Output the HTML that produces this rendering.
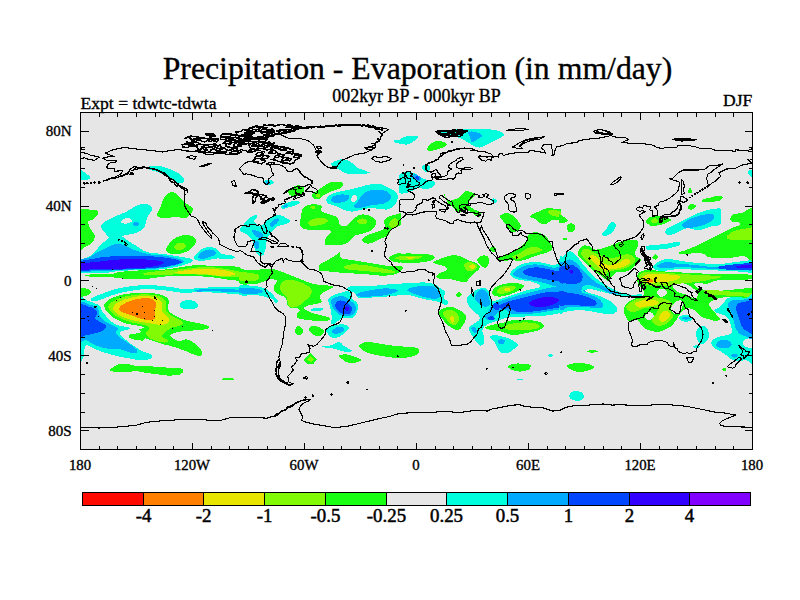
<!DOCTYPE html>
<html><head><meta charset="utf-8"><title>Precipitation - Evaporation</title>
<style>
html,body{margin:0;padding:0;background:#fff;}
body{width:800px;height:600px;position:relative;overflow:hidden;font-family:"Liberation Serif","Times New Roman",serif;color:#000;}
.t{position:absolute;white-space:nowrap;-webkit-text-stroke:0.35px #000;}
</style></head><body>
<svg width="800" height="600" viewBox="0 0 800 600" style="position:absolute;left:0;top:0">
<defs><clipPath id="fr"><rect x="80.5" y="112.5" width="672.0" height="337.0"/></clipPath></defs>
<rect x="80.5" y="112.5" width="672.0" height="337.0" fill="#e6e6e6"/>
<g clip-path="url(#fr)" shape-rendering="crispEdges">
<path d="M79.0,170.0C79.8,168.7 82.2,170.8 84.0,172.0C85.8,173.2 89.3,175.7 90.0,177.0C90.7,178.3 89.8,179.2 88.0,179.6C86.2,180.0 80.5,181.2 79.0,179.6L79.0,170.0Z" fill="#00ffdc"/>
<path d="M148.0,167.0C149.0,166.3 153.3,165.6 156.0,165.6C158.7,165.6 161.0,166.1 164.0,167.0C167.0,167.9 171.0,169.5 174.0,171.0C177.0,172.5 180.3,174.3 182.0,176.0C183.7,177.7 184.2,179.7 184.0,181.0C183.8,182.3 182.7,183.6 181.0,183.6C179.3,183.6 176.5,182.3 174.0,181.0C171.5,179.7 168.7,177.5 166.0,176.0C163.3,174.5 160.7,173.0 158.0,172.0C155.3,171.0 151.7,170.8 150.0,170.0C148.3,169.2 147.0,167.7 148.0,167.0Z" fill="#00ffdc"/>
<path d="M171.0,192.0C173.3,191.5 175.8,193.3 178.0,195.0C180.2,196.7 181.5,199.8 184.0,202.0C186.5,204.2 191.7,206.3 193.0,208.0C194.3,209.7 193.2,210.3 192.0,212.0C190.8,213.7 188.7,217.2 186.0,218.0C183.3,218.8 179.3,217.0 176.0,217.0C172.7,217.0 169.2,218.2 166.0,218.0C162.8,217.8 158.0,217.7 157.0,216.0C156.0,214.3 158.8,211.0 160.0,208.0C161.2,205.0 162.2,200.7 164.0,198.0C165.8,195.3 168.7,192.5 171.0,192.0Z" fill="#19ff14"/>
<path d="M79.0,212.0C81.2,205.7 88.8,210.2 92.0,210.0C95.2,209.8 97.2,210.0 98.0,211.0C98.8,212.0 98.0,214.5 97.0,216.0C96.0,217.5 93.5,219.1 92.0,220.0C90.5,220.9 88.3,220.3 88.0,221.6C87.7,222.9 89.0,225.9 90.0,228.0C91.0,230.1 93.2,232.5 94.0,234.0C94.8,235.5 95.3,235.5 95.0,237.0C94.7,238.5 93.5,241.4 92.0,243.0C90.5,244.6 88.2,245.6 86.0,246.4C83.8,247.2 80.2,253.3 79.0,247.6L79.0,212.0Z" fill="#19ff14"/>
<path d="M101.0,226.0C101.7,224.7 103.5,222.7 106.0,221.0C108.5,219.3 112.7,217.5 116.0,216.0C119.3,214.5 123.0,213.5 126.0,212.0C129.0,210.5 131.3,208.3 134.0,207.0C136.7,205.7 139.3,204.3 142.0,204.0C144.7,203.7 148.3,204.0 150.0,205.0C151.7,206.0 152.3,208.2 152.0,210.0C151.7,211.8 149.0,214.0 148.0,216.0C147.0,218.0 146.7,220.0 146.0,222.0C145.3,224.0 145.3,226.3 144.0,228.0C142.7,229.7 140.3,230.9 138.0,232.0C135.7,233.1 133.0,233.7 130.0,234.4C127.0,235.1 123.0,235.5 120.0,236.4C117.0,237.3 114.3,240.4 112.0,240.0C109.7,239.6 107.7,235.8 106.0,234.0C104.3,232.2 102.8,230.3 102.0,229.0C101.2,227.7 100.3,227.3 101.0,226.0Z" fill="#00ffdc"/>
<path d="M121.0,221.0C121.7,220.2 124.3,218.3 126.0,218.0C127.7,217.7 130.0,218.4 131.0,219.0C132.0,219.6 132.7,220.8 132.0,221.6C131.3,222.4 128.7,223.4 127.0,223.6C125.3,223.8 123.0,223.4 122.0,223.0C121.0,222.6 120.3,221.8 121.0,221.0Z" fill="#e6e6e6"/>
<path d="M133.0,224.0C133.0,223.2 135.0,221.6 136.0,221.6C137.0,221.6 139.0,223.2 139.0,224.0C139.0,224.8 137.0,226.4 136.0,226.4C135.0,226.4 133.0,224.8 133.0,224.0Z" fill="#00aaff"/>
<path d="M79.0,262.0C80.8,259.3 86.8,258.3 90.0,256.0C93.2,253.7 95.7,250.3 98.0,248.0C100.3,245.7 102.0,243.8 104.0,242.0C106.0,240.2 108.3,238.3 110.0,237.0C111.7,235.7 112.7,234.7 114.0,234.0C115.3,233.3 116.5,232.5 118.0,233.0C119.5,233.5 121.0,235.5 123.0,237.0C125.0,238.5 127.5,240.3 130.0,242.0C132.5,243.7 135.7,245.5 138.0,247.0C140.3,248.5 141.7,250.0 144.0,251.0C146.3,252.0 148.7,252.5 152.0,253.0C155.3,253.5 160.0,253.5 164.0,254.0C168.0,254.5 172.0,255.3 176.0,256.0C180.0,256.7 185.2,257.2 188.0,258.0C190.8,258.8 193.7,259.8 193.0,261.0C192.3,262.2 186.8,264.0 184.0,265.0C181.2,266.0 179.3,266.3 176.0,267.0C172.7,267.7 168.3,268.5 164.0,269.0C159.7,269.5 155.7,269.8 150.0,270.0C144.3,270.2 135.7,270.2 130.0,270.4C124.3,270.6 119.3,271.1 116.0,271.4C112.7,271.7 112.7,272.1 110.0,272.4C107.3,272.7 103.3,273.4 100.0,273.4C96.7,273.4 93.5,272.8 90.0,272.6C86.5,272.4 80.8,274.2 79.0,272.4L79.0,262.0Z" fill="#00ffdc"/>
<path d="M79.0,260.0C80.5,257.8 85.2,259.2 88.0,258.0C90.8,256.8 93.3,254.5 96.0,253.0C98.7,251.5 101.7,250.2 104.0,249.0C106.3,247.8 108.0,246.8 110.0,246.0C112.0,245.2 113.7,244.2 116.0,244.0C118.3,243.8 121.3,244.2 124.0,245.0C126.7,245.8 129.3,247.8 132.0,249.0C134.7,250.2 137.0,251.1 140.0,252.0C143.0,252.9 146.0,253.8 150.0,254.4C154.0,255.0 159.7,255.0 164.0,255.6C168.3,256.2 172.7,257.1 176.0,258.0C179.3,258.9 183.3,260.0 184.0,261.0C184.7,262.0 182.7,263.0 180.0,264.0C177.3,265.0 173.0,266.2 168.0,267.0C163.0,267.8 156.3,268.6 150.0,269.0C143.7,269.4 136.7,269.3 130.0,269.6C123.3,269.9 116.3,270.3 110.0,270.6C103.7,270.9 97.2,271.3 92.0,271.4C86.8,271.5 81.2,273.3 79.0,271.4L79.0,260.0Z" fill="#00aaff"/>
<path d="M79.0,262.0C81.2,260.1 87.8,259.8 92.0,259.0C96.2,258.2 99.3,257.5 104.0,257.0C108.7,256.5 114.0,256.2 120.0,256.0C126.0,255.8 133.3,255.4 140.0,255.6C146.7,255.8 154.3,256.4 160.0,257.0C165.7,257.6 170.3,258.2 174.0,259.0C177.7,259.8 181.7,261.1 182.0,262.0C182.3,262.9 179.0,263.6 176.0,264.4C173.0,265.2 168.7,266.3 164.0,267.0C159.3,267.7 153.7,268.0 148.0,268.4C142.3,268.8 136.3,268.9 130.0,269.2C123.7,269.5 116.3,269.8 110.0,270.0C103.7,270.2 97.2,270.3 92.0,270.4C86.8,270.5 81.2,271.8 79.0,270.4L79.0,262.0Z" fill="#0046ff"/>
<path d="M79.0,264.0C81.8,262.8 90.5,262.7 96.0,262.0C101.5,261.3 106.3,260.5 112.0,260.0C117.7,259.5 124.0,259.1 130.0,259.0C136.0,258.9 143.0,259.3 148.0,259.6C153.0,259.9 157.3,260.4 160.0,261.0C162.7,261.6 164.3,262.2 164.0,263.0C163.7,263.8 161.3,264.8 158.0,265.6C154.7,266.4 149.0,267.1 144.0,267.6C139.0,268.1 134.0,268.1 128.0,268.4C122.0,268.7 114.0,269.0 108.0,269.2C102.0,269.4 96.8,269.4 92.0,269.4C87.2,269.4 81.2,270.3 79.0,269.4L79.0,264.0Z" fill="#3200ff"/>
<path d="M194.0,258.0C193.7,256.5 196.3,253.7 198.0,252.0C199.7,250.3 201.7,248.8 204.0,248.0C206.3,247.2 209.7,246.7 212.0,247.0C214.3,247.3 216.5,248.9 218.0,250.0C219.5,251.1 218.7,252.7 221.0,253.6C223.3,254.5 229.7,254.9 232.0,255.6C234.3,256.3 235.7,257.0 235.0,257.6C234.3,258.2 230.8,259.3 228.0,259.4C225.2,259.5 221.3,258.3 218.0,258.4C214.7,258.5 211.0,259.6 208.0,260.0C205.0,260.4 202.3,261.3 200.0,261.0C197.7,260.7 194.3,259.5 194.0,258.0Z" fill="#00ffdc"/>
<path d="M198.0,257.0C198.0,255.8 200.3,253.2 202.0,252.0C203.7,250.8 206.0,249.9 208.0,249.6C210.0,249.3 212.7,249.7 214.0,250.4C215.3,251.1 216.7,252.9 216.0,254.0C215.3,255.1 212.3,256.2 210.0,257.0C207.7,257.8 204.0,259.0 202.0,259.0C200.0,259.0 198.0,258.2 198.0,257.0Z" fill="#00aaff"/>
<path d="M166.0,250.0C165.8,248.4 167.7,245.8 169.0,244.0C170.3,242.2 172.2,240.3 174.0,239.0C175.8,237.7 177.7,236.7 180.0,236.0C182.3,235.3 185.5,234.7 188.0,235.0C190.5,235.3 193.7,236.8 195.0,238.0C196.3,239.2 196.5,240.3 196.0,242.0C195.5,243.7 193.7,246.3 192.0,248.0C190.3,249.7 188.3,251.0 186.0,252.0C183.7,253.0 180.7,253.7 178.0,254.0C175.3,254.3 172.0,254.3 170.0,253.6C168.0,252.9 166.2,251.6 166.0,250.0Z" fill="#19ff14"/>
<path d="M174.0,247.0C174.2,245.8 176.5,243.7 178.0,243.0C179.5,242.3 181.7,242.5 183.0,243.0C184.3,243.5 186.2,244.9 186.0,246.0C185.8,247.1 183.5,248.9 182.0,249.6C180.5,250.3 178.3,250.4 177.0,250.0C175.7,249.6 173.8,248.2 174.0,247.0Z" fill="#82fa05"/>
<path d="M86.0,275.0C88.0,274.6 96.0,273.9 100.0,273.8C104.0,273.7 106.7,274.7 110.0,274.4C113.3,274.1 115.0,272.7 120.0,272.0C125.0,271.3 133.3,270.7 140.0,270.4C146.7,270.1 154.0,270.4 160.0,270.0C166.0,269.6 171.3,268.7 176.0,268.0C180.7,267.3 184.0,266.5 188.0,266.0C192.0,265.5 196.3,265.0 200.0,265.0C203.7,265.0 206.0,265.8 210.0,266.0C214.0,266.2 218.8,266.1 224.0,266.4C229.2,266.7 238.2,265.7 241.0,268.0L241.0,280.0C238.2,281.8 229.2,279.5 224.0,279.0C218.8,278.5 215.3,277.5 210.0,277.0C204.7,276.5 197.7,276.2 192.0,276.0C186.3,275.8 181.3,275.4 176.0,275.6C170.7,275.8 165.0,276.4 160.0,277.0C155.0,277.6 150.7,278.7 146.0,279.0C141.3,279.3 136.3,279.1 132.0,279.0C127.7,278.9 123.3,278.7 120.0,278.4C116.7,278.1 115.3,277.4 112.0,277.2C108.7,277.0 104.0,277.1 100.0,277.0C96.0,276.9 90.3,276.7 88.0,276.4C85.7,276.1 84.0,275.4 86.0,275.0Z" fill="#19ff14"/>
<path d="M144.0,273.0C146.3,272.3 154.7,271.6 160.0,271.0C165.3,270.4 170.7,270.1 176.0,269.6C181.3,269.1 187.3,268.4 192.0,268.0C196.7,267.6 199.3,267.0 204.0,267.0C208.7,267.0 214.7,267.3 220.0,268.0C225.3,268.7 232.5,270.3 236.0,271.0C239.5,271.7 240.2,271.0 241.0,272.0L241.0,277.0C238.2,277.8 229.5,277.3 224.0,277.0C218.5,276.7 213.3,275.4 208.0,275.0C202.7,274.6 197.3,274.5 192.0,274.4C186.7,274.3 181.3,274.3 176.0,274.4C170.7,274.5 165.0,274.9 160.0,275.0C155.0,275.1 148.7,275.3 146.0,275.0C143.3,274.7 141.7,273.7 144.0,273.0Z" fill="#82fa05"/>
<path d="M176.0,272.0C177.7,271.4 183.3,270.6 188.0,270.0C192.7,269.4 198.7,268.7 204.0,268.6C209.3,268.5 215.3,269.0 220.0,269.6C224.7,270.2 229.7,271.1 232.0,272.0C234.3,272.9 236.0,274.3 234.0,275.0C232.0,275.7 225.0,276.2 220.0,276.0C215.0,275.8 209.3,274.4 204.0,274.0C198.7,273.6 192.3,273.7 188.0,273.6C183.7,273.5 180.0,273.9 178.0,273.6C176.0,273.3 174.3,272.6 176.0,272.0Z" fill="#e8e600"/>
<path d="M92.0,298.0C94.0,296.7 99.3,294.7 104.0,293.0C108.7,291.3 113.0,289.3 120.0,288.0C127.0,286.7 137.7,285.2 146.0,285.0C154.3,284.8 163.7,286.3 170.0,287.0C176.3,287.7 179.0,288.8 184.0,289.0C189.0,289.2 194.0,288.3 200.0,288.0C206.0,287.7 213.2,287.0 220.0,287.0C226.8,287.0 237.5,286.8 241.0,288.0L241.0,294.0C237.5,294.8 226.8,293.3 220.0,293.0C213.2,292.7 206.0,292.0 200.0,292.0C194.0,292.0 189.0,293.2 184.0,293.0C179.0,292.8 174.0,291.5 170.0,291.0C166.0,290.5 164.0,290.3 160.0,290.0C156.0,289.7 151.0,288.8 146.0,289.0C141.0,289.2 134.3,290.3 130.0,291.0C125.7,291.7 123.3,292.2 120.0,293.0C116.7,293.8 113.3,294.8 110.0,296.0C106.7,297.2 103.0,299.2 100.0,300.0C97.0,300.8 93.3,301.3 92.0,301.0C90.7,300.7 90.0,299.3 92.0,298.0Z" fill="#00ffdc"/>
<path d="M196.0,290.0C198.0,289.5 205.3,288.8 210.0,288.6C214.7,288.4 218.8,288.8 224.0,289.0C229.2,289.2 238.2,289.5 241.0,290.0C243.8,290.5 243.8,291.7 241.0,292.0C238.2,292.3 229.2,291.7 224.0,291.6C218.8,291.5 214.3,291.2 210.0,291.2C205.7,291.2 200.3,291.8 198.0,291.6C195.7,291.4 194.0,290.5 196.0,290.0Z" fill="#00aaff"/>
<path d="M79.0,289.0C80.2,287.7 84.0,288.1 86.0,288.4C88.0,288.7 90.5,290.0 91.0,291.0C91.5,292.0 90.2,293.5 89.0,294.4C87.8,295.3 85.7,296.1 84.0,296.4C82.3,296.7 79.8,297.6 79.0,296.4L79.0,289.0Z" fill="#19ff14"/>
<path d="M79.0,301.6C80.5,291.8 85.5,300.8 88.0,301.0C90.5,301.2 92.0,302.2 94.0,303.0C96.0,303.8 98.7,304.7 100.0,306.0C101.3,307.3 101.0,309.3 102.0,311.0C103.0,312.7 104.3,314.2 106.0,316.0C107.7,317.8 109.7,320.3 112.0,322.0C114.3,323.7 117.3,325.2 120.0,326.0C122.7,326.8 126.3,326.5 128.0,327.0C129.7,327.5 131.0,328.3 130.0,329.0C129.0,329.7 123.7,330.2 122.0,331.0C120.3,331.8 119.3,332.5 120.0,334.0C120.7,335.5 123.7,338.0 126.0,340.0C128.3,342.0 131.3,344.2 134.0,346.0C136.7,347.8 139.3,349.7 142.0,351.0C144.7,352.3 148.3,352.8 150.0,354.0C151.7,355.2 152.7,357.0 152.0,358.0C151.3,359.0 148.7,359.7 146.0,360.0C143.3,360.3 139.2,359.9 136.0,359.6C132.8,359.3 130.0,358.5 127.0,358.0C124.0,357.5 121.2,357.1 118.0,356.4C114.8,355.7 111.0,354.5 108.0,353.6C105.0,352.7 102.7,352.0 100.0,351.0C97.3,350.0 94.3,348.6 92.0,347.6C89.7,346.6 87.7,344.6 86.4,344.8C85.1,345.0 84.8,347.1 84.4,349.0C84.0,350.9 84.3,354.3 84.0,356.0C83.7,357.7 83.2,358.4 82.4,359.0C81.6,359.6 79.6,369.2 79.0,359.6L79.0,301.6Z" fill="#00ffdc"/>
<path d="M79.0,304.0C80.8,298.3 87.0,304.5 90.0,305.0C93.0,305.5 95.5,305.8 97.0,307.0C98.5,308.2 98.5,310.3 99.0,312.0C99.5,313.7 98.8,315.3 100.0,317.0C101.2,318.7 103.7,320.5 106.0,322.0C108.3,323.5 112.0,324.8 114.0,326.0C116.0,327.2 117.7,327.8 118.0,329.0C118.3,330.2 115.3,331.3 116.0,333.0C116.7,334.7 119.7,337.1 122.0,339.0C124.3,340.9 127.5,342.6 130.0,344.4C132.5,346.2 136.0,348.6 137.0,350.0C138.0,351.4 137.5,352.7 136.0,353.0C134.5,353.3 130.7,352.7 128.0,352.0C125.3,351.3 123.0,349.5 120.0,349.0C117.0,348.5 113.3,349.3 110.0,349.0C106.7,348.7 103.0,347.9 100.0,347.0C97.0,346.1 94.3,344.8 92.0,343.6C89.7,342.4 88.2,340.8 86.0,340.0C83.8,339.2 80.2,345.0 79.0,339.0L79.0,304.0Z" fill="#00aaff"/>
<path d="M79.0,306.0C80.5,301.2 85.3,305.9 88.0,306.4C90.7,306.9 93.5,307.7 95.0,309.0C96.5,310.3 97.0,312.5 97.0,314.0C97.0,315.5 94.5,316.7 95.0,318.0C95.5,319.3 98.2,320.8 100.0,322.0C101.8,323.2 105.2,323.8 106.0,325.0C106.8,326.2 106.0,327.8 105.0,329.0C104.0,330.2 102.2,331.2 100.0,332.0C97.8,332.8 94.3,333.5 92.0,334.0C89.7,334.5 88.2,334.8 86.0,335.0C83.8,335.2 80.2,339.8 79.0,335.0L79.0,306.0Z" fill="#0046ff"/>
<path d="M79.0,310.0C79.4,309.6 80.8,310.1 81.2,310.4C81.6,310.7 82.0,311.6 81.6,312.0C81.2,312.4 79.4,313.1 79.0,312.8C78.6,312.5 78.6,310.4 79.0,310.0Z" fill="#3200ff"/>
<path d="M104.0,306.0C103.8,304.0 105.3,302.5 107.0,301.0C108.7,299.5 111.2,298.1 114.0,297.0C116.8,295.9 120.3,295.1 124.0,294.4C127.7,293.7 131.7,293.2 136.0,293.0C140.3,292.8 146.0,292.8 150.0,293.0C154.0,293.2 157.3,293.7 160.0,294.4C162.7,295.1 164.5,295.9 166.0,297.0C167.5,298.1 168.7,299.5 169.0,301.0C169.3,302.5 168.0,304.3 168.0,306.0C168.0,307.7 168.0,309.5 169.0,311.0C170.0,312.5 171.8,313.7 174.0,315.0C176.2,316.3 179.0,317.8 182.0,319.0C185.0,320.2 188.7,321.2 192.0,322.0C195.3,322.8 199.2,323.3 202.0,324.0C204.8,324.7 208.2,325.6 209.0,326.4C209.8,327.2 208.8,328.4 207.0,329.0C205.2,329.6 201.2,329.7 198.0,330.0C194.8,330.3 191.0,330.7 188.0,331.0C185.0,331.3 182.3,331.3 180.0,331.6C177.7,331.9 175.7,332.3 174.0,333.0C172.3,333.7 170.0,334.6 170.0,335.6C170.0,336.6 172.3,338.0 174.0,339.0C175.7,340.0 178.3,341.5 180.0,341.6C181.7,341.7 182.5,339.9 184.0,339.6C185.5,339.3 187.0,339.2 189.0,340.0C191.0,340.8 193.8,342.5 196.0,344.4C198.2,346.3 201.2,349.7 202.0,351.6C202.8,353.5 202.2,355.4 201.0,356.0C199.8,356.6 197.2,355.7 195.0,355.0C192.8,354.3 190.5,353.0 188.0,352.0C185.5,351.0 182.7,349.9 180.0,349.0C177.3,348.1 174.7,347.2 172.0,346.4C169.3,345.6 166.5,345.1 164.0,344.4C161.5,343.7 159.3,342.7 157.0,342.0C154.7,341.3 152.0,340.6 150.0,340.0C148.0,339.4 146.2,338.2 145.0,338.4C143.8,338.6 143.8,340.7 143.0,341.0C142.2,341.3 141.5,340.2 140.0,340.0C138.5,339.8 135.8,340.0 134.0,339.6C132.2,339.2 129.7,338.4 129.0,337.6C128.3,336.8 128.8,335.3 130.0,334.6C131.2,333.9 134.2,334.0 136.0,333.6C137.8,333.2 140.5,332.7 141.0,332.0C141.5,331.3 138.5,330.3 139.0,329.6C139.5,328.9 144.2,328.3 144.0,327.6C143.8,326.9 140.3,326.1 138.0,325.6C135.7,325.1 132.7,325.0 130.0,324.4C127.3,323.8 124.7,323.1 122.0,322.0C119.3,320.9 116.3,319.5 114.0,318.0C111.7,316.5 109.7,315.0 108.0,313.0C106.3,311.0 104.2,308.0 104.0,306.0Z" fill="#19ff14"/>
<path d="M108.0,307.0C108.0,305.2 110.0,303.5 112.0,302.0C114.0,300.5 117.0,299.1 120.0,298.0C123.0,296.9 126.7,296.2 130.0,295.6C133.3,295.0 136.7,294.6 140.0,294.4C143.3,294.2 146.8,294.3 150.0,294.6C153.2,294.9 156.7,295.3 159.0,296.0C161.3,296.7 162.8,297.8 164.0,299.0C165.2,300.2 166.1,301.5 166.4,303.0C166.7,304.5 165.3,306.3 165.6,308.0C165.9,309.7 166.6,311.5 168.0,313.0C169.4,314.5 172.0,315.8 174.0,317.0C176.0,318.2 178.5,319.0 180.0,320.0C181.5,321.0 183.2,322.0 183.0,323.0C182.8,324.0 180.8,325.2 179.0,326.0C177.2,326.8 173.8,326.9 172.0,327.6C170.2,328.3 169.3,329.1 168.0,330.0C166.7,330.9 165.0,331.8 164.0,333.0C163.0,334.2 161.3,335.8 162.0,337.0C162.7,338.2 167.3,339.1 168.0,340.0C168.7,340.9 167.3,342.1 166.0,342.4C164.7,342.7 162.0,342.4 160.0,342.0C158.0,341.6 156.0,340.8 154.0,340.0C152.0,339.2 149.3,338.2 148.0,337.0C146.7,335.8 145.8,334.2 146.0,333.0C146.2,331.8 148.7,331.1 149.0,330.0C149.3,328.9 149.5,327.4 148.0,326.4C146.5,325.4 143.0,324.7 140.0,324.0C137.0,323.3 133.3,323.0 130.0,322.0C126.7,321.0 123.0,319.5 120.0,318.0C117.0,316.5 114.0,314.8 112.0,313.0C110.0,311.2 108.0,308.8 108.0,307.0Z" fill="#82fa05"/>
<path d="M113.0,308.0C113.2,306.3 115.2,304.4 117.0,303.0C118.8,301.6 121.2,300.6 124.0,299.6C126.8,298.6 130.7,297.6 134.0,297.0C137.3,296.4 140.7,296.0 144.0,296.0C147.3,296.0 151.3,296.3 154.0,297.0C156.7,297.7 158.6,298.7 160.0,300.0C161.4,301.3 162.1,303.3 162.4,305.0C162.7,306.7 161.2,308.3 161.6,310.0C162.0,311.7 163.8,313.5 165.0,315.0C166.2,316.5 168.5,317.7 169.0,319.0C169.5,320.3 169.2,322.0 168.0,323.0C166.8,324.0 164.3,324.8 162.0,325.0C159.7,325.2 157.3,324.5 154.0,324.0C150.7,323.5 145.7,322.7 142.0,322.0C138.3,321.3 135.2,320.8 132.0,320.0C128.8,319.2 125.7,318.2 123.0,317.0C120.3,315.8 117.7,314.5 116.0,313.0C114.3,311.5 112.8,309.7 113.0,308.0Z" fill="#e8e600"/>
<path d="M119.0,309.0C119.0,307.8 120.2,306.3 122.0,305.0C123.8,303.7 127.0,302.1 130.0,301.0C133.0,299.9 136.7,299.0 140.0,298.6C143.3,298.2 147.5,298.0 150.0,298.4C152.5,298.8 154.0,299.7 155.0,301.0C156.0,302.3 156.1,304.2 156.0,306.0C155.9,307.8 154.5,310.2 154.4,312.0C154.3,313.8 156.0,315.7 155.6,317.0C155.2,318.3 153.9,319.6 152.0,320.0C150.1,320.4 146.7,320.1 144.0,319.6C141.3,319.1 138.7,317.9 136.0,317.0C133.3,316.1 130.3,314.8 128.0,314.0C125.7,313.2 123.5,312.8 122.0,312.0C120.5,311.2 119.0,310.2 119.0,309.0Z" fill="#ff8000"/>
<path d="M110.0,370.0C110.3,369.1 113.0,367.1 115.0,366.0C117.0,364.9 119.5,363.9 122.0,363.6C124.5,363.3 127.3,363.9 130.0,364.4C132.7,364.9 135.3,366.2 138.0,366.4C140.7,366.6 143.0,365.5 146.0,365.6C149.0,365.7 152.3,366.7 156.0,367.0C159.7,367.3 164.0,367.4 168.0,367.6C172.0,367.8 177.5,367.4 180.0,368.0C182.5,368.6 183.0,369.9 183.0,371.0C183.0,372.1 182.5,373.6 180.0,374.4C177.5,375.2 172.0,375.7 168.0,375.6C164.0,375.5 159.7,374.4 156.0,374.0C152.3,373.6 149.3,373.5 146.0,373.0C142.7,372.5 139.0,371.1 136.0,371.0C133.0,370.9 130.7,372.2 128.0,372.4C125.3,372.6 122.5,372.1 120.0,372.0C117.5,371.9 114.7,371.9 113.0,371.6C111.3,371.3 109.7,370.9 110.0,370.0Z" fill="#19ff14"/>
<path d="M221.0,379.2C221.0,378.8 225.7,378.0 228.0,378.0C230.3,378.0 235.0,378.8 235.0,379.2C235.0,379.6 230.3,380.2 228.0,380.2C225.7,380.2 221.0,379.6 221.0,379.2Z" fill="#19ff14"/>
<path d="M179.6,304.4C179.9,303.3 181.3,301.7 183.0,301.0C184.7,300.3 187.8,299.8 190.0,300.0C192.2,300.2 194.7,301.0 196.0,302.0C197.3,303.0 198.3,304.8 198.0,306.0C197.7,307.2 196.0,308.5 194.0,309.0C192.0,309.5 188.2,309.2 186.0,309.0C183.8,308.8 182.1,308.4 181.0,307.6C179.9,306.8 179.3,305.5 179.6,304.4Z" fill="#00ffdc"/>
<path d="M331.0,164.0C331.7,162.8 335.5,160.7 338.0,160.0C340.5,159.3 343.7,159.1 346.0,159.6C348.3,160.1 350.0,161.6 352.0,163.0C354.0,164.4 355.7,166.7 358.0,168.0C360.3,169.3 364.0,170.2 366.0,171.0C368.0,171.8 371.0,172.5 370.0,173.0C369.0,173.5 363.0,173.8 360.0,174.0C357.0,174.2 354.5,174.6 352.0,174.4C349.5,174.2 347.0,173.7 345.0,173.0C343.0,172.3 341.8,171.0 340.0,170.0C338.2,169.0 335.5,168.0 334.0,167.0C332.5,166.0 330.3,165.2 331.0,164.0Z" fill="#00ffdc"/>
<path d="M394.0,140.4C395.0,140.0 399.8,139.6 401.0,140.0C402.2,140.4 402.0,142.6 401.0,143.0C400.0,143.4 396.2,142.8 395.0,142.4C393.8,142.0 393.0,140.8 394.0,140.4Z" fill="#00ffdc"/>
<path d="M264.0,181.0C264.7,180.3 268.3,179.8 270.0,180.0C271.7,180.2 274.0,181.6 274.0,182.4C274.0,183.2 271.4,184.7 270.0,185.0C268.6,185.3 266.6,185.1 265.6,184.4C264.6,183.7 263.3,181.7 264.0,181.0Z" fill="#00ffdc"/>
<path d="M265.6,182.0C266.0,181.5 268.3,180.7 269.0,181.0C269.7,181.3 270.4,183.1 270.0,183.6C269.6,184.1 267.1,184.3 266.4,184.0C265.7,183.7 265.2,182.5 265.6,182.0Z" fill="#00aaff"/>
<path d="M288.0,192.0C288.2,190.7 290.3,189.2 292.0,188.0C293.7,186.8 296.0,185.0 298.0,185.0C300.0,185.0 303.2,186.7 304.0,188.0C304.8,189.3 304.0,191.7 303.0,193.0C302.0,194.3 300.0,195.6 298.0,196.0C296.0,196.4 292.7,196.3 291.0,195.6C289.3,194.9 287.8,193.3 288.0,192.0Z" fill="#19ff14"/>
<path d="M312.0,195.0C312.3,193.7 315.0,192.5 317.0,191.0C319.0,189.5 321.8,187.4 324.0,186.0C326.2,184.6 327.7,183.1 330.0,182.4C332.3,181.7 335.8,181.9 338.0,182.0C340.2,182.1 342.3,182.2 343.0,183.0C343.7,183.8 343.2,185.8 342.0,187.0C340.8,188.2 338.0,189.2 336.0,190.0C334.0,190.8 332.0,191.2 330.0,192.0C328.0,192.8 325.7,193.9 324.0,195.0C322.3,196.1 321.5,197.7 320.0,198.4C318.5,199.1 316.3,199.6 315.0,199.0C313.7,198.4 311.7,196.3 312.0,195.0Z" fill="#19ff14"/>
<path d="M315.6,195.6C315.5,194.9 317.2,193.7 318.0,193.6C318.8,193.5 320.3,194.3 320.4,195.0C320.5,195.7 319.2,197.5 318.4,197.6C317.6,197.7 315.7,196.3 315.6,195.6Z" fill="#82fa05"/>
<path d="M326.0,200.0C326.2,198.5 328.0,196.3 330.0,195.0C332.0,193.7 335.0,192.8 338.0,192.0C341.0,191.2 344.3,190.8 348.0,190.0C351.7,189.2 356.3,187.9 360.0,187.0C363.7,186.1 366.7,184.9 370.0,184.4C373.3,183.9 377.3,183.7 380.0,184.0C382.7,184.3 384.2,185.6 386.0,186.4C387.8,187.2 389.4,188.1 391.0,189.0C392.6,189.9 394.4,190.8 395.6,192.0C396.8,193.2 397.8,194.5 398.0,196.0C398.2,197.5 397.7,199.4 397.0,201.0C396.3,202.6 395.5,204.2 394.0,205.6C392.5,207.0 390.3,208.8 388.0,209.4C385.7,210.0 383.0,209.2 380.0,209.0C377.0,208.8 373.3,207.8 370.0,208.0C366.7,208.2 363.0,209.4 360.0,210.0C357.0,210.6 354.7,211.6 352.0,211.6C349.3,211.6 346.7,210.9 344.0,210.0C341.3,209.1 338.5,207.0 336.0,206.0C333.5,205.0 330.7,205.0 329.0,204.0C327.3,203.0 325.8,201.5 326.0,200.0Z" fill="#00ffdc"/>
<path d="M331.0,200.0C330.8,198.8 332.2,196.9 334.0,196.0C335.8,195.1 339.5,194.5 342.0,194.4C344.5,194.3 348.0,194.7 349.0,195.6C350.0,196.5 349.2,198.9 348.0,200.0C346.8,201.1 344.2,201.9 342.0,202.4C339.8,202.9 336.8,203.4 335.0,203.0C333.2,202.6 331.2,201.2 331.0,200.0Z" fill="#00aaff"/>
<path d="M351.0,200.0C350.8,198.9 352.2,196.4 353.0,195.6C353.8,194.8 355.3,194.4 356.0,195.0C356.7,195.6 357.3,197.8 357.0,199.0C356.7,200.2 355.0,201.8 354.0,202.0C353.0,202.2 351.2,201.1 351.0,200.0Z" fill="#e6e6e6"/>
<path d="M354.0,206.0C354.0,204.8 356.7,202.8 358.0,201.0C359.3,199.2 360.3,196.7 362.0,195.0C363.7,193.3 365.3,191.9 368.0,191.0C370.7,190.1 375.0,189.6 378.0,189.6C381.0,189.6 383.8,189.9 386.0,191.0C388.2,192.1 390.5,194.3 391.0,196.0C391.5,197.7 390.5,199.7 389.0,201.0C387.5,202.3 384.8,203.3 382.0,204.0C379.2,204.7 375.0,204.5 372.0,205.0C369.0,205.5 366.3,206.4 364.0,207.0C361.7,207.6 359.7,208.6 358.0,208.4C356.3,208.2 354.0,207.2 354.0,206.0Z" fill="#00aaff"/>
<path d="M281.0,207.0C281.5,206.0 283.8,204.0 286.0,203.0C288.2,202.0 291.7,201.2 294.0,201.0C296.3,200.8 299.7,201.3 300.0,202.0C300.3,202.7 298.0,204.1 296.0,205.0C294.0,205.9 290.2,206.9 288.0,207.6C285.8,208.3 284.2,209.1 283.0,209.0C281.8,208.9 280.5,208.0 281.0,207.0Z" fill="#00ffdc"/>
<path d="M283.0,206.0C283.4,205.5 286.2,204.4 287.0,204.4C287.8,204.4 288.4,205.5 288.0,206.0C287.6,206.5 285.2,207.6 284.4,207.6C283.6,207.6 282.6,206.5 283.0,206.0Z" fill="#00aaff"/>
<path d="M300.0,224.0C299.8,222.0 300.5,218.7 301.0,216.0C301.5,213.3 301.8,209.8 303.0,208.0C304.2,206.2 305.8,205.6 308.0,205.0C310.2,204.4 313.7,204.2 316.0,204.4C318.3,204.6 321.2,204.9 322.0,206.0C322.8,207.1 320.0,209.7 321.0,211.0C322.0,212.3 325.5,213.1 328.0,214.0C330.5,214.9 334.2,215.2 336.0,216.4C337.8,217.6 338.3,219.6 339.0,221.0C339.7,222.4 338.8,224.2 340.0,225.0C341.2,225.8 344.2,226.5 346.0,226.0C347.8,225.5 349.3,223.5 351.0,222.0C352.7,220.5 354.2,218.3 356.0,217.0C357.8,215.7 359.7,214.6 362.0,214.4C364.3,214.2 367.7,214.9 370.0,216.0C372.3,217.1 375.3,219.0 376.0,221.0C376.7,223.0 375.3,226.2 374.0,228.0C372.7,229.8 370.3,230.9 368.0,232.0C365.7,233.1 362.3,233.7 360.0,234.4C357.7,235.1 355.7,234.9 354.0,236.0C352.3,237.1 351.7,239.6 350.0,241.0C348.3,242.4 346.7,243.7 344.0,244.4C341.3,245.1 337.2,245.0 334.0,245.0C330.8,245.0 326.3,245.6 325.0,244.4C323.7,243.2 325.0,240.1 326.0,238.0C327.0,235.9 330.7,233.3 331.0,232.0C331.3,230.7 329.8,230.3 328.0,230.0C326.2,229.7 323.0,230.4 320.0,230.4C317.0,230.4 313.0,230.4 310.0,230.0C307.0,229.6 303.7,229.0 302.0,228.0C300.3,227.0 300.2,226.0 300.0,224.0Z" fill="#19ff14"/>
<path d="M308.0,222.0C308.5,220.9 310.7,219.7 313.0,219.0C315.3,218.3 319.5,217.8 322.0,218.0C324.5,218.2 327.5,219.1 328.0,220.0C328.5,220.9 327.0,222.7 325.0,223.6C323.0,224.5 318.5,225.3 316.0,225.6C313.5,225.9 311.3,226.2 310.0,225.6C308.7,225.0 307.5,223.1 308.0,222.0Z" fill="#82fa05"/>
<path d="M357.0,221.0C357.2,220.0 360.3,218.6 362.0,218.4C363.7,218.2 366.3,219.1 367.0,220.0C367.7,220.9 367.0,222.9 366.0,223.6C365.0,224.3 362.5,224.8 361.0,224.4C359.5,224.0 356.8,222.0 357.0,221.0Z" fill="#82fa05"/>
<path d="M310.0,207.0C310.2,206.5 314.3,205.7 315.0,206.0C315.7,206.3 314.8,208.8 314.0,209.0C313.2,209.2 309.8,207.5 310.0,207.0Z" fill="#82fa05"/>
<path d="M362.0,239.0C362.8,237.8 365.7,236.2 368.0,235.0C370.3,233.8 373.7,232.8 376.0,232.0C378.3,231.2 380.5,231.0 382.0,230.0C383.5,229.0 384.7,227.5 385.0,226.0C385.3,224.5 383.5,222.5 384.0,221.0C384.5,219.5 386.0,218.1 388.0,217.0C390.0,215.9 393.8,214.9 396.0,214.4C398.2,213.9 400.2,212.3 401.0,214.0L401.0,224.4C399.8,226.7 395.8,226.7 394.0,228.0C392.2,229.3 391.0,230.7 390.0,232.0C389.0,233.3 389.7,234.8 388.0,236.0C386.3,237.2 382.3,238.0 380.0,239.0C377.7,240.0 376.0,241.2 374.0,242.0C372.0,242.8 369.8,243.6 368.0,243.6C366.2,243.6 364.0,242.8 363.0,242.0C362.0,241.2 361.2,240.2 362.0,239.0Z" fill="#19ff14"/>
<path d="M389.0,224.0C389.3,222.6 391.7,219.8 393.0,219.0C394.3,218.2 396.0,218.3 397.0,219.0C398.0,219.7 399.3,221.7 399.0,223.0C398.7,224.3 396.3,226.2 395.0,227.0C393.7,227.8 392.0,228.1 391.0,227.6C390.0,227.1 388.7,225.4 389.0,224.0Z" fill="#82fa05"/>
<path d="M244.0,224.0C245.3,222.3 246.2,220.5 248.0,219.0C249.8,217.5 253.5,215.3 255.0,215.0C256.5,214.7 257.2,216.0 257.0,217.0C256.8,218.0 253.5,219.5 254.0,221.0C254.5,222.5 258.3,225.7 260.0,226.0C261.7,226.3 262.7,224.0 264.0,223.0C265.3,222.0 266.3,221.2 268.0,220.0C269.7,218.8 272.0,216.8 274.0,216.0C276.0,215.2 278.0,214.7 280.0,215.0C282.0,215.3 284.3,217.0 286.0,218.0C287.7,219.0 290.0,220.0 290.0,221.0C290.0,222.0 288.0,223.2 286.0,224.0C284.0,224.8 280.2,225.0 278.0,226.0C275.8,227.0 274.3,228.7 273.0,230.0C271.7,231.3 271.0,232.5 270.0,234.0C269.0,235.5 267.7,237.0 267.0,239.0C266.3,241.0 266.5,243.5 266.0,246.0C265.5,248.5 265.0,252.3 264.0,254.0C263.0,255.7 261.3,256.3 260.0,256.0C258.7,255.7 257.0,253.7 256.0,252.0C255.0,250.3 254.7,248.0 254.0,246.0C253.3,244.0 253.0,241.8 252.0,240.0C251.0,238.2 249.7,236.3 248.0,235.0C246.3,233.7 243.3,233.0 242.0,232.0C240.7,231.0 239.7,230.3 240.0,229.0C240.3,227.7 242.7,225.7 244.0,224.0Z" fill="#00ffdc"/>
<path d="M252.0,230.0C252.8,229.7 256.2,230.3 258.0,231.0C259.8,231.7 262.3,232.8 263.0,234.0C263.7,235.2 263.0,237.5 262.0,238.0C261.0,238.5 258.5,237.8 257.0,237.0C255.5,236.2 253.8,234.2 253.0,233.0C252.2,231.8 251.2,230.3 252.0,230.0Z" fill="#00aaff"/>
<path d="M270.0,224.0C270.5,222.7 273.5,219.8 275.0,219.0C276.5,218.2 278.7,218.3 279.0,219.0C279.3,219.7 278.2,221.7 277.0,223.0C275.8,224.3 273.2,226.8 272.0,227.0C270.8,227.2 269.5,225.3 270.0,224.0Z" fill="#00aaff"/>
<path d="M254.0,242.0C254.3,240.7 257.2,240.2 258.0,241.0C258.8,241.8 259.3,245.7 259.0,247.0C258.7,248.3 256.8,249.8 256.0,249.0C255.2,248.2 253.7,243.3 254.0,242.0Z" fill="#00aaff"/>
<path d="M389.0,258.0C389.2,256.8 392.0,255.1 394.0,254.4C396.0,253.7 399.8,252.3 401.0,253.6L401.0,262.0C399.7,263.3 395.0,262.3 393.0,261.6C391.0,260.9 388.8,259.2 389.0,258.0Z" fill="#19ff14"/>
<path d="M392.0,258.0C392.3,257.3 395.5,256.3 397.0,256.0C398.5,255.7 400.3,255.3 401.0,256.0L401.0,260.4C400.0,261.1 396.5,260.8 395.0,260.4C393.5,260.0 391.7,258.7 392.0,258.0Z" fill="#82fa05"/>
<path d="M239.0,270.0C241.2,267.9 247.8,270.6 252.0,270.4C256.2,270.2 260.7,269.2 264.0,269.0C267.3,268.8 269.3,268.7 272.0,269.0C274.7,269.3 277.0,270.0 280.0,271.0C283.0,272.0 286.7,273.7 290.0,275.0C293.3,276.3 296.7,277.7 300.0,279.0C303.3,280.3 306.7,282.0 310.0,283.0C313.3,284.0 316.7,284.6 320.0,285.0C323.3,285.4 327.7,285.3 330.0,285.6C332.3,285.9 334.3,286.3 334.0,287.0C333.7,287.7 330.0,289.0 328.0,290.0C326.0,291.0 323.3,291.7 322.0,293.0C320.7,294.3 320.0,296.5 320.0,298.0C320.0,299.5 322.7,301.0 322.0,302.0C321.3,303.0 318.0,303.5 316.0,304.0C314.0,304.5 312.0,304.3 310.0,305.0C308.0,305.7 304.0,306.8 304.0,308.0C304.0,309.2 307.3,310.8 310.0,312.0C312.7,313.2 317.0,314.2 320.0,315.0C323.0,315.8 326.3,316.2 328.0,317.0C329.7,317.8 331.3,319.3 330.0,320.0C328.7,320.7 323.7,321.0 320.0,321.0C316.3,321.0 311.7,320.5 308.0,320.0C304.3,319.5 299.8,319.0 298.0,318.0C296.2,317.0 296.7,315.3 297.0,314.0C297.3,312.7 300.2,311.0 300.0,310.0C299.8,309.0 297.7,308.4 296.0,308.0C294.3,307.6 291.5,308.3 290.0,307.6C288.5,306.9 287.7,305.6 287.0,304.0C286.3,302.4 287.2,299.5 286.0,298.0C284.8,296.5 281.8,296.0 280.0,295.0C278.2,294.0 276.0,293.5 275.0,292.0C274.0,290.5 273.7,287.8 274.0,286.0C274.3,284.2 277.3,282.2 277.0,281.0C276.7,279.8 273.5,279.2 272.0,279.0C270.5,278.8 270.0,279.3 268.0,280.0C266.0,280.7 263.0,282.3 260.0,283.0C257.0,283.7 253.5,284.4 250.0,284.4C246.5,284.4 240.8,285.4 239.0,283.0L239.0,270.0Z" fill="#19ff14"/>
<path d="M239.0,272.0C240.8,270.8 246.7,272.5 250.0,273.0C253.3,273.5 257.8,273.8 259.0,275.0C260.2,276.2 258.8,279.0 257.0,280.0C255.2,281.0 251.0,281.0 248.0,281.0C245.0,281.0 240.5,281.5 239.0,280.0L239.0,272.0Z" fill="#82fa05"/>
<path d="M282.0,282.0C283.7,280.4 287.0,279.6 290.0,279.6C293.0,279.6 297.0,280.9 300.0,282.0C303.0,283.1 306.0,284.5 308.0,286.0C310.0,287.5 311.7,289.3 312.0,291.0C312.3,292.7 311.0,294.5 310.0,296.0C309.0,297.5 307.7,298.5 306.0,300.0C304.3,301.5 302.3,303.7 300.0,305.0C297.7,306.3 294.0,307.8 292.0,307.6C290.0,307.4 288.8,305.6 288.0,304.0C287.2,302.4 287.8,299.7 287.0,298.0C286.2,296.3 284.2,295.5 283.0,294.0C281.8,292.5 280.2,291.0 280.0,289.0C279.8,287.0 280.3,283.6 282.0,282.0Z" fill="#82fa05"/>
<path d="M239.0,286.0C240.8,284.5 246.5,285.4 250.0,285.6C253.5,285.8 257.3,286.4 260.0,287.0C262.7,287.6 264.3,288.2 266.0,289.0C267.7,289.8 268.7,290.8 270.0,292.0C271.3,293.2 272.7,294.5 274.0,296.0C275.3,297.5 277.7,299.8 278.0,301.0C278.3,302.2 277.0,303.3 276.0,303.0C275.0,302.7 273.3,299.8 272.0,299.0C270.7,298.2 269.7,298.5 268.0,298.0C266.3,297.5 264.3,296.5 262.0,296.0C259.7,295.5 256.7,295.1 254.0,295.0C251.3,294.9 248.5,295.7 246.0,295.6C243.5,295.5 240.2,296.0 239.0,294.4L239.0,286.0Z" fill="#00ffdc"/>
<path d="M239.0,288.6C240.8,287.8 246.5,287.8 250.0,288.0C253.5,288.2 257.8,288.9 260.0,289.6C262.2,290.3 263.3,291.3 263.0,292.0C262.7,292.7 260.5,293.3 258.0,293.6C255.5,293.9 251.2,293.7 248.0,293.6C244.8,293.5 240.5,293.8 239.0,293.0L239.0,288.6Z" fill="#00aaff"/>
<path d="M328.0,300.0C328.3,298.3 330.0,297.2 332.0,296.0C334.0,294.8 337.3,293.8 340.0,293.0C342.7,292.2 346.2,290.8 348.0,291.0C349.8,291.2 350.3,292.7 351.0,294.0C351.7,295.3 351.3,297.8 352.0,299.0C352.7,300.2 354.0,300.0 355.0,301.0C356.0,302.0 357.7,303.2 358.0,305.0C358.3,306.8 357.7,310.0 357.0,312.0C356.3,314.0 355.5,315.9 354.0,317.0C352.5,318.1 350.0,318.2 348.0,318.4C346.0,318.6 343.7,317.6 342.0,318.0C340.3,318.4 339.3,320.0 338.0,321.0C336.7,322.0 335.2,323.7 334.0,324.0C332.8,324.3 331.3,324.0 331.0,323.0C330.7,322.0 332.0,319.8 332.0,318.0C332.0,316.2 331.3,314.0 331.0,312.0C330.7,310.0 330.5,308.0 330.0,306.0C329.5,304.0 327.7,301.7 328.0,300.0Z" fill="#00ffdc"/>
<path d="M331.0,301.0C331.3,299.3 333.2,298.4 335.0,297.6C336.8,296.8 340.0,295.9 342.0,296.0C344.0,296.1 345.3,297.0 347.0,298.0C348.7,299.0 350.5,300.5 352.0,302.0C353.5,303.5 355.7,305.0 356.0,307.0C356.3,309.0 355.2,312.5 354.0,314.0C352.8,315.5 351.0,315.7 349.0,316.0C347.0,316.3 344.0,316.1 342.0,315.6C340.0,315.1 338.5,314.3 337.0,313.0C335.5,311.7 334.0,310.0 333.0,308.0C332.0,306.0 330.7,302.7 331.0,301.0Z" fill="#00aaff"/>
<path d="M335.0,305.0C335.0,303.3 336.5,301.7 338.0,301.0C339.5,300.3 342.0,300.3 344.0,301.0C346.0,301.7 348.7,303.5 350.0,305.0C351.3,306.5 352.2,308.5 352.0,310.0C351.8,311.5 350.5,313.3 349.0,314.0C347.5,314.7 344.8,314.5 343.0,314.0C341.2,313.5 339.3,312.5 338.0,311.0C336.7,309.5 335.0,306.7 335.0,305.0Z" fill="#0046ff"/>
<path d="M344.0,308.0C344.0,307.2 346.1,306.2 347.0,306.4C347.9,306.6 349.6,308.2 349.6,309.0C349.6,309.8 347.9,311.2 347.0,311.0C346.1,310.8 344.0,308.8 344.0,308.0Z" fill="#3200ff"/>
<path d="M326.0,331.0C326.3,329.8 328.3,328.0 330.0,327.0C331.7,326.0 333.7,325.4 336.0,325.0C338.3,324.6 341.8,324.1 344.0,324.4C346.2,324.7 348.5,325.9 349.0,327.0C349.5,328.1 348.2,329.7 347.0,331.0C345.8,332.3 343.8,333.8 342.0,335.0C340.2,336.2 337.8,337.7 336.0,338.0C334.2,338.3 332.3,337.7 331.0,337.0C329.7,336.3 328.8,335.0 328.0,334.0C327.2,333.0 325.7,332.2 326.0,331.0Z" fill="#00ffdc"/>
<path d="M332.0,331.0C332.3,330.0 334.3,328.3 336.0,327.6C337.7,326.9 340.7,326.6 342.0,327.0C343.3,327.4 344.3,329.0 344.0,330.0C343.7,331.0 341.7,332.4 340.0,333.0C338.3,333.6 335.3,333.9 334.0,333.6C332.7,333.3 331.7,332.0 332.0,331.0Z" fill="#00aaff"/>
<path d="M295.0,330.0C295.3,328.7 296.8,326.3 298.0,326.0C299.2,325.7 301.2,326.8 302.0,328.0C302.8,329.2 303.5,331.8 303.0,333.0C302.5,334.2 300.2,334.8 299.0,335.0C297.8,335.2 296.7,334.8 296.0,334.0C295.3,333.2 294.7,331.3 295.0,330.0Z" fill="#19ff14"/>
<path d="M309.0,328.0C309.3,326.8 311.2,326.1 313.0,326.0C314.8,325.9 318.2,326.8 320.0,327.6C321.8,328.4 323.7,329.8 324.0,331.0C324.3,332.2 323.3,334.2 322.0,335.0C320.7,335.8 317.8,336.3 316.0,336.0C314.2,335.7 312.2,334.3 311.0,333.0C309.8,331.7 308.7,329.2 309.0,328.0Z" fill="#19ff14"/>
<path d="M311.0,309.0C311.9,308.6 315.0,308.1 317.0,308.0C319.0,307.9 322.2,308.0 323.0,308.4C323.8,308.8 323.2,310.0 322.0,310.4C320.8,310.8 317.7,311.0 316.0,311.0C314.3,311.0 312.4,310.9 311.6,310.6C310.8,310.3 310.1,309.4 311.0,309.0Z" fill="#00ffdc"/>
<path d="M322.0,346.4C322.3,346.0 327.2,346.3 330.0,345.6C332.8,344.9 336.7,341.9 339.0,342.0C341.3,342.1 341.8,344.5 344.0,346.0C346.2,347.5 352.0,350.1 352.0,351.0C352.0,351.9 346.7,351.9 344.0,351.6C341.3,351.3 338.7,349.6 336.0,349.0C333.3,348.4 330.3,348.4 328.0,348.0C325.7,347.6 321.7,346.8 322.0,346.4Z" fill="#00ffdc"/>
<path d="M359.0,346.4C359.3,345.4 363.2,343.6 366.0,343.0C368.8,342.4 372.7,342.5 376.0,343.0C379.3,343.5 382.7,345.0 386.0,346.0C389.3,347.0 393.5,348.4 396.0,349.0C398.5,349.6 400.2,348.6 401.0,349.6L401.0,355.0C399.5,356.0 395.2,355.8 392.0,355.6C388.8,355.4 385.3,354.4 382.0,353.6C378.7,352.8 375.0,351.8 372.0,351.0C369.0,350.2 366.2,349.8 364.0,349.0C361.8,348.2 358.7,347.4 359.0,346.4Z" fill="#19ff14"/>
<path d="M303.0,360.0L310.0,353.0L317.0,359.0L313.0,364.4L308.0,364.0Z" fill="#19ff14"/>
<path d="M307.0,360.0L310.4,356.0L314.0,359.6L311.0,362.4Z" fill="#82fa05"/>
<path d="M339.0,355.6C339.7,354.8 343.5,354.3 346.0,354.4C348.5,354.5 351.5,355.5 354.0,356.4C356.5,357.3 361.0,358.9 361.0,360.0C361.0,361.1 356.5,362.7 354.0,363.0C351.5,363.3 348.0,362.7 346.0,362.0C344.0,361.3 343.2,360.1 342.0,359.0C340.8,357.9 338.3,356.4 339.0,355.6Z" fill="#19ff14"/>
<path d="M399.0,140.0C400.5,138.7 404.8,136.6 408.0,136.0C411.2,135.4 417.0,135.6 418.0,136.4C419.0,137.2 415.7,139.7 414.0,141.0C412.3,142.3 410.5,144.0 408.0,144.4C405.5,144.8 400.5,144.3 399.0,143.6C397.5,142.9 397.5,141.3 399.0,140.0Z" fill="#00ffdc"/>
<path d="M437.0,132.0C438.2,131.2 442.2,130.4 446.0,130.0C449.8,129.6 455.0,129.6 460.0,129.4C465.0,129.2 470.7,129.0 476.0,129.0C481.3,129.0 488.0,129.2 492.0,129.6C496.0,130.0 498.0,130.7 500.0,131.6C502.0,132.5 504.3,133.8 504.0,135.0C503.7,136.2 500.3,137.7 498.0,139.0C495.7,140.3 493.0,141.6 490.0,143.0C487.0,144.4 483.0,147.3 480.0,147.6C477.0,147.9 474.7,146.3 472.0,145.0C469.3,143.7 466.7,141.3 464.0,140.0C461.3,138.7 459.0,137.7 456.0,137.0C453.0,136.3 448.8,136.3 446.0,136.0C443.2,135.7 440.5,135.7 439.0,135.0C437.5,134.3 435.8,132.8 437.0,132.0Z" fill="#00ffdc"/>
<path d="M468.0,132.0C469.0,131.2 473.7,131.4 476.0,132.0C478.3,132.6 481.7,134.4 482.0,135.6C482.3,136.8 479.7,137.9 478.0,139.0C476.3,140.1 473.3,142.3 472.0,142.0C470.7,141.7 470.7,138.7 470.0,137.0C469.3,135.3 467.0,132.8 468.0,132.0Z" fill="#00aaff"/>
<path d="M427.0,149.0C427.2,147.8 428.3,145.3 430.0,144.0C431.7,142.7 434.7,141.3 437.0,141.0C439.3,140.7 442.3,141.3 444.0,142.0C445.7,142.7 447.3,144.0 447.0,145.0C446.7,146.0 444.2,147.1 442.0,148.0C439.8,148.9 436.2,149.9 434.0,150.4C431.8,150.9 430.2,151.2 429.0,151.0C427.8,150.8 426.8,150.2 427.0,149.0Z" fill="#19ff14"/>
<path d="M399.0,176.0C400.2,172.7 403.5,172.5 406.0,172.0C408.5,171.5 411.3,172.0 414.0,173.0C416.7,174.0 419.3,176.7 422.0,178.0C424.7,179.3 427.8,180.3 430.0,181.0C432.2,181.7 434.5,181.0 435.0,182.0C435.5,183.0 434.5,185.8 433.0,187.0C431.5,188.2 428.5,188.8 426.0,189.0C423.5,189.2 420.3,187.7 418.0,188.0C415.7,188.3 414.0,190.2 412.0,191.0C410.0,191.8 408.2,192.8 406.0,193.0C403.8,193.2 400.2,194.8 399.0,192.0L399.0,176.0Z" fill="#00ffdc"/>
<path d="M422.0,167.0C422.3,165.9 424.7,164.4 426.0,164.4C427.3,164.4 429.7,165.7 430.0,167.0C430.3,168.3 429.0,171.3 428.0,172.0C427.0,172.7 425.0,171.8 424.0,171.0C423.0,170.2 421.7,168.1 422.0,167.0Z" fill="#00ffdc"/>
<path d="M411.0,176.0C411.2,175.1 414.3,174.1 416.0,174.4C417.7,174.7 420.3,176.9 421.0,178.0C421.7,179.1 421.0,180.7 420.0,181.0C419.0,181.3 416.5,180.8 415.0,180.0C413.5,179.2 410.8,176.9 411.0,176.0Z" fill="#00aaff"/>
<path d="M415.0,177.0C415.2,176.5 417.2,176.1 418.0,176.4C418.8,176.7 419.8,178.5 419.6,179.0C419.4,179.5 417.8,179.9 417.0,179.6C416.2,179.3 414.8,177.5 415.0,177.0Z" fill="#0046ff"/>
<path d="M443.8,192.2C443.4,191.6 444.3,196.1 445.0,197.5C445.7,198.9 446.9,200.2 448.1,200.6C449.4,201.0 450.7,200.5 452.5,200.0C454.3,199.5 457.1,198.5 458.8,197.5C460.4,196.5 461.4,194.8 462.5,193.8C463.6,192.7 464.2,191.5 465.6,191.2C467.1,191.0 469.7,191.7 471.2,192.2C472.8,192.8 474.7,193.5 475.0,194.4C475.3,195.2 474.0,196.6 473.1,197.5C472.3,198.4 470.8,199.1 470.0,200.0C469.2,200.9 468.1,202.1 468.1,203.1C468.1,204.2 469.1,205.2 470.0,206.2C470.9,207.3 472.3,208.5 473.8,209.4C475.2,210.2 477.5,210.5 478.8,211.2C480.0,212.0 481.0,212.8 481.2,213.8C481.5,214.7 480.8,216.5 480.0,216.9C479.2,217.3 477.4,216.9 476.2,216.2C475.1,215.6 474.4,214.0 473.1,213.1C471.9,212.3 470.1,211.8 468.8,211.2C467.4,210.7 466.2,210.0 465.0,210.0C463.8,210.0 462.5,210.8 461.2,211.2C460.0,211.7 458.5,212.7 457.5,212.5C456.5,212.3 455.8,210.9 455.0,210.0C454.2,209.1 453.4,207.8 452.5,206.9C451.6,205.9 450.3,205.3 449.4,204.4C448.4,203.4 447.8,203.3 446.9,201.2C445.9,199.2 444.1,192.9 443.8,192.2Z" fill="#19ff14"/>
<path d="M491.0,200.0C491.0,199.2 493.0,198.2 494.0,198.4C495.0,198.6 497.0,200.2 497.0,201.0C497.0,201.8 495.0,203.4 494.0,203.2C493.0,203.0 491.0,200.8 491.0,200.0Z" fill="#00ffdc"/>
<path d="M500.0,216.0C500.5,214.7 504.0,213.2 506.0,213.0C508.0,212.8 510.0,213.7 512.0,215.0C514.0,216.3 516.5,219.2 518.0,221.0C519.5,222.8 521.2,224.3 521.0,226.0C520.8,227.7 518.5,230.0 517.0,231.0C515.5,232.0 513.7,232.8 512.0,232.0C510.3,231.2 508.5,227.8 507.0,226.0C505.5,224.2 504.2,222.7 503.0,221.0C501.8,219.3 499.5,217.3 500.0,216.0Z" fill="#19ff14"/>
<path d="M530.0,216.0C530.8,214.7 537.0,212.3 540.0,211.0C543.0,209.7 545.3,208.3 548.0,208.0C550.7,207.7 553.8,208.7 556.0,209.0C558.2,209.3 560.2,208.3 561.0,210.0L561.0,219.0C559.5,220.7 554.5,219.2 552.0,220.0C549.5,220.8 548.0,223.5 546.0,224.0C544.0,224.5 541.8,223.8 540.0,223.0C538.2,222.2 536.7,220.2 535.0,219.0C533.3,217.8 529.2,217.3 530.0,216.0Z" fill="#19ff14"/>
<path d="M548.0,211.0C548.8,210.3 551.8,209.8 554.0,210.0C556.2,210.2 559.8,210.8 561.0,212.0L561.0,217.0C559.8,217.7 556.0,216.5 554.0,216.0C552.0,215.5 550.0,214.8 549.0,214.0C548.0,213.2 547.2,211.7 548.0,211.0Z" fill="#82fa05"/>
<path d="M498.0,259.0C498.0,258.0 501.7,256.2 504.0,255.0C506.3,253.8 509.3,253.3 512.0,252.0C514.7,250.7 517.7,248.8 520.0,247.0C522.3,245.2 524.7,243.0 526.0,241.0C527.3,239.0 526.3,236.5 528.0,235.0C529.7,233.5 533.3,232.0 536.0,232.0C538.7,232.0 541.7,233.3 544.0,235.0C546.3,236.7 548.7,239.7 550.0,242.0C551.3,244.3 552.7,247.2 552.0,249.0C551.3,250.8 548.3,252.0 546.0,253.0C543.7,254.0 540.7,254.2 538.0,255.0C535.3,255.8 533.0,257.0 530.0,258.0C527.0,259.0 523.0,260.7 520.0,261.0C517.0,261.3 514.7,260.0 512.0,260.0C509.3,260.0 506.3,261.2 504.0,261.0C501.7,260.8 498.0,260.0 498.0,259.0Z" fill="#19ff14"/>
<path d="M512.0,257.0C512.0,256.0 517.3,254.5 520.0,253.0C522.7,251.5 525.3,249.0 528.0,248.0C530.7,247.0 533.7,246.7 536.0,247.0C538.3,247.3 542.0,249.0 542.0,250.0C542.0,251.0 538.3,252.2 536.0,253.0C533.7,253.8 530.7,254.0 528.0,255.0C525.3,256.0 522.7,258.7 520.0,259.0C517.3,259.3 512.0,258.0 512.0,257.0Z" fill="#82fa05"/>
<path d="M490.0,249.0C489.8,248.0 491.9,246.4 493.0,246.4C494.1,246.4 496.2,248.0 496.4,249.0C496.6,250.0 495.1,252.4 494.0,252.4C492.9,252.4 490.2,250.0 490.0,249.0Z" fill="#19ff14"/>
<path d="M399.0,255.0C400.8,253.6 406.2,253.8 410.0,253.6C413.8,253.4 418.3,253.8 422.0,254.0C425.7,254.2 429.8,254.3 432.0,255.0C434.2,255.7 435.3,257.0 435.0,258.0C434.7,259.0 432.5,260.3 430.0,261.0C427.5,261.7 423.3,262.1 420.0,262.4C416.7,262.7 413.5,263.1 410.0,263.0C406.5,262.9 400.8,263.3 399.0,262.0L399.0,255.0Z" fill="#19ff14"/>
<path d="M402.0,257.0C403.5,256.3 408.7,255.6 412.0,255.6C415.3,255.6 420.7,256.3 422.0,257.0C423.3,257.7 422.0,259.3 420.0,260.0C418.0,260.7 412.8,261.0 410.0,261.0C407.2,261.0 404.3,260.7 403.0,260.0C401.7,259.3 400.5,257.7 402.0,257.0Z" fill="#82fa05"/>
<path d="M407.0,257.6C407.8,257.3 412.5,256.8 414.0,257.0C415.5,257.2 416.8,258.3 416.0,258.6C415.2,258.9 410.5,259.2 409.0,259.0C407.5,258.8 406.2,257.9 407.0,257.6Z" fill="#e8e600"/>
<path d="M433.0,262.0C433.5,261.1 437.2,260.1 440.0,259.0C442.8,257.9 446.7,256.1 450.0,255.6C453.3,255.1 457.0,255.3 460.0,256.0C463.0,256.7 465.3,258.8 468.0,260.0C470.7,261.2 474.0,261.8 476.0,263.0C478.0,264.2 480.0,265.5 480.0,267.0C480.0,268.5 477.7,270.3 476.0,272.0C474.3,273.7 471.7,275.3 470.0,277.0C468.3,278.7 468.0,281.3 466.0,282.0C464.0,282.7 460.7,281.5 458.0,281.0C455.3,280.5 452.7,279.3 450.0,279.0C447.3,278.7 444.3,279.3 442.0,279.0C439.7,278.7 436.3,278.0 436.0,277.0C435.7,276.0 438.2,274.2 440.0,273.0C441.8,271.8 446.3,271.2 447.0,270.0C447.7,268.8 445.7,266.9 444.0,266.0C442.3,265.1 438.8,265.1 437.0,264.4C435.2,263.7 432.5,262.9 433.0,262.0Z" fill="#19ff14"/>
<path d="M464.0,265.0C464.3,263.5 467.8,261.9 470.0,262.0C472.2,262.1 476.3,264.3 477.0,265.6C477.7,266.9 475.5,269.1 474.0,270.0C472.5,270.9 469.7,271.8 468.0,271.0C466.3,270.2 463.7,266.5 464.0,265.0Z" fill="#82fa05"/>
<path d="M469.0,266.0C469.2,265.2 471.9,264.2 473.0,264.4C474.1,264.6 475.8,266.2 475.6,267.0C475.4,267.8 473.1,269.2 472.0,269.0C470.9,268.8 468.8,266.8 469.0,266.0Z" fill="#e8e600"/>
<path d="M477.0,259.0C477.7,257.9 480.2,256.0 482.0,255.6C483.8,255.2 486.8,255.3 488.0,256.4C489.2,257.5 489.3,260.1 489.0,262.0C488.7,263.9 487.3,266.9 486.0,267.6C484.7,268.3 482.3,266.9 481.0,266.0C479.7,265.1 478.7,263.2 478.0,262.0C477.3,260.8 476.3,260.1 477.0,259.0Z" fill="#19ff14"/>
<path d="M457.0,293.0C457.3,292.3 459.3,291.7 460.0,292.0C460.7,292.3 461.3,294.3 461.0,295.0C460.7,295.7 458.7,296.3 458.0,296.0C457.3,295.7 456.7,293.7 457.0,293.0Z" fill="#19ff14"/>
<path d="M568.0,253.0C569.3,253.0 572.0,256.3 574.0,258.0C576.0,259.7 578.0,261.2 580.0,263.0C582.0,264.8 584.0,266.8 586.0,269.0C588.0,271.2 590.0,273.8 592.0,276.0C594.0,278.2 596.7,279.7 598.0,282.0C599.3,284.3 599.0,287.3 600.0,290.0C601.0,292.7 603.0,295.3 604.0,298.0C605.0,300.7 606.0,303.8 606.0,306.0C606.0,308.2 605.0,309.8 604.0,311.0C603.0,312.2 602.3,313.0 600.0,313.0C597.7,313.0 593.3,311.5 590.0,311.0C586.7,310.5 583.3,310.0 580.0,310.0C576.7,310.0 573.3,310.5 570.0,311.0C566.7,311.5 563.3,312.3 560.0,313.0C556.7,313.7 553.3,314.5 550.0,315.0C546.7,315.5 543.3,315.8 540.0,316.0C536.7,316.2 533.3,315.8 530.0,316.0C526.7,316.2 523.0,316.8 520.0,317.0C517.0,317.2 514.3,316.8 512.0,317.0C509.7,317.2 508.0,317.5 506.0,318.0C504.0,318.5 502.0,319.3 500.0,320.0C498.0,320.7 496.0,321.3 494.0,322.0C492.0,322.7 489.7,323.2 488.0,324.0C486.3,324.8 485.0,325.7 484.0,327.0C483.0,328.3 482.2,330.2 482.0,332.0C481.8,333.8 482.7,336.2 483.0,338.0C483.3,339.8 484.5,341.8 484.0,343.0C483.5,344.2 481.5,345.5 480.0,345.0C478.5,344.5 476.5,341.8 475.0,340.0C473.5,338.2 472.0,335.8 471.0,334.0C470.0,332.2 468.8,330.5 469.0,329.0C469.2,327.5 470.7,326.2 472.0,325.0C473.3,323.8 475.7,323.2 477.0,322.0C478.3,320.8 480.0,319.3 480.0,318.0C480.0,316.7 478.3,315.3 477.0,314.0C475.7,312.7 473.5,311.7 472.0,310.0C470.5,308.3 468.8,306.0 468.0,304.0C467.2,302.0 466.3,299.8 467.0,298.0C467.7,296.2 470.2,294.5 472.0,293.0C473.8,291.5 476.0,289.8 478.0,289.0C480.0,288.2 482.3,287.8 484.0,288.0C485.7,288.2 487.0,288.7 488.0,290.0C489.0,291.3 489.3,294.2 490.0,296.0C490.7,297.8 490.7,300.3 492.0,301.0C493.3,301.7 495.7,300.7 498.0,300.0C500.3,299.3 503.0,298.0 506.0,297.0C509.0,296.0 512.3,295.2 516.0,294.0C519.7,292.8 524.0,291.2 528.0,290.0C532.0,288.8 538.7,288.2 540.0,287.0C541.3,285.8 538.0,284.0 536.0,283.0C534.0,282.0 530.7,281.5 528.0,281.0C525.3,280.5 522.3,280.5 520.0,280.0C517.7,279.5 515.7,279.0 514.0,278.0C512.3,277.0 510.0,275.5 510.0,274.0C510.0,272.5 512.0,270.7 514.0,269.0C516.0,267.3 518.7,265.2 522.0,264.0C525.3,262.8 530.3,262.2 534.0,262.0C537.7,261.8 541.0,262.5 544.0,263.0C547.0,263.5 549.7,264.8 552.0,265.0C554.3,265.2 556.0,264.5 558.0,264.0C560.0,263.5 562.7,263.0 564.0,262.0C565.3,261.0 565.3,259.5 566.0,258.0C566.7,256.5 566.7,253.0 568.0,253.0Z" fill="#00ffdc"/>
<path d="M513.0,274.0C513.5,272.8 515.8,270.4 518.0,269.0C520.2,267.6 523.0,266.4 526.0,265.6C529.0,264.8 532.7,264.3 536.0,264.4C539.3,264.5 543.0,265.4 546.0,266.0C549.0,266.6 551.7,268.0 554.0,268.0C556.3,268.0 558.0,266.8 560.0,266.0C562.0,265.2 564.0,263.3 566.0,263.0C568.0,262.7 570.0,263.0 572.0,264.0C574.0,265.0 576.0,267.2 578.0,269.0C580.0,270.8 582.3,273.2 584.0,275.0C585.7,276.8 588.0,278.5 588.0,280.0C588.0,281.5 586.0,283.2 584.0,284.0C582.0,284.8 578.7,284.7 576.0,285.0C573.3,285.3 570.7,285.7 568.0,286.0C565.3,286.3 562.3,287.0 560.0,287.0C557.7,287.0 556.0,286.5 554.0,286.0C552.0,285.5 550.3,284.7 548.0,284.0C545.7,283.3 543.0,282.7 540.0,282.0C537.0,281.3 533.3,280.7 530.0,280.0C526.7,279.3 522.5,278.7 520.0,278.0C517.5,277.3 516.2,276.7 515.0,276.0C513.8,275.3 512.5,275.2 513.0,274.0Z" fill="#00aaff"/>
<path d="M493.0,304.0C494.7,302.8 497.2,302.0 500.0,301.0C502.8,300.0 506.7,299.0 510.0,298.0C513.3,297.0 516.3,296.0 520.0,295.0C523.7,294.0 528.0,293.0 532.0,292.0C536.0,291.0 540.3,289.8 544.0,289.0C547.7,288.2 550.7,287.3 554.0,287.0C557.3,286.7 560.7,286.8 564.0,287.0C567.3,287.2 570.7,287.5 574.0,288.0C577.3,288.5 581.0,289.2 584.0,290.0C587.0,290.8 589.3,291.8 592.0,293.0C594.7,294.2 598.0,295.5 600.0,297.0C602.0,298.5 604.0,300.3 604.0,302.0C604.0,303.7 602.0,305.8 600.0,307.0C598.0,308.2 595.3,308.8 592.0,309.0C588.7,309.2 584.0,308.1 580.0,308.0C576.0,307.9 572.0,308.1 568.0,308.4C564.0,308.7 560.0,309.4 556.0,310.0C552.0,310.6 548.0,311.4 544.0,312.0C540.0,312.6 536.0,313.2 532.0,313.6C528.0,314.0 523.3,314.3 520.0,314.4C516.7,314.5 514.3,314.7 512.0,314.0C509.7,313.3 508.0,310.5 506.0,310.0C504.0,309.5 501.7,310.3 500.0,311.0C498.3,311.7 497.3,312.7 496.0,314.0C494.7,315.3 493.5,318.0 492.0,319.0C490.5,320.0 488.2,320.5 487.0,320.0C485.8,319.5 484.8,317.3 485.0,316.0C485.2,314.7 487.2,313.3 488.0,312.0C488.8,310.7 489.2,309.3 490.0,308.0C490.8,306.7 491.3,305.2 493.0,304.0Z" fill="#00aaff"/>
<path d="M475.0,298.0C475.0,296.3 475.8,293.5 477.0,292.0C478.2,290.5 480.3,289.0 482.0,289.0C483.7,289.0 485.8,290.5 487.0,292.0C488.2,293.5 488.5,296.0 489.0,298.0C489.5,300.0 490.5,302.5 490.0,304.0C489.5,305.5 487.5,306.8 486.0,307.0C484.5,307.2 482.5,305.8 481.0,305.0C479.5,304.2 478.0,303.2 477.0,302.0C476.0,300.8 475.0,299.7 475.0,298.0Z" fill="#00aaff"/>
<path d="M471.0,329.0C471.3,327.8 472.8,326.0 474.0,326.0C475.2,326.0 477.2,327.7 478.0,329.0C478.8,330.3 479.3,332.8 479.0,334.0C478.7,335.2 477.1,336.2 476.0,336.0C474.9,335.8 473.2,334.2 472.4,333.0C471.6,331.8 470.7,330.2 471.0,329.0Z" fill="#00aaff"/>
<path d="M523.0,271.0C524.0,270.0 527.2,268.6 530.0,268.0C532.8,267.4 536.7,267.3 540.0,267.6C543.3,267.9 547.0,269.0 550.0,269.6C553.0,270.2 555.7,271.1 558.0,271.0C560.3,270.9 562.0,269.7 564.0,269.0C566.0,268.3 568.0,266.8 570.0,267.0C572.0,267.2 574.3,268.8 576.0,270.0C577.7,271.2 579.7,272.7 580.0,274.0C580.3,275.3 579.7,277.0 578.0,278.0C576.3,279.0 573.0,279.5 570.0,280.0C567.0,280.5 563.3,281.0 560.0,281.0C556.7,281.0 553.3,280.5 550.0,280.0C546.7,279.5 543.3,278.7 540.0,278.0C536.7,277.3 532.7,276.7 530.0,276.0C527.3,275.3 525.2,274.8 524.0,274.0C522.8,273.2 522.0,272.0 523.0,271.0Z" fill="#0046ff"/>
<path d="M500.0,305.0C501.7,303.8 506.3,302.2 510.0,301.0C513.7,299.8 518.0,299.0 522.0,298.0C526.0,297.0 530.0,295.9 534.0,295.0C538.0,294.1 542.0,293.0 546.0,292.4C550.0,291.8 554.0,291.7 558.0,291.6C562.0,291.5 566.0,291.6 570.0,292.0C574.0,292.4 578.3,293.2 582.0,294.0C585.7,294.8 589.3,295.8 592.0,297.0C594.7,298.2 597.3,299.7 598.0,301.0C598.7,302.3 598.0,304.2 596.0,305.0C594.0,305.8 589.7,305.9 586.0,306.0C582.3,306.1 578.0,305.4 574.0,305.6C570.0,305.8 566.0,306.4 562.0,307.0C558.0,307.6 554.0,308.3 550.0,309.0C546.0,309.7 542.0,310.5 538.0,311.0C534.0,311.5 529.7,311.9 526.0,312.0C522.3,312.1 518.7,312.3 516.0,311.6C513.3,310.9 512.0,308.4 510.0,308.0C508.0,307.6 505.7,309.0 504.0,309.0C502.3,309.0 500.7,308.7 500.0,308.0C499.3,307.3 498.3,306.2 500.0,305.0Z" fill="#0046ff"/>
<path d="M493.0,305.0C493.2,303.7 494.8,302.4 496.0,302.4C497.2,302.4 499.5,303.8 500.0,305.0C500.5,306.2 499.8,308.8 499.0,309.6C498.2,310.4 496.0,310.8 495.0,310.0C494.0,309.2 492.8,306.3 493.0,305.0Z" fill="#0046ff"/>
<path d="M488.0,317.6C488.4,316.9 490.4,315.9 491.6,316.0C492.8,316.1 494.9,317.3 495.0,318.0C495.1,318.7 493.0,320.1 492.0,320.4C491.0,320.7 489.7,320.5 489.0,320.0C488.3,319.5 487.6,318.3 488.0,317.6Z" fill="#0046ff"/>
<path d="M529.0,303.0C529.5,301.8 533.2,300.0 536.0,299.0C538.8,298.0 542.7,297.2 546.0,297.0C549.3,296.8 553.8,297.3 556.0,298.0C558.2,298.7 559.7,299.8 559.0,301.0C558.3,302.2 554.8,304.0 552.0,305.0C549.2,306.0 545.2,306.8 542.0,307.0C538.8,307.2 535.2,307.1 533.0,306.4C530.8,305.7 528.5,304.2 529.0,303.0Z" fill="#3200ff"/>
<path d="M569.0,271.0C569.0,270.4 570.5,269.5 571.2,269.6C571.9,269.7 573.2,271.0 573.2,271.6C573.2,272.2 571.7,273.3 571.0,273.2C570.3,273.1 569.0,271.6 569.0,271.0Z" fill="#3200ff"/>
<path d="M492.0,292.0C492.2,290.5 494.0,288.3 496.0,287.0C498.0,285.7 501.0,284.7 504.0,284.0C507.0,283.3 511.0,282.9 514.0,283.0C517.0,283.1 520.3,283.7 522.0,284.4C523.7,285.1 524.7,285.9 524.0,287.0C523.3,288.1 520.3,289.8 518.0,291.0C515.7,292.2 512.7,293.5 510.0,294.4C507.3,295.3 504.5,296.1 502.0,296.4C499.5,296.7 496.7,296.7 495.0,296.0C493.3,295.3 491.8,293.5 492.0,292.0Z" fill="#19ff14"/>
<path d="M497.0,291.0C497.3,289.9 499.0,287.9 501.0,287.0C503.0,286.1 506.5,285.6 509.0,285.6C511.5,285.6 515.5,286.1 516.0,287.0C516.5,287.9 514.0,289.9 512.0,291.0C510.0,292.1 506.2,293.2 504.0,293.6C501.8,294.0 500.2,294.0 499.0,293.6C497.8,293.2 496.7,292.1 497.0,291.0Z" fill="#82fa05"/>
<path d="M504.0,289.0C504.2,288.3 506.9,287.5 508.0,287.6C509.1,287.7 510.6,288.9 510.4,289.6C510.2,290.3 508.1,291.7 507.0,291.6C505.9,291.5 503.8,289.7 504.0,289.0Z" fill="#e8e600"/>
<path d="M485.0,328.0C485.0,327.2 489.2,325.8 492.0,325.0C494.8,324.2 498.7,323.8 502.0,323.0C505.3,322.2 508.3,321.0 512.0,320.4C515.7,319.8 520.0,319.5 524.0,319.6C528.0,319.7 532.8,320.3 536.0,321.0C539.2,321.7 541.8,322.8 543.0,324.0C544.2,325.2 544.2,326.8 543.0,328.0C541.8,329.2 538.8,330.2 536.0,331.0C533.2,331.8 529.3,332.3 526.0,333.0C522.7,333.7 519.0,334.8 516.0,335.0C513.0,335.2 510.7,334.7 508.0,334.0C505.3,333.3 502.7,331.7 500.0,331.0C497.3,330.3 494.5,330.5 492.0,330.0C489.5,329.5 485.0,328.8 485.0,328.0Z" fill="#19ff14"/>
<path d="M503.0,327.0C503.3,325.9 508.5,324.4 512.0,323.6C515.5,322.8 520.0,322.4 524.0,322.4C528.0,322.4 533.3,322.8 536.0,323.6C538.7,324.4 540.7,326.0 540.0,327.0C539.3,328.0 535.3,329.0 532.0,329.6C528.7,330.2 523.7,330.3 520.0,330.4C516.3,330.5 512.8,330.6 510.0,330.0C507.2,329.4 502.7,328.1 503.0,327.0Z" fill="#82fa05"/>
<path d="M490.0,337.0C490.0,335.7 492.7,335.0 495.0,335.0C497.3,335.0 501.2,336.2 504.0,337.0C506.8,337.8 509.7,338.7 512.0,340.0C514.3,341.3 517.7,343.5 518.0,345.0C518.3,346.5 515.7,347.7 514.0,349.0C512.3,350.3 510.0,352.3 508.0,353.0C506.0,353.7 503.7,353.7 502.0,353.0C500.3,352.3 499.2,350.7 498.0,349.0C496.8,347.3 496.3,345.0 495.0,343.0C493.7,341.0 490.0,338.3 490.0,337.0Z" fill="#00ffdc"/>
<path d="M498.0,341.0C498.2,340.2 499.8,339.0 501.0,339.0C502.2,339.0 504.7,340.2 505.0,341.0C505.3,341.8 503.9,343.5 503.0,344.0C502.1,344.5 500.4,344.5 499.6,344.0C498.8,343.5 497.8,341.8 498.0,341.0Z" fill="#00aaff"/>
<path d="M548.0,355.2C548.0,354.8 549.6,354.0 550.4,354.0C551.2,354.0 553.0,355.0 553.0,355.4C553.0,355.8 551.2,356.6 550.4,356.6C549.6,356.6 548.0,355.6 548.0,355.2Z" fill="#00ffdc"/>
<path d="M587.0,351.2C587.0,350.8 590.2,350.0 592.0,350.0C593.8,350.0 598.0,350.8 598.0,351.2C598.0,351.6 593.8,352.4 592.0,352.4C590.2,352.4 587.0,351.6 587.0,351.2Z" fill="#19ff14"/>
<path d="M508.0,366.0C508.7,364.9 513.0,363.9 516.0,363.6C519.0,363.3 523.5,363.7 526.0,364.0C528.5,364.3 530.7,364.6 531.0,365.6C531.3,366.6 529.8,369.0 528.0,370.0C526.2,371.0 522.7,371.6 520.0,371.6C517.3,371.6 514.0,370.9 512.0,370.0C510.0,369.1 507.3,367.1 508.0,366.0Z" fill="#19ff14"/>
<path d="M567.0,365.6C567.7,364.4 572.5,363.3 576.0,363.0C579.5,362.7 585.0,363.3 588.0,364.0C591.0,364.7 593.7,366.0 594.0,367.0C594.3,368.0 592.3,369.2 590.0,370.0C587.7,370.8 583.0,372.0 580.0,372.0C577.0,372.0 574.2,371.1 572.0,370.0C569.8,368.9 566.3,366.8 567.0,365.6Z" fill="#19ff14"/>
<path d="M688.0,192.0C688.0,191.1 689.3,188.0 690.0,188.0C690.7,188.0 692.4,191.1 692.4,192.0C692.4,192.9 690.7,193.6 690.0,193.6C689.3,193.6 688.0,192.9 688.0,192.0Z" fill="#19ff14"/>
<path d="M702.0,200.0C702.8,199.3 706.0,198.5 708.0,198.0C710.0,197.5 711.8,197.3 714.0,197.0C716.2,196.7 719.8,195.5 721.0,196.0C722.2,196.5 722.2,199.1 721.0,200.0C719.8,200.9 716.2,201.2 714.0,201.6C711.8,202.0 709.8,202.3 708.0,202.4C706.2,202.5 704.0,202.4 703.0,202.0C702.0,201.6 701.2,200.7 702.0,200.0Z" fill="#19ff14"/>
<path d="M688.0,207.0C688.3,206.2 689.7,204.2 691.0,204.0C692.3,203.8 695.8,205.1 696.0,206.0C696.2,206.9 693.2,209.1 692.0,209.6C690.8,210.1 689.7,209.4 689.0,209.0C688.3,208.6 687.7,207.8 688.0,207.0Z" fill="#19ff14"/>
<path d="M646.0,221.0C646.3,219.8 648.0,217.9 650.0,217.0C652.0,216.1 655.3,215.6 658.0,215.6C660.7,215.6 663.8,216.3 666.0,217.0C668.2,217.7 671.0,219.0 671.0,220.0C671.0,221.0 667.8,222.2 666.0,223.0C664.2,223.8 662.3,224.5 660.0,225.0C657.7,225.5 654.0,226.2 652.0,226.0C650.0,225.8 649.0,224.8 648.0,224.0C647.0,223.2 645.7,222.2 646.0,221.0Z" fill="#19ff14"/>
<path d="M651.0,221.0C651.0,220.1 653.8,218.0 655.0,218.0C656.2,218.0 658.0,220.1 658.0,221.0C658.0,221.9 656.2,223.6 655.0,223.6C653.8,223.6 651.0,221.9 651.0,221.0Z" fill="#82fa05"/>
<path d="M608.0,227.0C608.3,225.6 609.8,222.9 611.0,222.4C612.2,221.9 614.5,222.7 615.0,224.0C615.5,225.3 614.7,228.7 614.0,230.0C613.3,231.3 611.8,231.8 611.0,232.0C610.2,232.2 609.5,231.8 609.0,231.0C608.5,230.2 607.7,228.4 608.0,227.0Z" fill="#00ffdc"/>
<path d="M559.0,214.4C559.8,213.5 562.5,216.1 564.0,217.0C565.5,217.9 567.7,219.1 568.0,220.0C568.3,220.9 567.5,222.0 566.0,222.4C564.5,222.8 560.2,223.7 559.0,222.4L559.0,214.4Z" fill="#19ff14"/>
<path d="M567.0,226.0C567.7,225.0 569.7,223.0 571.0,223.0C572.3,223.0 574.5,224.7 575.0,226.0C575.5,227.3 575.0,230.0 574.0,231.0C573.0,232.0 570.2,232.3 569.0,232.0C567.8,231.7 567.3,230.0 567.0,229.0C566.7,228.0 566.3,227.0 567.0,226.0Z" fill="#19ff14"/>
<path d="M562.0,238.8C562.0,238.5 564.0,238.0 565.0,238.0C566.0,238.0 568.0,238.5 568.0,238.8C568.0,239.1 566.0,240.0 565.0,240.0C564.0,240.0 562.0,239.1 562.0,238.8Z" fill="#19ff14"/>
<path d="M602.0,234.0C602.2,233.0 604.8,231.7 606.0,230.0C607.2,228.3 607.8,225.3 609.0,224.0C610.2,222.7 611.8,221.8 613.0,222.0C614.2,222.2 615.8,223.7 616.0,225.0C616.2,226.3 615.0,228.5 614.0,230.0C613.0,231.5 611.5,233.0 610.0,234.0C608.5,235.0 606.3,236.0 605.0,236.0C603.7,236.0 601.8,235.0 602.0,234.0Z" fill="#00ffdc"/>
<path d="M665.0,232.0C665.0,230.8 666.2,229.3 668.0,228.0C669.8,226.7 673.3,225.3 676.0,224.0C678.7,222.7 681.0,221.5 684.0,220.0C687.0,218.5 690.7,216.5 694.0,215.0C697.3,213.5 700.7,212.0 704.0,211.0C707.3,210.0 711.2,209.2 714.0,209.0C716.8,208.8 719.8,207.1 721.0,209.6L721.0,224.0C719.5,226.7 714.8,225.2 712.0,226.0C709.2,226.8 706.7,228.3 704.0,229.0C701.3,229.7 698.7,230.2 696.0,230.0C693.3,229.8 690.7,227.8 688.0,228.0C685.3,228.2 682.3,230.0 680.0,231.0C677.7,232.0 676.0,233.3 674.0,234.0C672.0,234.7 669.5,235.3 668.0,235.0C666.5,234.7 665.0,233.2 665.0,232.0Z" fill="#00ffdc"/>
<path d="M682.0,225.0C682.3,223.7 685.3,221.5 688.0,220.0C690.7,218.5 694.7,217.0 698.0,216.0C701.3,215.0 705.3,214.2 708.0,214.0C710.7,213.8 713.2,214.0 714.0,215.0C714.8,216.0 714.3,218.5 713.0,220.0C711.7,221.5 708.8,222.8 706.0,224.0C703.2,225.2 699.3,226.3 696.0,227.0C692.7,227.7 688.3,228.3 686.0,228.0C683.7,227.7 681.7,226.3 682.0,225.0Z" fill="#00aaff"/>
<path d="M646.0,247.0C646.8,246.2 649.3,245.4 652.0,245.0C654.7,244.6 658.7,244.7 662.0,244.4C665.3,244.1 669.2,243.4 672.0,243.0C674.8,242.6 677.7,241.7 679.0,242.0C680.3,242.3 681.2,244.1 680.0,245.0C678.8,245.9 675.0,246.9 672.0,247.6C669.0,248.3 665.3,248.6 662.0,249.0C658.7,249.4 654.5,249.9 652.0,250.0C649.5,250.1 648.0,250.1 647.0,249.6C646.0,249.1 645.2,247.8 646.0,247.0Z" fill="#00ffdc"/>
<path d="M652.4,257.6C652.4,256.7 654.6,254.5 655.6,254.4C656.6,254.3 658.4,256.1 658.4,257.0C658.4,257.9 656.6,259.5 655.6,259.6C654.6,259.7 652.4,258.5 652.4,257.6Z" fill="#19ff14"/>
<path d="M566.0,253.5C567.2,252.6 569.0,251.1 570.5,251.2C572.0,251.4 573.5,252.9 575.0,254.2C576.5,255.6 578.0,257.6 579.5,259.5C581.0,261.4 582.2,263.4 584.0,265.5C585.7,267.6 588.0,270.1 590.0,272.2C592.0,274.4 593.7,276.4 596.0,278.2C598.2,280.1 601.0,281.9 603.5,283.5C606.0,285.1 608.5,286.6 611.0,288.0C613.5,289.4 616.0,290.7 618.5,291.7C621.0,292.7 623.2,293.5 626.0,294.0C628.7,294.5 632.5,294.7 635.0,294.7C637.5,294.7 640.0,293.7 641.0,294.0C642.0,294.2 642.2,295.7 641.0,296.2C639.7,296.7 636.2,296.9 633.5,297.0C630.7,297.1 627.2,296.9 624.5,296.7C621.7,296.4 619.2,295.9 617.0,295.5C614.7,295.0 613.0,294.5 611.0,294.0C609.0,293.5 607.0,293.1 605.0,292.5C603.0,291.9 601.0,290.9 599.0,290.2C597.0,289.6 595.0,289.1 593.0,288.7C591.0,288.4 588.6,287.9 587.0,288.0C585.4,288.1 583.6,288.9 583.2,289.5C582.9,290.1 583.6,291.2 584.7,291.7C585.9,292.2 587.9,292.1 590.0,292.5C592.1,292.9 595.0,293.1 597.5,294.0C600.0,294.9 602.5,296.2 605.0,297.7C607.5,299.2 610.5,301.2 612.5,303.0C614.5,304.7 616.4,306.7 617.0,308.2C617.6,309.7 617.2,311.0 616.2,312.0C615.2,313.0 613.1,314.0 611.0,314.2C608.9,314.5 606.2,313.9 603.5,313.5C600.7,313.1 597.5,312.5 594.5,312.0C591.5,311.5 588.7,310.9 585.5,310.5C582.2,310.1 578.2,309.9 575.0,309.7C571.7,309.6 568.6,309.6 566.0,309.7C563.4,309.9 560.4,318.6 559.3,310.5L559.3,261.0C559.9,252.0 561.9,257.7 563.0,256.5C564.1,255.2 564.7,254.4 566.0,253.5Z" fill="#00ffdc"/>
<path d="M559.3,265.5C560.1,258.0 562.9,263.5 564.5,262.5C566.1,261.5 567.5,259.7 569.0,259.5C570.5,259.2 572.0,260.1 573.5,261.0C575.0,261.9 576.5,263.2 578.0,264.7C579.5,266.2 580.7,268.1 582.5,270.0C584.2,271.9 586.5,274.1 588.5,276.0C590.5,277.9 592.2,279.6 594.5,281.2C596.7,282.9 599.5,284.4 602.0,285.7C604.5,287.1 607.0,288.4 609.5,289.5C612.0,290.6 615.2,291.7 617.0,292.5C618.7,293.2 620.5,293.7 620.0,294.0C619.5,294.3 616.2,294.7 614.0,294.3C611.7,293.9 608.7,292.7 606.5,291.7C604.2,290.8 602.5,289.6 600.5,288.7C598.5,287.9 596.5,287.1 594.5,286.5C592.5,285.9 590.2,285.1 588.5,285.0C586.7,284.9 585.1,285.1 584.0,285.7C582.9,286.4 582.0,287.6 581.7,288.7C581.5,289.9 581.1,291.5 582.5,292.5C583.9,293.5 587.5,293.9 590.0,294.7C592.5,295.6 595.5,296.5 597.5,297.7C599.5,299.0 601.0,300.7 602.0,302.2C603.0,303.7 604.0,305.7 603.5,306.7C603.0,307.7 601.2,308.1 599.0,308.2C596.7,308.4 593.2,307.7 590.0,307.5C586.7,307.2 583.0,306.9 579.5,306.7C576.0,306.6 572.4,306.6 569.0,306.7C565.6,306.9 560.9,314.4 559.3,307.5L559.3,265.5Z" fill="#00aaff"/>
<path d="M585.5,289.9C586.2,289.4 590.5,289.2 593.0,289.5C595.5,289.8 598.0,290.7 600.5,291.7C603.0,292.7 606.0,294.1 608.0,295.5C610.0,296.9 612.0,299.0 612.5,300.0C613.0,301.0 612.5,301.9 611.0,301.5C609.5,301.1 606.0,298.9 603.5,297.7C601.0,296.6 598.5,295.6 596.0,294.7C593.5,293.9 590.2,293.6 588.5,292.8C586.7,292.0 584.7,290.5 585.5,289.9Z" fill="#e6e6e6"/>
<path d="M559.3,268.5C560.4,265.7 563.9,266.1 566.0,265.5C568.1,264.9 570.0,264.2 572.0,264.7C574.0,265.2 576.4,267.0 578.0,268.5C579.6,270.0 581.0,272.0 581.7,273.7C582.5,275.5 582.9,277.5 582.5,279.0C582.1,280.5 581.0,281.9 579.5,282.7C578.0,283.6 575.7,284.1 573.5,284.2C571.2,284.4 568.4,283.9 566.0,283.5C563.6,283.1 560.4,284.5 559.3,282.0L559.3,268.5Z" fill="#0046ff"/>
<path d="M559.3,291.7C560.6,289.6 564.6,292.1 567.5,292.5C570.4,292.9 573.5,293.4 576.5,294.0C579.5,294.6 582.7,295.4 585.5,296.2C588.2,297.1 591.1,298.1 593.0,299.2C594.9,300.4 596.5,301.9 596.7,303.0C597.0,304.1 596.1,305.5 594.5,306.0C592.9,306.5 590.0,306.1 587.0,306.0C584.0,305.9 579.7,305.4 576.5,305.2C573.2,305.0 570.4,304.8 567.5,304.8C564.6,304.8 560.6,307.4 559.3,305.2L559.3,291.7Z" fill="#0046ff"/>
<path d="M569.0,271.5C569.0,270.8 570.5,269.6 571.2,269.7C572.0,269.7 573.5,271.1 573.5,271.8C573.5,272.5 572.0,273.8 571.2,273.7C570.5,273.7 569.0,272.2 569.0,271.5Z" fill="#3200ff"/>
<path d="M578.0,252.0C578.4,250.5 579.9,248.6 581.0,247.5C582.1,246.4 583.2,245.4 584.7,245.2C586.2,245.1 588.2,246.0 590.0,246.7C591.7,247.5 593.7,249.4 595.2,249.7C596.7,250.1 597.6,249.2 599.0,249.0C600.4,248.7 601.7,248.7 603.5,248.2C605.2,247.7 607.2,246.9 609.5,246.0C611.7,245.1 614.5,243.9 617.0,243.0C619.5,242.1 622.0,241.2 624.5,240.7C627.0,240.2 629.7,240.0 632.0,240.0C634.2,240.0 637.0,239.8 638.0,240.7L638.0,246.0C637.5,247.9 635.2,250.2 635.0,252.0C634.7,253.7 635.5,255.2 636.5,256.5C637.5,257.7 640.7,258.2 641.0,259.5C641.2,260.7 639.2,262.7 638.0,264.0C636.7,265.2 634.7,266.0 633.5,267.0C632.2,268.0 631.7,269.2 630.5,270.0C629.2,270.7 627.5,271.1 626.0,271.5C624.5,271.9 623.0,272.1 621.5,272.2C620.0,272.4 618.2,271.9 617.0,272.2C615.7,272.6 615.0,273.6 614.0,274.5C613.0,275.4 611.7,276.4 611.0,277.5C610.2,278.6 610.5,281.0 609.5,281.2C608.5,281.5 606.5,280.0 605.0,279.0C603.5,278.0 602.0,276.4 600.5,275.2C599.0,274.1 597.5,273.2 596.0,272.2C594.5,271.2 593.0,270.5 591.5,269.2C590.0,268.0 588.5,266.2 587.0,264.7C585.5,263.2 583.9,261.6 582.5,260.2C581.1,258.9 579.5,257.9 578.7,256.5C578.0,255.1 577.6,253.5 578.0,252.0Z" fill="#19ff14"/>
<path d="M581.0,252.7C581.1,251.4 582.7,249.6 584.0,249.0C585.2,248.4 587.0,248.5 588.5,249.0C590.0,249.5 591.5,251.1 593.0,252.0C594.5,252.9 595.7,253.5 597.5,254.2C599.2,255.0 601.5,255.9 603.5,256.5C605.5,257.1 607.2,257.9 609.5,258.0C611.7,258.1 614.7,257.7 617.0,257.2C619.2,256.7 621.2,255.5 623.0,255.0C624.7,254.5 625.7,254.0 627.5,254.2C629.2,254.5 632.2,255.4 633.5,256.5C634.7,257.6 635.5,259.5 635.0,261.0C634.5,262.5 632.2,264.2 630.5,265.5C628.7,266.7 626.5,267.7 624.5,268.5C622.5,269.2 620.5,269.6 618.5,270.0C616.5,270.4 614.2,270.4 612.5,270.7C610.7,271.1 609.2,271.4 608.0,272.2C606.7,273.1 606.2,275.9 605.0,276.0C603.7,276.1 602.0,274.0 600.5,273.0C599.0,272.0 597.5,271.1 596.0,270.0C594.5,268.9 593.0,267.6 591.5,266.2C590.0,264.9 588.4,263.2 587.0,261.7C585.6,260.2 584.2,258.7 583.2,257.2C582.2,255.7 580.9,254.1 581.0,252.7Z" fill="#82fa05"/>
<path d="M590.7,255.7C591.2,255.1 592.6,254.6 593.7,255.0C594.9,255.4 596.1,256.7 597.5,258.0C598.9,259.2 600.2,261.4 602.0,262.5C603.7,263.6 605.7,264.5 608.0,264.7C610.2,265.0 613.2,264.6 615.5,264.0C617.7,263.4 619.7,261.9 621.5,261.0C623.2,260.1 624.5,258.9 626.0,258.7C627.5,258.6 630.0,259.4 630.5,260.2C631.0,261.1 630.2,262.9 629.0,264.0C627.7,265.1 625.0,266.2 623.0,267.0C621.0,267.7 619.0,268.1 617.0,268.5C615.0,268.9 612.9,268.9 611.0,269.2C609.1,269.6 607.2,270.7 605.7,270.7C604.2,270.7 603.4,270.0 602.0,269.2C600.6,268.5 598.9,267.4 597.5,266.2C596.1,265.1 594.9,263.7 593.7,262.5C592.6,261.2 591.2,259.9 590.7,258.7C590.2,257.6 590.2,256.4 590.7,255.7Z" fill="#e8e600"/>
<path d="M653.0,267.0C653.3,265.7 655.8,263.3 658.0,262.0C660.2,260.7 663.0,259.3 666.0,259.0C669.0,258.7 672.3,259.5 676.0,260.0C679.7,260.5 684.0,261.5 688.0,262.0C692.0,262.5 696.0,262.7 700.0,263.0C704.0,263.3 708.0,263.9 712.0,264.0C716.0,264.1 720.0,263.9 724.0,263.6C728.0,263.3 731.0,262.4 736.0,262.0C741.0,261.6 751.0,259.3 754.0,261.0L754.0,272.0C751.7,273.8 744.3,271.8 740.0,271.6C735.7,271.4 732.0,271.2 728.0,271.0C724.0,270.8 720.0,270.6 716.0,270.4C712.0,270.2 708.0,270.1 704.0,270.0C700.0,269.9 696.0,269.8 692.0,269.6C688.0,269.4 683.7,268.9 680.0,269.0C676.3,269.1 673.0,269.7 670.0,270.0C667.0,270.3 664.3,271.0 662.0,271.0C659.7,271.0 657.5,270.7 656.0,270.0C654.5,269.3 652.7,268.3 653.0,267.0Z" fill="#00ffdc"/>
<path d="M657.0,266.0C657.0,265.1 660.0,263.7 662.0,263.0C664.0,262.3 666.7,261.5 669.0,261.6C671.3,261.7 672.8,263.1 676.0,263.6C679.2,264.1 684.0,264.1 688.0,264.4C692.0,264.7 696.0,265.2 700.0,265.6C704.0,266.0 708.0,266.9 712.0,267.0C716.0,267.1 720.0,266.8 724.0,266.4C728.0,266.0 731.0,265.0 736.0,264.4C741.0,263.8 751.0,262.1 754.0,263.0L754.0,270.0C751.7,271.2 744.3,270.1 740.0,270.0C735.7,269.9 732.0,269.8 728.0,269.6C724.0,269.4 720.0,269.2 716.0,269.0C712.0,268.8 708.0,268.6 704.0,268.4C700.0,268.2 696.0,267.8 692.0,267.6C688.0,267.4 683.7,266.9 680.0,267.0C676.3,267.1 673.0,267.8 670.0,268.0C667.0,268.2 664.2,268.7 662.0,268.4C659.8,268.1 657.0,266.9 657.0,266.0Z" fill="#00aaff"/>
<path d="M720.0,268.0C720.0,267.4 726.7,266.6 730.0,266.0C733.3,265.4 736.0,264.8 740.0,264.4C744.0,264.0 751.7,262.7 754.0,263.6L754.0,269.6C751.7,270.7 744.0,270.0 740.0,270.0C736.0,270.0 733.3,269.9 730.0,269.6C726.7,269.3 720.0,268.6 720.0,268.0Z" fill="#0046ff"/>
<path d="M624.0,308.0C624.5,306.3 625.7,304.3 627.0,303.0C628.3,301.7 630.2,301.0 632.0,300.0C633.8,299.0 636.0,297.8 638.0,297.0C640.0,296.2 643.2,296.2 644.0,295.0C644.8,293.8 643.8,291.5 643.0,290.0C642.2,288.5 640.0,287.7 639.0,286.0C638.0,284.3 637.2,282.0 637.0,280.0C636.8,278.0 637.2,275.5 638.0,274.0C638.8,272.5 640.0,271.7 642.0,271.0C644.0,270.3 647.0,270.0 650.0,270.0C653.0,270.0 656.7,270.7 660.0,271.0C663.3,271.3 666.7,271.8 670.0,272.0C673.3,272.2 676.3,272.2 680.0,272.4C683.7,272.6 688.0,272.8 692.0,273.0C696.0,273.2 699.3,273.4 704.0,273.6C708.7,273.8 714.7,273.9 720.0,274.0C725.3,274.1 730.3,274.2 736.0,274.4C741.7,274.6 751.0,274.2 754.0,275.0C757.0,275.8 756.3,278.2 754.0,279.0C751.7,279.8 744.3,279.4 740.0,279.6C735.7,279.8 731.7,279.9 728.0,280.0C724.3,280.1 720.7,280.1 718.0,280.4C715.3,280.7 714.0,281.4 712.0,282.0C710.0,282.6 708.0,283.8 706.0,284.0C704.0,284.2 702.0,283.0 700.0,283.0C698.0,283.0 694.3,283.2 694.0,284.0C693.7,284.8 696.0,287.0 698.0,288.0C700.0,289.0 703.0,289.5 706.0,290.0C709.0,290.5 712.3,291.0 716.0,291.0C719.7,291.0 724.0,290.3 728.0,290.0C732.0,289.7 735.7,289.3 740.0,289.0C744.3,288.7 751.7,286.9 754.0,288.4L754.0,298.0C752.3,299.8 747.0,299.0 744.0,299.0C741.0,299.0 738.7,298.3 736.0,298.0C733.3,297.7 730.7,297.0 728.0,297.0C725.3,297.0 722.3,297.5 720.0,298.0C717.7,298.5 715.8,299.2 714.0,300.0C712.2,300.8 709.5,301.7 709.0,303.0C708.5,304.3 709.8,306.2 711.0,308.0C712.2,309.8 714.5,312.2 716.0,314.0C717.5,315.8 720.0,317.8 720.0,319.0C720.0,320.2 718.0,321.0 716.0,321.0C714.0,321.0 710.3,319.7 708.0,319.0C705.7,318.3 703.7,318.0 702.0,317.0C700.3,316.0 699.3,314.2 698.0,313.0C696.7,311.8 695.7,310.8 694.0,310.0C692.3,309.2 689.7,308.0 688.0,308.0C686.3,308.0 685.3,309.0 684.0,310.0C682.7,311.0 681.2,312.5 680.0,314.0C678.8,315.5 678.0,317.5 677.0,319.0C676.0,320.5 675.2,321.7 674.0,323.0C672.8,324.3 671.7,325.8 670.0,327.0C668.3,328.2 666.0,329.2 664.0,330.0C662.0,330.8 660.0,331.8 658.0,332.0C656.0,332.2 654.0,331.5 652.0,331.0C650.0,330.5 647.8,330.0 646.0,329.0C644.2,328.0 642.3,326.5 641.0,325.0C639.7,323.5 639.2,321.0 638.0,320.0C636.8,319.0 635.5,318.8 634.0,319.0C632.5,319.2 630.3,321.3 629.0,321.0C627.7,320.7 626.8,318.3 626.0,317.0C625.2,315.7 624.3,314.5 624.0,313.0L624.0,308.0Z" fill="#19ff14"/>
<path d="M657.0,293.0C656.8,291.9 657.8,290.3 659.0,289.6C660.2,288.9 662.7,288.6 664.0,289.0C665.3,289.4 666.8,290.8 667.0,292.0C667.2,293.2 666.2,295.3 665.0,296.0C663.8,296.7 661.3,296.9 660.0,296.4C658.7,295.9 657.2,294.1 657.0,293.0Z" fill="#e6e6e6"/>
<path d="M673.0,284.4C673.8,283.1 677.5,282.3 680.0,282.4C682.5,282.5 685.7,283.9 688.0,285.0C690.3,286.1 692.3,287.7 694.0,289.0C695.7,290.3 697.6,291.5 698.0,293.0C698.4,294.5 697.6,297.3 696.4,298.0C695.2,298.7 692.7,297.6 691.0,297.0C689.3,296.4 687.8,295.1 686.0,294.4C684.2,293.7 681.8,293.7 680.0,293.0C678.2,292.3 676.2,291.4 675.0,290.0C673.8,288.6 672.2,285.7 673.0,284.4Z" fill="#e6e6e6"/>
<path d="M645.0,316.0C645.3,314.9 646.8,312.9 648.0,312.4C649.2,311.9 651.5,312.2 652.4,313.0C653.3,313.8 654.0,315.8 653.6,317.0C653.2,318.2 651.2,319.7 650.0,320.0C648.8,320.3 647.2,319.7 646.4,319.0C645.6,318.3 644.7,317.1 645.0,316.0Z" fill="#e6e6e6"/>
<path d="M671.0,308.0C671.0,306.2 672.5,304.3 674.0,303.0C675.5,301.7 678.5,300.0 680.0,300.0C681.5,300.0 682.7,301.7 683.0,303.0C683.3,304.3 682.7,306.3 682.0,308.0C681.3,309.7 680.3,312.0 679.0,313.0C677.7,314.0 675.3,314.8 674.0,314.0C672.7,313.2 671.0,309.8 671.0,308.0Z" fill="#e6e6e6"/>
<path d="M639.0,276.0C639.7,274.7 640.8,273.1 643.0,272.4C645.2,271.7 648.5,271.6 652.0,271.6C655.5,271.6 660.0,272.1 664.0,272.4C668.0,272.7 672.0,273.3 676.0,273.6C680.0,273.9 684.0,274.2 688.0,274.4C692.0,274.6 696.0,274.8 700.0,275.0C704.0,275.2 708.7,275.4 712.0,275.6C715.3,275.8 718.7,275.6 720.0,276.0C721.3,276.4 721.3,277.5 720.0,278.0C718.7,278.5 714.7,278.5 712.0,279.0C709.3,279.5 706.7,280.5 704.0,281.0C701.3,281.5 698.7,281.7 696.0,282.0C693.3,282.3 690.7,282.7 688.0,283.0C685.3,283.3 682.7,283.3 680.0,283.6C677.3,283.9 674.3,284.6 672.0,285.0C669.7,285.4 668.0,286.0 666.0,286.0C664.0,286.0 662.0,285.0 660.0,285.0C658.0,285.0 656.0,286.0 654.0,286.0C652.0,286.0 650.0,285.5 648.0,285.0C646.0,284.5 643.5,283.8 642.0,283.0C640.5,282.2 639.5,281.2 639.0,280.0C638.5,278.8 638.3,277.3 639.0,276.0Z" fill="#82fa05"/>
<path d="M643.0,277.0C643.5,275.8 645.5,274.6 648.0,274.0C650.5,273.4 654.7,273.5 658.0,273.6C661.3,273.7 664.7,274.1 668.0,274.4C671.3,274.7 676.0,275.0 678.0,275.6C680.0,276.2 680.7,277.2 680.0,278.0C679.3,278.8 676.3,279.7 674.0,280.4C671.7,281.1 668.7,281.7 666.0,282.0C663.3,282.3 660.7,281.8 658.0,282.0C655.3,282.2 652.2,283.2 650.0,283.0C647.8,282.8 646.2,282.0 645.0,281.0C643.8,280.0 642.5,278.2 643.0,277.0Z" fill="#e8e600"/>
<path d="M647.0,280.0C647.3,279.4 649.0,278.6 650.0,278.6C651.0,278.6 652.6,279.4 653.0,280.0C653.4,280.6 653.2,281.7 652.4,282.0C651.6,282.3 648.9,282.3 648.0,282.0C647.1,281.7 646.7,280.6 647.0,280.0Z" fill="#ff8000"/>
<path d="M626.0,307.0C626.2,305.6 628.3,303.6 630.0,302.4C631.7,301.2 633.7,300.4 636.0,299.6C638.3,298.8 641.3,298.0 644.0,297.6C646.7,297.2 649.3,296.9 652.0,297.0C654.7,297.1 657.3,297.5 660.0,298.0C662.7,298.5 666.0,299.0 668.0,300.0C670.0,301.0 671.7,302.3 672.0,304.0C672.3,305.7 669.8,308.2 670.0,310.0C670.2,311.8 672.8,313.3 673.0,315.0C673.2,316.7 672.2,318.5 671.0,320.0C669.8,321.5 667.8,323.0 666.0,324.0C664.2,325.0 662.0,326.0 660.0,326.0C658.0,326.0 655.3,325.2 654.0,324.0C652.7,322.8 651.7,320.7 652.0,319.0C652.3,317.3 655.0,315.7 656.0,314.0C657.0,312.3 658.3,310.2 658.0,309.0C657.7,307.8 656.0,307.2 654.0,307.0C652.0,306.8 648.3,307.5 646.0,308.0C643.7,308.5 642.0,309.3 640.0,310.0C638.0,310.7 635.8,311.8 634.0,312.0C632.2,312.2 630.3,311.8 629.0,311.0C627.7,310.2 625.8,308.4 626.0,307.0Z" fill="#82fa05"/>
<path d="M635.0,304.0C635.2,302.9 637.8,301.7 640.0,301.0C642.2,300.3 645.3,299.7 648.0,299.6C650.7,299.5 654.2,299.8 656.0,300.4C657.8,301.0 659.3,302.1 659.0,303.0C658.7,303.9 656.2,305.0 654.0,305.6C651.8,306.2 648.5,306.1 646.0,306.4C643.5,306.7 640.8,308.0 639.0,307.6C637.2,307.2 634.8,305.1 635.0,304.0Z" fill="#e8e600"/>
<path d="M659.0,317.0C659.3,315.6 660.7,313.0 662.0,312.0C663.3,311.0 665.7,310.7 667.0,311.0C668.3,311.3 669.8,312.7 670.0,314.0C670.2,315.3 669.2,317.7 668.0,319.0C666.8,320.3 664.3,321.8 663.0,322.0C661.7,322.2 660.7,321.2 660.0,320.4C659.3,319.6 658.7,318.4 659.0,317.0Z" fill="#e8e600"/>
<path d="M704.0,291.0C704.8,290.3 708.7,290.0 712.0,290.0C715.3,290.0 720.0,290.7 724.0,291.0C728.0,291.3 732.0,291.7 736.0,292.0C740.0,292.3 745.0,292.7 748.0,293.0C751.0,293.3 753.0,293.0 754.0,293.6C755.0,294.2 756.3,295.9 754.0,296.4C751.7,296.9 744.3,296.5 740.0,296.4C735.7,296.3 732.0,295.8 728.0,295.6C724.0,295.4 719.5,295.2 716.0,295.0C712.5,294.8 709.0,295.1 707.0,294.4C705.0,293.7 703.2,291.7 704.0,291.0Z" fill="#82fa05"/>
<path d="M678.0,253.0C678.0,252.3 683.0,251.2 686.0,250.0C689.0,248.8 692.7,247.5 696.0,246.0C699.3,244.5 702.7,242.7 706.0,241.0C709.3,239.3 713.0,237.5 716.0,236.0C719.0,234.5 721.3,233.3 724.0,232.0C726.7,230.7 729.3,229.2 732.0,228.0C734.7,226.8 739.0,226.0 740.0,225.0C741.0,224.0 739.5,222.7 738.0,222.0C736.5,221.3 732.0,222.2 731.0,221.0C730.0,219.8 730.2,216.3 732.0,215.0C733.8,213.7 738.3,213.7 742.0,213.0C745.7,212.3 752.0,203.5 754.0,211.0L754.0,258.0C752.3,265.5 747.0,256.2 744.0,256.0C741.0,255.8 739.0,256.6 736.0,257.0C733.0,257.4 729.3,258.2 726.0,258.4C722.7,258.6 719.0,258.2 716.0,258.0C713.0,257.8 710.0,257.7 708.0,257.0C706.0,256.3 706.0,254.7 704.0,254.0C702.0,253.3 699.0,253.0 696.0,253.0C693.0,253.0 689.0,254.0 686.0,254.0C683.0,254.0 678.0,253.7 678.0,253.0Z" fill="#19ff14"/>
<path d="M727.0,236.0C728.0,234.7 731.2,232.2 734.0,231.0C736.8,229.8 740.7,229.5 744.0,229.0C747.3,228.5 752.3,226.3 754.0,228.0L754.0,239.0C752.3,241.0 747.3,239.8 744.0,240.0C740.7,240.2 736.7,240.2 734.0,240.0C731.3,239.8 729.2,239.7 728.0,239.0C726.8,238.3 726.0,237.3 727.0,236.0Z" fill="#82fa05"/>
<path d="M702.0,201.0C701.8,200.3 706.7,198.2 709.0,198.0C711.3,197.8 715.8,199.3 716.0,200.0C716.2,200.7 712.3,202.2 710.0,202.4C707.7,202.6 702.2,201.7 702.0,201.0Z" fill="#19ff14"/>
<path d="M713.0,197.0C713.0,196.5 717.3,196.0 719.0,196.0C720.7,196.0 723.0,196.5 723.0,197.0C723.0,197.5 720.7,199.0 719.0,199.0C717.3,199.0 713.0,197.5 713.0,197.0Z" fill="#19ff14"/>
<path d="M688.0,193.0L690.0,189.0L692.4,192.0Z" fill="#19ff14"/>
<path d="M688.0,206.0C688.5,205.2 691.8,204.8 693.0,205.0C694.2,205.2 695.5,206.2 695.0,207.0C694.5,207.8 691.2,209.8 690.0,209.6C688.8,209.4 687.5,206.8 688.0,206.0Z" fill="#19ff14"/>
<path d="M748.0,171.0C748.7,170.2 753.0,169.8 754.0,171.0L754.0,178.4C753.3,179.2 751.0,177.2 750.0,176.0C749.0,174.8 747.3,171.8 748.0,171.0Z" fill="#00ffdc"/>
<path d="M646.0,246.4C647.0,245.6 651.0,245.3 654.0,245.0C657.0,244.7 660.8,244.8 664.0,244.4C667.2,244.0 670.7,242.6 673.0,242.4C675.3,242.2 677.8,242.3 678.0,243.0C678.2,243.7 676.0,245.4 674.0,246.4C672.0,247.4 669.0,248.5 666.0,249.0C663.0,249.5 659.0,249.5 656.0,249.6C653.0,249.7 649.7,250.1 648.0,249.6C646.3,249.1 645.0,247.2 646.0,246.4Z" fill="#00ffdc"/>
<path d="M653.0,257.0C653.0,256.2 654.8,254.0 655.6,254.0C656.4,254.0 658.0,256.2 658.0,257.0C658.0,257.8 656.4,259.0 655.6,259.0C654.8,259.0 653.0,257.8 653.0,257.0Z" fill="#19ff14"/>
<path d="M718.0,267.0C719.3,266.3 724.3,265.5 728.0,265.0C731.7,264.5 735.7,264.3 740.0,264.0C744.3,263.7 751.7,262.1 754.0,263.0L754.0,269.6C751.7,270.7 744.3,269.6 740.0,269.6C735.7,269.6 731.3,269.7 728.0,269.6C724.7,269.5 721.7,269.4 720.0,269.0C718.3,268.6 716.7,267.7 718.0,267.0Z" fill="#0046ff"/>
<path d="M736.0,266.4C737.2,266.0 741.0,265.5 744.0,265.2C747.0,264.9 752.3,264.1 754.0,264.6C755.7,265.1 755.7,267.4 754.0,268.0C752.3,268.6 746.8,268.1 744.0,268.0C741.2,267.9 738.3,267.9 737.0,267.6C735.7,267.3 734.8,266.8 736.0,266.4Z" fill="#3200ff"/>
<path d="M714.0,310.0C714.5,309.0 718.2,308.5 720.0,307.0C721.8,305.5 723.7,302.5 725.0,301.0C726.3,299.5 726.2,298.7 728.0,298.0C729.8,297.3 733.0,297.0 736.0,297.0C739.0,297.0 743.0,297.7 746.0,298.0C749.0,298.3 752.7,288.8 754.0,299.0L754.0,359.0C752.7,369.2 748.7,359.7 746.0,360.0C743.3,360.3 740.5,361.2 738.0,361.0C735.5,360.8 733.0,360.0 731.0,359.0C729.0,358.0 727.8,356.3 726.0,355.0C724.2,353.7 722.0,352.2 720.0,351.0C718.0,349.8 715.5,349.3 714.0,348.0C712.5,346.7 711.0,344.5 711.0,343.0C711.0,341.5 712.5,340.1 714.0,339.0C715.5,337.9 717.7,337.1 720.0,336.4C722.3,335.7 726.0,335.7 728.0,335.0C730.0,334.3 731.5,333.5 732.0,332.0C732.5,330.5 731.5,328.0 731.0,326.0C730.5,324.0 730.2,321.8 729.0,320.0C727.8,318.2 726.0,316.2 724.0,315.0C722.0,313.8 718.7,313.8 717.0,313.0C715.3,312.2 713.5,311.0 714.0,310.0Z" fill="#00ffdc"/>
<path d="M743.0,342.0C743.3,340.8 744.7,339.6 746.0,339.0C747.3,338.4 749.7,338.4 751.0,338.4C752.3,338.4 753.5,337.6 754.0,339.0L754.0,347.0C753.0,348.4 749.7,347.8 748.0,347.6C746.3,347.4 744.8,346.9 744.0,346.0C743.2,345.1 742.7,343.2 743.0,342.0Z" fill="#e6e6e6"/>
<path d="M728.0,303.0C728.8,301.7 731.3,300.6 734.0,300.0C736.7,299.4 740.7,299.5 744.0,299.6C747.3,299.7 752.3,294.2 754.0,300.4L754.0,337.0C752.7,343.0 748.3,336.9 746.0,336.4C743.7,335.9 741.7,335.2 740.0,334.0C738.3,332.8 737.0,331.0 736.0,329.0C735.0,327.0 734.7,324.5 734.0,322.0C733.3,319.5 732.8,316.3 732.0,314.0C731.2,311.7 729.7,309.8 729.0,308.0C728.3,306.2 727.2,304.3 728.0,303.0Z" fill="#00aaff"/>
<path d="M735.6,308.0C735.8,306.0 737.3,304.1 739.0,303.0C740.7,301.9 743.5,301.8 746.0,301.6C748.5,301.4 752.7,296.9 754.0,302.0L754.0,332.0C752.8,336.8 748.8,331.7 747.0,331.0C745.2,330.3 744.2,329.5 743.0,328.0C741.8,326.5 740.8,324.2 740.0,322.0C739.2,319.8 738.7,317.3 738.0,315.0C737.3,312.7 735.4,310.0 735.6,308.0Z" fill="#0046ff"/>
<path d="M716.0,344.4C716.2,343.4 717.5,341.8 719.0,341.0C720.5,340.2 723.2,339.5 725.0,339.6C726.8,339.7 728.9,340.7 730.0,341.6C731.1,342.5 731.9,343.9 731.6,345.0C731.3,346.1 729.6,347.4 728.0,348.0C726.4,348.6 723.7,348.6 722.0,348.4C720.3,348.2 719.0,347.7 718.0,347.0C717.0,346.3 715.8,345.4 716.0,344.4Z" fill="#00aaff"/>
<path d="M731.0,355.0C731.2,354.3 733.8,353.5 735.0,353.6C736.2,353.7 738.2,354.9 738.0,355.6C737.8,356.3 735.2,357.7 734.0,357.6C732.8,357.5 730.8,355.7 731.0,355.0Z" fill="#00aaff"/>
<path d="M696.0,332.0C696.3,330.0 697.7,328.0 699.0,327.0C700.3,326.0 702.5,325.5 704.0,326.0C705.5,326.5 707.2,328.2 708.0,330.0C708.8,331.8 709.3,335.0 709.0,337.0C708.7,339.0 707.3,340.8 706.0,342.0C704.7,343.2 702.5,344.5 701.0,344.0C699.5,343.5 697.8,341.0 697.0,339.0C696.2,337.0 695.7,334.0 696.0,332.0Z" fill="#00ffdc"/>
<path d="M693.0,346.4C693.1,345.9 695.8,345.1 697.0,345.2C698.2,345.3 700.1,346.3 700.0,346.8C699.9,347.3 697.6,348.5 696.4,348.4C695.2,348.3 692.9,346.9 693.0,346.4Z" fill="#00ffdc"/>
<path d="M679.0,318.0C679.2,317.0 681.2,315.4 683.0,315.0C684.8,314.6 688.4,314.9 690.0,315.6C691.6,316.3 692.7,318.0 692.4,319.0C692.1,320.0 689.7,321.3 688.0,321.6C686.3,321.9 683.5,321.6 682.0,321.0C680.5,320.4 678.8,319.0 679.0,318.0Z" fill="#00ffdc"/>
<path d="M682.0,318.0C682.3,317.6 685.7,316.9 687.0,317.0C688.3,317.1 690.3,318.2 690.0,318.6C689.7,319.0 686.3,319.7 685.0,319.6C683.7,319.5 681.7,318.4 682.0,318.0Z" fill="#00aaff"/>
<path d="M722.0,369.0C722.2,368.4 724.3,367.4 725.0,367.6C725.7,367.8 726.6,369.4 726.4,370.0C726.2,370.6 724.3,371.4 723.6,371.2C722.9,371.0 721.8,369.6 722.0,369.0Z" fill="#19ff14"/>
<path d="M439.0,312.0C439.7,310.7 441.8,308.8 444.0,308.0C446.2,307.2 449.5,306.7 452.0,307.0C454.5,307.3 456.8,308.8 459.0,310.0C461.2,311.2 463.8,312.5 465.0,314.0C466.2,315.5 466.3,317.2 466.0,319.0C465.7,320.8 464.2,323.2 463.0,325.0C461.8,326.8 460.5,329.3 459.0,330.0C457.5,330.7 455.7,329.7 454.0,329.0C452.3,328.3 450.7,327.3 449.0,326.0C447.3,324.7 445.5,322.7 444.0,321.0C442.5,319.3 440.8,317.5 440.0,316.0C439.2,314.5 438.3,313.3 439.0,312.0Z" fill="#19ff14"/>
<path d="M443.0,313.0C443.2,311.3 446.2,310.3 448.0,310.0C449.8,309.7 452.3,310.2 454.0,311.0C455.7,311.8 457.2,313.5 458.0,315.0C458.8,316.5 459.3,318.3 459.0,320.0C458.7,321.7 457.3,324.3 456.0,325.0C454.7,325.7 452.5,324.8 451.0,324.0C449.5,323.2 448.3,321.8 447.0,320.0C445.7,318.2 442.8,314.7 443.0,313.0Z" fill="#82fa05"/>
<path d="M450.0,318.0C450.0,316.8 451.7,315.7 452.4,316.0C453.1,316.3 454.4,318.8 454.4,320.0C454.4,321.2 453.1,323.3 452.4,323.0C451.7,322.7 450.0,319.2 450.0,318.0Z" fill="#e8e600"/>
<path d="M456.0,295.0C456.0,294.3 457.6,293.0 458.4,293.0C459.2,293.0 461.0,294.3 461.0,295.0C461.0,295.7 459.2,297.2 458.4,297.2C457.6,297.2 456.0,295.7 456.0,295.0Z" fill="#19ff14"/>
<path d="M469.0,328.0C469.5,326.7 471.5,324.6 473.0,324.4C474.5,324.2 476.5,325.9 478.0,327.0C479.5,328.1 481.0,329.2 482.0,331.0C483.0,332.8 483.8,335.8 484.0,338.0C484.2,340.2 483.7,342.7 483.0,344.0C482.3,345.3 480.6,346.3 479.6,345.6C478.6,344.9 477.9,341.9 477.0,340.0C476.1,338.1 475.2,335.7 474.0,334.4C472.8,333.1 470.8,333.1 470.0,332.0C469.2,330.9 468.5,329.3 469.0,328.0Z" fill="#00ffdc"/>
<path d="M471.0,328.4C470.8,327.4 473.0,326.6 474.0,327.0C475.0,327.4 476.8,330.0 477.0,331.0C477.2,332.0 476.0,333.4 475.0,333.0C474.0,332.6 471.2,329.4 471.0,328.4Z" fill="#00aaff"/>
<path d="M517.0,379.4C517.0,379.2 519.0,378.8 520.0,378.8C521.0,378.8 523.0,379.2 523.0,379.4C523.0,379.6 521.0,380.2 520.0,380.2C519.0,380.2 517.0,379.6 517.0,379.4Z" fill="#00ffdc"/>
<path d="M347.0,288.0C347.7,287.1 351.2,285.9 354.0,285.6C356.8,285.3 360.3,286.0 364.0,286.0C367.7,286.0 372.0,285.9 376.0,285.6C380.0,285.3 384.0,284.7 388.0,284.4C392.0,284.1 396.0,283.8 400.0,283.6C404.0,283.4 408.0,283.2 412.0,283.0C416.0,282.8 420.3,282.2 424.0,282.4C427.7,282.6 431.3,283.1 434.0,284.0C436.7,284.9 438.2,286.7 440.0,288.0C441.8,289.3 444.3,290.3 445.0,292.0C445.7,293.7 443.5,296.3 444.0,298.0C444.5,299.7 447.7,300.8 448.0,302.0C448.3,303.2 447.2,304.8 446.0,305.0C444.8,305.2 442.7,303.7 441.0,303.0C439.3,302.3 438.2,301.5 436.0,301.0C433.8,300.5 430.7,300.5 428.0,300.0C425.3,299.5 422.7,298.7 420.0,298.0C417.3,297.3 414.7,296.1 412.0,295.6C409.3,295.1 406.7,295.0 404.0,295.0C401.3,295.0 398.7,295.4 396.0,295.6C393.3,295.8 390.7,296.2 388.0,296.4C385.3,296.6 383.0,296.8 380.0,297.0C377.0,297.2 373.0,297.4 370.0,297.6C367.0,297.8 364.2,298.1 362.0,298.0C359.8,297.9 358.2,297.8 357.0,297.0C355.8,296.2 356.2,294.0 355.0,293.0C353.8,292.0 351.3,291.8 350.0,291.0C348.7,290.2 346.3,288.9 347.0,288.0Z" fill="#00ffdc"/>
<path d="M356.0,295.0C355.8,294.2 359.3,292.8 362.0,292.0C364.7,291.2 368.3,290.6 372.0,290.0C375.7,289.4 380.3,288.6 384.0,288.4C387.7,288.2 391.7,288.6 394.0,289.0C396.3,289.4 398.3,290.2 398.0,291.0C397.7,291.8 394.7,292.8 392.0,293.6C389.3,294.4 385.3,295.1 382.0,295.6C378.7,296.1 375.2,296.2 372.0,296.4C368.8,296.6 365.7,297.2 363.0,297.0C360.3,296.8 356.2,295.8 356.0,295.0Z" fill="#00aaff"/>
<path d="M407.0,290.0C407.3,289.0 411.2,287.7 414.0,287.0C416.8,286.3 420.8,285.7 424.0,285.6C427.2,285.5 430.7,285.5 433.0,286.4C435.3,287.3 436.8,289.4 438.0,291.0C439.2,292.6 440.3,294.7 440.0,296.0C439.7,297.3 438.0,298.7 436.0,299.0C434.0,299.3 430.7,298.5 428.0,298.0C425.3,297.5 422.7,296.8 420.0,296.0C417.3,295.2 414.2,294.0 412.0,293.0C409.8,292.0 406.7,291.0 407.0,290.0Z" fill="#00aaff"/>
<path d="M319.0,265.0C320.5,263.3 325.2,261.7 328.0,260.0C330.8,258.3 334.0,256.3 336.0,255.0C338.0,253.7 339.2,251.5 340.0,252.0C340.8,252.5 339.0,256.7 341.0,258.0C343.0,259.3 348.2,259.3 352.0,260.0C355.8,260.7 360.0,261.3 364.0,262.0C368.0,262.7 372.0,263.3 376.0,264.0C380.0,264.7 384.3,265.7 388.0,266.0C391.7,266.3 395.5,265.8 398.0,266.0C400.5,266.2 402.7,266.0 403.0,267.0C403.3,268.0 401.8,270.7 400.0,272.0C398.2,273.3 395.3,274.4 392.0,275.0C388.7,275.6 384.0,275.7 380.0,275.6C376.0,275.5 372.0,274.7 368.0,274.4C364.0,274.1 360.0,273.8 356.0,273.6C352.0,273.4 347.7,273.3 344.0,273.0C340.3,272.7 337.3,272.3 334.0,272.0C330.7,271.7 326.5,271.3 324.0,271.0C321.5,270.7 319.8,271.4 319.0,270.4L319.0,265.0Z" fill="#19ff14"/>
<path d="M344.0,266.4C345.0,265.6 348.7,264.6 352.0,264.4C355.3,264.2 360.0,264.6 364.0,265.0C368.0,265.4 372.0,266.2 376.0,267.0C380.0,267.8 384.7,268.8 388.0,269.6C391.3,270.4 396.0,271.4 396.0,272.0C396.0,272.6 391.3,273.0 388.0,273.0C384.7,273.0 380.0,272.3 376.0,272.0C372.0,271.7 368.0,271.3 364.0,271.0C360.0,270.7 355.0,270.3 352.0,270.0C349.0,269.7 347.3,269.6 346.0,269.0C344.7,268.4 343.0,267.2 344.0,266.4Z" fill="#82fa05"/>
<path d="M389.0,258.0C389.5,257.2 391.5,255.7 394.0,255.0C396.5,254.3 400.3,253.8 404.0,253.6C407.7,253.4 412.0,253.5 416.0,253.6C420.0,253.7 424.8,253.8 428.0,254.4C431.2,255.0 434.3,256.1 435.0,257.0C435.7,257.9 433.8,259.2 432.0,260.0C430.2,260.8 427.0,261.5 424.0,262.0C421.0,262.5 417.3,263.0 414.0,263.0C410.7,263.0 407.0,262.3 404.0,262.0C401.0,261.7 398.2,261.3 396.0,261.0C393.8,260.7 392.2,260.5 391.0,260.0C389.8,259.5 388.5,258.8 389.0,258.0Z" fill="#19ff14"/>
<path d="M395.0,258.0C395.3,257.4 399.2,256.4 402.0,256.0C404.8,255.6 408.7,255.5 412.0,255.6C415.3,255.7 421.0,255.8 422.0,256.4C423.0,257.0 420.3,258.4 418.0,259.0C415.7,259.6 411.0,259.9 408.0,260.0C405.0,260.1 402.2,259.9 400.0,259.6C397.8,259.3 394.7,258.6 395.0,258.0Z" fill="#82fa05"/>
<path d="M406.0,257.2C406.5,256.9 410.5,256.7 412.0,256.8C413.5,256.9 415.5,257.7 415.0,258.0C414.5,258.3 410.5,258.7 409.0,258.6C407.5,258.5 405.5,257.5 406.0,257.2Z" fill="#e8e600"/>
<path d="M359.0,346.4C359.0,344.7 363.2,342.6 366.0,342.0C368.8,341.4 372.3,342.5 376.0,343.0C379.7,343.5 384.0,344.4 388.0,345.0C392.0,345.6 396.0,346.1 400.0,346.4C404.0,346.7 408.8,346.6 412.0,347.0C415.2,347.4 418.0,347.8 419.0,349.0C420.0,350.2 419.5,352.7 418.0,354.0C416.5,355.3 413.0,356.3 410.0,357.0C407.0,357.7 403.7,358.0 400.0,358.0C396.3,358.0 392.0,357.5 388.0,357.0C384.0,356.5 379.7,355.8 376.0,355.0C372.3,354.2 368.8,353.4 366.0,352.0C363.2,350.6 359.0,348.1 359.0,346.4Z" fill="#19ff14"/>
<path d="M457.0,294.0C457.1,293.3 458.8,291.9 459.6,292.0C460.4,292.1 461.7,293.7 461.6,294.4C461.5,295.1 459.8,296.5 459.0,296.4C458.2,296.3 456.9,294.7 457.0,294.0Z" fill="#19ff14"/>
<path d="M569.0,395.6C569.3,394.5 570.5,392.8 572.0,392.0C573.5,391.2 576.2,390.7 578.0,391.0C579.8,391.3 582.1,392.4 583.0,393.6C583.9,394.8 584.1,396.8 583.6,398.0C583.1,399.2 581.6,400.2 580.0,400.6C578.4,401.0 575.6,400.7 574.0,400.4C572.4,400.1 571.2,399.4 570.4,398.6C569.6,397.8 568.7,396.7 569.0,395.6Z" fill="#00ffdc"/>
<path d="M587.0,351.4C586.9,350.9 590.2,350.0 592.0,350.0C593.8,350.0 597.9,350.7 598.0,351.2C598.1,351.7 594.2,352.8 592.4,352.8C590.6,352.8 587.1,351.9 587.0,351.4Z" fill="#19ff14"/>
<path d="M548.0,355.2C548.0,354.7 549.6,353.9 550.4,354.0C551.2,354.1 553.0,355.1 553.0,355.6C553.0,356.1 551.2,357.1 550.4,357.0C549.6,356.9 548.0,355.7 548.0,355.2Z" fill="#00ffdc"/>
<path d="M517.0,379.2C517.0,379.0 519.0,378.6 520.0,378.6C521.0,378.6 523.0,379.0 523.0,379.2C523.0,379.4 521.0,380.0 520.0,380.0C519.0,380.0 517.0,379.4 517.0,379.2Z" fill="#00ffdc"/>
</g>
<g clip-path="url(#fr)" fill="none" stroke="#000" stroke-width="1.1" stroke-linejoin="round" shape-rendering="crispEdges">
<path d="M124.4,147.5L114.1,149.4L105.1,153.1L111.3,155.6L114.1,156.5L110.4,156.3L102.9,158.2L106.6,160.2L116.0,160.2L116.0,162.1L109.4,163.1L107.6,164.9L106.6,167.7L110.4,168.9L114.1,168.7L114.1,171.3L119.7,170.9L122.5,170.9L121.6,173.3L116.9,176.2L112.2,178.0L108.9,178.8L113.2,178.8L117.8,177.1L121.6,175.6L125.3,174.3L129.0,171.5L130.0,169.6L132.8,167.2L136.5,166.4L133.7,170.0L138.4,168.7L140.2,167.2L144.0,166.8L147.7,168.7L155.2,169.2L160.8,171.5L164.5,174.3L168.2,177.1L172.0,179.0L173.8,180.3L177.6,184.6L183.2,187.4L186.9,189.3L187.8,192.1L186.9,190.8L184.1,190.6L185.0,194.5L184.3,200.5L184.3,205.4L186.9,209.9L188.8,212.5L191.4,216.4L195.3,217.3L197.9,220.2L200.0,224.8L202.8,228.6L206.5,233.3L211.2,238.1L212.1,237.0L209.3,233.3L206.5,229.5L203.7,224.8L202.2,221.7L205.6,222.6L207.4,226.7L210.2,229.5L213.0,233.3L217.7,237.4L219.6,241.7L219.9,244.5L224.2,246.7L228.0,248.6L233.6,250.7L237.3,251.6L240.1,250.7L242.9,252.0L246.6,254.8L251.3,256.3L253.2,256.7L255.0,258.9L256.5,261.3L257.8,262.7L260.6,265.1L262.5,266.0L265.3,267.3L267.2,265.6L268.1,264.1L270.0,265.5L271.8,267.0M272.8,265.1L268.1,263.0L264.4,264.1L262.5,263.2L260.6,260.8L260.3,257.6L261.0,253.3L257.8,251.2L253.2,251.4L250.9,251.4L251.9,248.2L252.6,246.4L254.1,242.6L254.5,240.9L252.2,240.6L247.9,241.5L247.2,244.5L245.7,246.2L242.9,246.6L240.1,246.9L237.7,245.8L236.4,243.9L234.9,240.7L233.9,237.0L235.1,232.7L234.9,229.5L238.2,227.1L241.0,225.6L244.8,225.6L248.5,226.5L250.0,226.3L249.4,224.5L252.2,224.3L256.9,225.2L259.7,224.8L261.6,226.7L262.1,229.0L263.8,232.3L265.3,233.8L266.6,233.6L267.2,230.8L266.0,227.6L264.7,224.5L265.3,221.1L268.7,218.8L271.3,217.3L273.7,216.0L275.6,215.1L274.6,211.7L274.1,208.9L274.6,211.4L276.1,208.9L278.4,206.5L278.4,205.0L282.1,203.9L284.9,203.1L285.8,202.4L284.3,201.2L285.8,199.2L288.6,197.9L291.4,196.9L293.3,196.4L296.1,195.3L295.5,196.9L293.3,198.6L293.9,199.6L297.0,197.9L302.6,196.2L304.5,194.9L303.6,193.0L301.7,195.3L298.9,195.1L296.1,194.3L295.2,191.5L296.1,189.4L292.4,188.9L288.6,190.2L285.8,192.6L284.0,193.4L286.8,190.8L291.4,188.3L297.0,186.8L304.5,186.8L307.3,185.0L311.0,184.2L312.5,182.7L312.0,180.8L308.2,178.4L304.5,177.1L301.7,174.3L299.8,171.5L297.0,168.1L294.2,169.6L291.4,171.8L286.8,170.9L285.8,168.3L283.0,166.2L278.4,164.4L270.9,164.0L270.9,167.7L271.8,171.5L273.7,174.7L270.0,178.0L268.1,179.0L269.0,182.7L266.2,185.0L263.4,182.1L262.9,178.0L257.8,177.3L252.2,175.2L246.6,173.9L243.8,174.3L241.0,170.9L239.5,168.7L242.9,164.9L246.6,162.1L252.2,161.2L254.1,158.7L256.0,156.5L259.7,156.9L263.4,154.6L264.4,151.8L257.8,150.3L252.2,152.2L248.5,152.8L246.6,150.9L242.0,149.9L237.3,150.3L238.2,152.8L233.6,154.1L226.1,154.1L218.6,152.8L213.0,154.1L205.6,154.1L201.8,152.2L194.4,151.3L185.0,150.9L181.3,149.9L175.7,149.9L168.2,150.9L162.6,152.0L153.3,150.7L145.8,149.9L136.5,149.0L130.9,148.3L124.4,147.5M305.8,191.7L312.0,191.9L316.6,193.6L318.1,191.9L316.6,189.3L312.5,187.4L310.7,185.1L309.2,187.4L306.0,190.6ZM280.2,134.6L289.6,138.7L300.8,138.7L308.2,140.6L313.8,145.3L315.7,149.9L321.3,151.8L316.6,155.6L319.4,159.3L323.2,164.0L326.9,166.8L332.5,168.7L336.2,168.7L338.1,164.9L341.8,160.2L347.4,158.0L354.9,154.6L364.2,153.1L371.7,149.9L375.4,147.1L375.4,143.4L379.2,140.6L381.0,136.8L382.9,133.1L388.5,129.3L379.2,127.5L360.5,125.0L341.8,124.7L323.2,126.5L304.5,127.5L293.3,130.3L285.8,132.2ZM371.7,158.4L375.4,161.2L381.0,162.3L388.5,160.6L391.3,158.7L386.6,156.5L379.2,157.4L373.6,156.7ZM272.8,265.1L275.6,261.3L278.4,260.0L282.1,258.2L283.0,260.4L284.0,263.2L283.0,260.8L285.8,258.5L288.6,260.4L293.3,261.2L297.0,261.3L300.8,261.0L302.6,263.2L304.5,265.1L307.3,267.9L310.1,269.8L313.8,269.8L318.5,271.6L321.3,273.5L323.2,278.2L323.2,281.0L326.9,282.5L332.5,284.7L336.2,285.7L341.8,286.2L346.5,289.4L350.8,291.3L351.5,295.0L350.2,298.8L347.4,302.5L344.6,305.3L343.7,310.0L343.3,314.7L341.8,318.4L340.0,322.2L336.2,324.1L332.5,325.4L328.8,327.2L326.0,329.7L325.6,333.4L323.2,337.2L319.4,341.8L316.6,344.7L313.8,346.2L310.1,345.6L307.7,344.7L310.1,348.4L309.2,352.1L304.5,353.8L300.8,354.0L299.8,357.4L295.2,357.8L297.0,360.6L294.6,364.3L291.4,367.1L293.3,369.9L290.5,373.7L287.7,376.5L288.6,379.3L289.0,382.1L293.3,384.0L289.6,384.9L284.0,383.0L280.2,381.2L277.4,378.4L276.5,374.6L275.6,369.9L278.4,366.2L280.2,361.5L278.9,357.8L279.3,353.1L280.2,350.3L282.1,344.7L283.0,339.0L283.4,333.4L284.9,327.8L285.5,322.2L285.3,316.6L283.0,313.4L278.4,311.0L274.6,307.2L272.8,303.5L270.0,298.8L267.5,294.1L265.3,291.3L264.9,289.1L267.2,286.6L266.2,282.9L267.2,280.1L269.4,278.2L270.0,275.9L272.2,273.5L271.8,269.8L271.8,267.0ZM406.2,214.0L412.8,215.1L416.5,214.0L422.1,212.1L429.6,211.7L435.2,211.4L437.0,212.1L435.5,216.4L437.0,218.3L440.8,219.6L445.4,220.5L449.2,223.0L452.9,223.9L453.8,221.1L457.6,219.6L463.2,221.5L470.6,223.0L474.4,222.0L476.8,222.6L477.2,224.8L479.0,228.6L481.8,234.2L484.6,239.8L486.1,244.5L488.4,248.2L491.2,252.5L495.8,256.7L497.3,258.9L499.6,261.3L504.2,260.0L511.7,258.5L512.3,260.4L509.8,266.0L506.1,271.6L502.4,276.3L496.8,281.0L494.0,284.7L491.2,287.6L489.3,292.2L490.2,296.9L491.7,300.7L492.1,307.2L490.2,311.9L485.6,314.3L482.8,318.4L482.4,323.1L481.8,326.9L478.1,329.3L477.7,333.4L474.4,337.2L470.6,341.8L466.9,344.3L461.3,345.0L455.7,345.6L452.0,345.4L450.7,343.7L450.1,340.9L448.2,336.2L445.4,331.6L443.6,325.0L441.7,320.3L438.9,314.7L438.5,311.0L440.4,305.3L441.7,299.7L440.8,296.0L439.3,292.2L438.0,288.5L434.2,284.7L433.3,281.0L434.6,277.3L434.2,273.5L432.4,272.6L429.6,272.8L426.8,270.7L424.0,269.2L420.2,269.2L416.5,270.3L412.8,272.0L409.0,271.3L402.5,272.8L399.7,271.3L396.0,268.5L392.2,265.1L391.3,262.3L388.5,260.4L385.3,257.6L384.2,253.5L385.7,250.1L386.3,245.4L384.8,241.7L386.6,237.0L388.9,232.3L392.2,229.0L396.0,227.1L398.2,224.8L398.4,221.5L401.6,218.3L404.4,216.4ZM508.5,303.5L510.4,310.0L508.9,314.7L507.0,320.3L504.8,326.9L501.4,328.7L498.6,326.9L497.7,322.2L499.2,317.5L499.2,311.9L502.4,310.0L505.7,307.2ZM406.2,213.6L404.4,212.1L400.1,211.7L399.1,208.5L400.1,204.2L399.3,200.5L401.6,199.2L407.2,199.6L412.8,199.7L414.1,197.7L414.3,194.9L411.8,192.4L408.1,191.3L407.7,190.2L410.9,189.6L413.7,189.8L413.1,188.0L416.5,188.3L419.3,187.0L420.2,185.5L423.0,184.8L424.9,182.7L425.8,181.2L429.6,180.8L432.4,179.9L432.0,177.1L431.8,174.3L435.2,173.2L436.1,176.2L435.2,178.0L437.0,179.5L439.8,179.3L442.6,179.9L447.3,179.0L451.0,178.6L453.5,179.2L455.7,177.1L455.7,174.3L458.5,173.0L461.3,173.9L461.9,171.8L460.4,170.2L465.0,169.6L468.8,169.4L472.5,168.7L469.7,167.5L465.0,167.9L459.4,168.9L456.6,167.2L456.3,164.0L458.5,162.1L463.2,159.3L462.2,157.8L457.6,158.2L456.3,160.2L452.0,162.5L449.2,164.9L448.6,167.4L451.6,169.0L448.2,171.1L447.3,174.3L446.4,175.8L443.6,176.2L440.8,177.3L440.4,175.2L438.0,172.4L437.0,170.5L436.1,169.6L434.2,170.5L431.4,172.2L427.7,171.5L425.8,168.7L425.8,164.9L429.6,163.1L434.2,161.6L437.0,159.7L440.8,156.5L443.6,153.7L448.2,151.8L452.0,150.3L457.6,149.4L464.1,148.1L468.8,148.1L474.4,149.4L470.6,150.3L478.1,151.1L483.7,151.4L491.2,154.1L493.0,155.9L487.4,157.1L480.0,155.9L478.1,156.5L481.8,160.2L485.6,161.2L487.4,159.7L491.2,160.1L492.1,157.4L495.8,156.5L498.6,157.1L499.0,154.1L502.4,153.3L503.3,155.9L506.1,154.4L515.4,152.9L522.9,152.6L528.5,152.2L530.4,150.3L536.0,151.3L541.6,152.2L545.3,153.1L544.4,150.3L541.6,148.1L542.5,145.3L546.2,144.3L551.8,144.7L551.8,148.1L552.8,151.8L551.8,155.6L554.6,154.6L554.6,151.8L556.5,146.6L562.1,145.8L567.7,143.2L577.0,142.8L578.9,140.6L588.2,139.1L599.4,138.1L610.6,135.7L616.2,137.2L625.6,137.8L628.4,139.5L621.8,142.5L627.4,143.0L636.8,143.6L646.1,144.0L653.6,145.3L657.3,147.7L662.0,148.4L668.5,147.1L676.9,147.1L677.8,145.3L689.0,145.6L696.5,147.1L700.2,148.4L709.6,148.1L715.2,150.3L722.6,150.5L730.1,150.3L734.8,151.8L735.7,149.9L745.0,150.3L752.5,151.8M80.5,152.2L86.1,153.3L91.7,155.6L97.3,156.5L99.2,157.4L94.5,160.2L89.8,159.7L84.2,157.8L80.5,158.7M752.5,158.7L749.7,160.2L747.8,159.7L751.6,163.1L746.9,164.2L741.3,165.3L734.8,168.7L726.4,169.0L721.7,171.5L718.9,172.8L720.8,176.2L718.5,178.0L715.2,181.4L712.4,182.7L709.0,185.5L707.3,182.7L706.8,178.0L707.7,174.3L711.4,172.0L715.2,168.7L718.9,166.4L722.6,164.0L715.2,165.9L709.6,165.7L704.9,169.0L698.4,170.0L693.7,170.0L683.4,170.0L678.8,172.4L673.2,178.0L669.4,178.8L674.1,180.3L678.8,181.8L679.7,183.6L678.8,187.4L677.8,191.1L675.0,193.9L670.4,197.7L664.8,200.9L661.0,201.4L658.6,203.3L658.2,205.2L654.5,206.9L656.4,208.9L658.0,211.7L657.7,214.9L654.5,216.0L652.3,216.0L652.8,212.7L652.1,210.6L649.8,209.9L650.4,207.0L648.3,206.5L644.2,205.4L642.4,208.0L639.6,207.0L636.8,208.0L636.8,209.9L639.6,211.4L642.4,210.6L645.2,211.7L641.4,213.6L639.2,215.5L641.4,218.3L643.9,221.5L643.3,223.9L643.9,226.7L642.4,229.0L640.1,232.3L637.7,235.1L634.9,237.0L631.2,238.5L628.4,239.4L623.7,240.9L622.2,243.2L620.9,240.7L618.1,240.6L615.3,242.6L614.0,245.4L615.9,248.2L619.0,251.0L620.5,255.7L620.3,258.9L617.2,261.3L615.3,263.2L612.5,264.7L612.5,262.3L610.6,261.3L608.8,260.4L607.8,258.2L605.0,257.0L604.1,255.7L603.2,256.1L602.2,259.5L601.9,263.2L603.7,265.5L605.0,268.3L607.5,269.4L609.5,272.6L609.7,276.3L611.0,278.4L609.7,278.6L606.0,275.9L604.1,273.5L603.7,270.1L602.2,267.5L600.0,265.6L600.4,262.3L600.7,258.5L599.1,253.9L598.7,250.1L595.7,250.5L592.9,251.0L592.5,246.4L590.1,243.6L588.2,240.4L586.4,238.9L584.5,239.8L580.8,240.4L578.9,241.7L578.0,243.6L575.2,244.5L570.5,249.2L566.8,251.4L566.2,255.7L565.5,260.4L564.9,261.7L563.0,264.1L561.2,265.8L558.9,263.2L556.5,258.5L555.2,253.9L553.3,249.2L552.4,244.5L552.2,241.7L549.0,242.1L546.2,239.4L544.4,237.0L541.9,234.6L536.9,233.6L531.3,233.8L525.7,233.3L522.9,230.8L521.0,230.3L517.3,231.2L513.6,229.0L510.8,225.8L508.0,224.3L506.1,225.2L507.0,227.6L509.8,230.8L510.4,232.7L512.6,232.3L512.3,235.1L515.4,235.7L518.2,235.5L521.4,232.3L522.0,235.1L526.3,237.0L528.1,238.9L525.7,242.6L524.2,245.4L520.1,248.0L514.5,250.5L508.0,254.2L501.4,256.7L497.7,257.2L496.4,253.3L494.9,249.2L491.2,243.6L489.3,239.8L486.5,235.1L482.8,229.5L481.8,227.1L481.6,225.8L480.5,229.0L479.0,228.0L477.4,225.0M476.8,222.6L480.5,222.4L481.5,220.5L482.2,218.3L483.5,215.8L483.7,213.6L484.1,212.3L480.9,212.3L477.2,213.4L473.4,212.9L470.6,212.7L467.8,212.1L467.5,209.9L466.0,208.0L465.6,206.1L466.9,205.4L470.6,205.2L470.6,203.9L474.4,203.9L479.0,202.4L482.8,202.9L486.5,204.2L491.2,204.2L494.0,203.1L493.0,200.5L490.2,199.0L486.5,197.1L488.4,194.9L486.5,193.6L482.8,194.5L484.6,196.2L481.8,197.5L479.0,197.5L479.0,195.3L476.2,194.3L474.0,193.9L472.1,196.2L470.3,198.6L468.8,200.5L468.4,202.0L469.7,203.7L466.9,204.6L465.0,204.6L461.3,204.6L460.4,205.7L459.1,205.4L459.1,207.0L460.4,208.9L461.3,209.9L459.4,210.2L459.4,212.7L458.1,212.7L456.6,210.8L455.7,208.9L453.8,206.7L452.7,205.2L452.9,202.7L451.0,201.4L447.3,199.6L444.5,197.7L442.6,196.4L442.1,195.4L439.6,196.2L439.5,198.1L441.7,199.4L443.6,201.8L446.4,202.6L446.4,203.5L450.1,205.2L451.0,205.9L448.2,205.4L447.3,206.9L448.4,208.0L446.4,209.9L445.8,209.9L446.4,208.0L445.4,206.1L443.6,204.8L440.8,203.7L438.5,202.0L436.1,200.5L435.2,198.6L432.9,197.9L430.5,199.0L427.7,200.3L424.9,199.7L422.1,200.1L422.5,202.4L420.2,203.7L417.4,205.0L415.9,207.0L416.5,208.5L415.0,210.4L412.8,212.1L408.1,212.3L406.2,213.6M406.2,187.4L410.0,186.8L414.6,186.1L418.9,185.1L419.5,182.3L416.9,181.8L416.5,180.3L414.1,178.4L412.8,176.5L410.5,176.2L412.8,173.3L410.0,173.0L410.9,171.3L407.2,171.3L405.3,173.3L406.2,176.2L407.2,178.0L410.0,178.2L410.9,179.9L410.9,181.2L408.1,181.4L408.7,183.3L406.8,184.0L410.5,184.8L408.5,185.3ZM405.3,183.3L405.3,179.9L405.7,178.4L402.5,177.5L400.6,179.0L397.8,179.5L398.8,181.8L397.3,183.6L398.8,184.6L402.5,183.6ZM504.2,196.8L508.0,193.9L512.6,193.4L515.4,194.9L515.4,196.8L511.7,197.7L510.4,199.6L514.5,201.4L515.4,204.2L515.1,206.1L516.7,208.0L516.9,211.7L513.6,212.1L509.8,211.0L508.0,208.9L508.9,205.5L507.0,202.7L505.2,200.5ZM525.7,193.9L528.5,193.9L530.7,194.9L530.4,197.7L527.6,199.2L525.3,197.7ZM610.6,184.6L613.4,184.4L618.1,181.8L621.8,177.1L620.0,176.9L616.2,179.9L612.5,182.5ZM554.6,193.8L559.3,193.2L564.0,194.1L559.3,194.3L554.6,195.6ZM660.8,217.3L663.8,216.8L668.5,216.2L672.2,216.0L675.6,216.0L677.8,215.1L679.5,212.7L679.7,209.3L681.6,206.7L680.3,203.5L678.2,205.0L677.5,208.0L675.0,210.8L672.2,211.7L671.7,213.2L670.0,214.3L664.8,214.5L661.0,216.4ZM677.8,203.3L680.6,201.4L684.0,202.4L688.1,199.9L685.9,198.6L682.5,196.2L681.0,196.2L680.6,199.9L678.4,200.9ZM659.2,218.3L662.0,217.9L662.9,219.6L661.6,222.2L659.7,222.6L659.2,220.2ZM663.8,217.5L667.6,217.0L667.2,218.3L664.8,219.6ZM681.6,179.3L683.4,181.8L684.4,186.5L683.4,189.6L684.4,193.4L681.6,194.9L681.6,191.1L681.6,186.5L681.2,183.6ZM643.3,233.8L644.2,235.1L642.2,239.8L640.9,237.9L642.4,234.2ZM619.4,245.1L622.8,243.6L623.7,244.5L620.9,246.9ZM565.8,262.7L568.1,265.1L569.2,267.9L566.8,270.0L565.5,267.9ZM594.4,270.5L598.5,271.3L603.7,275.8L609.7,281.0L611.6,284.7L614.4,287.0L614.0,291.9L611.6,291.9L607.5,288.5L604.7,284.7L601.3,280.1L598.5,276.3ZM612.9,293.7L615.3,292.2L619.0,293.2L622.8,293.7L626.9,293.9L630.2,295.6L629.9,297.1L623.7,296.5L618.1,295.6L615.3,294.9ZM620.0,278.2L621.8,277.6L624.3,276.3L627.4,274.8L631.2,271.6L634.5,268.1L636.2,269.4L638.6,271.3L636.8,272.9L636.4,276.3L638.3,279.1L636.0,281.0L634.0,283.8L633.6,287.6L630.2,288.5L627.4,287.2L624.6,287.0L622.2,286.2L621.5,282.9L620.0,280.1ZM639.6,279.5L642.0,278.6L646.1,279.3L649.8,278.0L648.9,280.3L642.4,280.3L640.9,282.7L643.3,282.9L646.5,282.5L644.2,284.7L645.7,288.5L643.3,290.0L642.0,286.6L641.1,291.3L639.6,291.3L639.6,287.6L638.3,285.9L640.1,281.9ZM661.0,282.5L666.6,282.5L668.5,287.2L673.7,283.8L679.7,285.9L686.2,288.3L689.0,291.3L692.4,292.8L690.9,294.1L693.7,297.9L697.4,300.5L691.8,299.7L689.0,296.4L685.3,295.4L682.5,298.2L677.8,296.4L675.0,296.5L674.1,294.1L675.6,293.7L672.2,290.4L667.6,288.5L664.8,288.5L662.9,286.2ZM641.4,246.4L644.6,246.4L644.2,250.1L643.5,252.9L648.0,256.7L647.6,257.0L645.2,255.2L642.4,255.4L641.1,253.3L640.5,250.7ZM644.2,267.9L647.0,264.9L650.8,262.7L652.6,267.0L650.8,270.1L648.0,269.2ZM644.2,258.9L646.5,259.5L649.8,260.0L650.8,257.6L648.5,257.6L648.0,262.3L646.1,263.6L645.2,261.3ZM635.5,265.1L639.6,261.3L639.4,259.8L635.3,264.5ZM647.0,300.3L649.8,297.9L653.6,296.7L650.8,298.8ZM654.5,279.1L656.4,277.6L655.4,281.0L656.4,282.5L654.9,281.6ZM633.0,296.7L635.8,296.4L638.6,296.9L635.8,297.9ZM639.6,296.9L642.4,296.7L646.1,296.5L642.4,297.7ZM655.4,286.6L660.1,286.6L659.2,287.7L655.4,287.6ZM628.4,322.2L629.7,321.8L634.3,319.6L638.6,318.4L643.3,317.1L644.8,313.8L647.2,313.4L648.9,311.0L651.7,307.2L655.4,308.7L658.2,308.9L659.2,305.0L661.0,303.8L664.0,302.2L668.5,303.8L671.9,303.8L670.4,306.3L669.4,309.1L673.2,311.0L676.5,313.8L679.3,313.8L680.6,310.0L681.0,305.3L682.5,301.2L684.4,304.4L685.3,308.0L687.9,309.1L689.0,313.8L690.0,316.6L693.7,318.8L695.6,322.6L698.0,324.6L701.2,327.8L702.7,331.6L703.0,334.9L702.1,339.0L700.6,342.2L698.7,344.7L696.9,348.4L696.5,351.0L692.8,352.0L690.0,354.0L687.2,352.7L684.4,353.6L680.6,352.7L677.8,350.8L676.9,348.4L674.1,347.5L674.5,345.2L673.5,342.8L673.2,346.2L670.4,346.2L669.4,345.8L667.0,342.4L662.9,340.9L657.3,340.3L651.7,341.5L648.0,342.8L647.0,344.5L640.5,344.5L636.8,346.5L633.0,346.3L631.2,345.2L632.5,340.9L631.5,337.2L629.7,332.5L628.4,329.7L628.9,325.0ZM686.6,357.2L690.0,357.9L693.3,357.6L692.8,360.6L690.9,362.4L689.0,362.4L687.5,360.0ZM738.9,345.6L742.2,348.4L744.7,349.7L746.0,351.8L749.3,351.6L748.4,354.4L746.9,355.0L745.0,357.8L743.2,358.7L743.2,355.9L740.9,354.6L742.6,352.1L742.2,350.3L739.4,346.5ZM739.1,357.0L741.7,358.7L739.4,361.5L736.3,363.8L735.3,366.7L732.9,368.2L729.2,367.5L727.3,366.7L730.1,363.8L733.8,361.5L736.6,359.3ZM80.5,427.4L99.2,428.0L117.8,427.0L127.2,426.1L136.5,425.2L145.8,422.4L155.2,421.4L164.5,420.5L173.8,420.1L183.2,419.2L192.5,419.2L201.8,419.5L211.2,420.5L220.5,420.5L229.8,417.7L239.2,417.7L248.5,417.7L257.8,417.7L267.2,418.2L270.0,417.1L276.5,415.8L280.2,412.6L285.8,409.2L290.5,406.1L295.2,403.6L299.8,401.4L306.4,399.5L310.1,399.3L309.2,400.8L304.5,402.7L300.8,405.5L298.9,409.2L300.8,413.0L302.6,416.7L301.7,420.5L304.5,421.8L312.0,423.7L319.4,425.0L334.4,427.6L347.4,426.3L360.5,423.1L369.8,420.9L379.2,418.6L388.5,416.7L397.8,413.9L407.2,413.0L416.5,412.1L425.8,412.1L435.2,412.1L444.5,411.5L453.8,412.1L463.2,412.1L472.5,410.7L481.8,410.2L487.4,411.1L491.2,409.2L500.5,407.4L509.8,405.5L519.2,404.6L524.8,406.4L534.1,407.4L543.4,407.9L547.2,409.2L552.8,411.1L560.2,410.2L565.8,407.4L575.2,405.5L584.5,405.5L593.8,404.6L603.2,404.0L612.5,405.1L621.8,404.6L631.2,405.5L640.5,405.5L649.8,405.1L659.2,404.6L668.5,404.6L677.8,405.5L687.2,406.4L696.5,408.3L705.8,410.2L715.2,412.1L724.5,413.0L735.7,415.1L730.1,417.3L722.6,420.5L719.8,423.3L720.8,425.7L730.1,426.7L743.2,427.0L752.5,427.4M258.0,240.0L261.6,237.9L266.2,237.8L271.8,240.4L276.5,242.2L278.0,243.2L271.8,243.7L270.9,242.2L267.2,240.4L263.4,239.1ZM277.6,246.4L280.2,243.7L285.8,243.9L288.8,246.2L284.9,246.9L282.1,246.9ZM270.3,246.7L274.1,247.1L271.8,247.7ZM291.1,246.7L293.9,246.7L293.3,247.5ZM512.6,147.1L515.4,145.3L520.1,142.5L524.8,140.0L534.1,138.1L544.4,136.8L539.7,139.1L530.4,140.6L523.8,143.4L520.1,146.2L522.9,148.6L517.3,148.4ZM437.0,132.2L442.6,135.0L446.4,137.4L452.0,135.9L456.6,134.4L450.1,132.2L461.3,130.7L453.8,130.3L444.5,131.2ZM595.7,133.1L603.2,134.4L612.5,134.0L608.8,131.6L599.4,129.3L593.8,131.2ZM672.2,139.6L681.6,141.0L692.8,140.6L696.5,139.6L687.2,138.7L677.8,138.7ZM506.1,130.3L519.2,130.8L528.5,129.3L519.2,128.4ZM749.7,147.7L752.5,147.1L752.5,148.3ZM80.5,147.1L84.2,147.5L80.5,148.3ZM439.8,209.9L445.4,209.5L444.9,212.1L439.8,210.6ZM432.0,204.6L434.6,204.2L434.4,207.6L432.4,208.0ZM432.7,201.4L434.2,200.5L434.0,203.3L432.7,202.7ZM460.4,214.5L465.4,215.1L462.2,215.5ZM476.8,215.5L480.9,214.3L479.8,215.7L477.7,216.2ZM186.9,157.4L194.4,159.3L196.2,156.5L190.6,155.6ZM199.0,166.8L205.6,165.9L211.2,163.4L205.6,164.4ZM232.6,185.5L236.4,186.5L234.5,180.3L231.7,181.8ZM476.2,281.9L480.0,280.6L480.0,285.7L476.2,285.7ZM471.6,287.6L471.0,292.2L474.0,297.1L473.1,292.2ZM480.0,298.8L481.3,303.5L481.8,307.2L480.7,303.5ZM124.9,244.3L126.2,243.0L127.5,244.3L126.2,245.6ZM121.4,240.9L121.9,240.4L122.5,240.9L121.9,241.5ZM118.2,239.8L118.8,239.2L119.3,239.8L118.8,240.4ZM124.2,242.1L124.7,241.5L125.3,242.1L124.7,242.6ZM245.7,281.9L246.6,281.0L247.6,281.9L246.6,282.9ZM747.8,314.3L748.8,313.4L749.7,314.3L748.8,315.3ZM751.0,311.9L751.6,311.3L752.1,311.9L751.6,312.5ZM724.3,320.9L725.4,319.8L726.6,320.9L725.4,322.0ZM727.5,310.0L728.2,309.3L729.0,310.0L728.2,310.8ZM730.1,314.1L730.7,313.6L731.2,314.1L730.7,314.7ZM714.2,298.8L715.2,297.9L716.1,298.8L715.2,299.7ZM708.6,296.0L709.6,295.0L710.5,296.0L709.6,296.9ZM704.9,292.2L705.8,291.3L706.8,292.2L705.8,293.2ZM699.1,289.1L700.2,287.9L701.4,289.1L700.2,290.2ZM695.9,291.9L697.4,290.4L698.9,291.9L697.4,293.4ZM304.9,377.8L306.4,376.3L307.9,377.8L306.4,379.3ZM303.2,377.8L304.1,376.9L305.1,377.8L304.1,378.7ZM330.8,394.5L331.6,393.7L332.3,394.5L331.6,395.2ZM366.5,389.6L367.0,389.0L367.6,389.6L367.0,390.2ZM312.0,395.8L312.9,394.8L313.8,395.8L312.9,396.7ZM304.5,397.6L305.4,396.7L306.4,397.6L305.4,398.6ZM346.7,382.7L347.8,381.5L348.9,382.7L347.8,383.8ZM544.9,373.3L546.2,372.0L547.5,373.3L546.2,374.6ZM386.8,228.6L387.6,227.8L388.3,228.6L387.6,229.3ZM384.2,228.0L384.8,227.5L385.3,228.0L384.8,228.6ZM371.0,251.0L371.7,250.3L372.4,251.0L371.7,251.8ZM363.7,208.9L364.2,208.4L364.8,208.9L364.2,209.5ZM368.3,210.2L368.9,209.7L369.5,210.2L368.9,210.8ZM516.2,257.6L516.9,256.8L517.7,257.6L516.9,258.3ZM523.3,318.8L523.8,318.3L524.4,318.8L523.8,319.4ZM519.5,320.5L520.1,319.9L520.7,320.5L520.1,321.1ZM94.9,306.6L95.4,306.1L96.0,306.6L95.4,307.2ZM136.9,314.0L137.4,313.4L138.0,314.0L137.4,314.5ZM686.6,254.8L687.2,254.2L687.7,254.8L687.2,255.4ZM302.1,254.8L302.6,254.2L303.2,254.8L302.6,255.4ZM301.1,251.0L301.7,250.5L302.3,251.0L301.7,251.6ZM301.9,261.3L302.6,260.6L303.4,261.3L302.6,262.1ZM552.2,273.5L552.8,272.9L553.3,273.5L552.8,274.1ZM552.2,281.0L552.8,280.4L553.3,281.0L552.8,281.6ZM588.8,258.5L589.7,257.6L590.7,258.5L589.7,259.5ZM589.4,266.0L590.1,265.3L590.8,266.0L590.1,266.8ZM87.4,316.6L88.0,316.0L88.5,316.6L88.0,317.1ZM154.6,297.9L155.2,297.3L155.7,297.9L155.2,298.4ZM295.4,220.5L295.7,220.2L296.1,220.5L295.7,220.9ZM402.9,164.9L403.4,164.4L404.0,164.9L403.4,165.5ZM413.5,168.1L414.1,167.5L414.6,168.1L414.1,168.7ZM486.3,368.6L486.9,368.1L487.4,368.6L486.9,369.2ZM512.4,367.7L513.0,367.1L513.6,367.7L513.0,368.2ZM560.8,352.1L561.2,351.8L561.5,352.1L561.2,352.5ZM725.8,375.9L726.4,375.4L726.9,375.9L726.4,376.5ZM712.7,383.0L713.3,382.5L713.9,383.0L713.3,383.6ZM397.3,356.5L397.8,355.9L398.4,356.5L397.8,357.0ZM405.5,311.0L405.9,310.6L406.2,311.0L405.9,311.3ZM389.4,296.0L389.8,295.6L390.2,296.0L389.8,296.4ZM428.3,280.4L428.8,279.9L429.4,280.4L428.8,281.0ZM432.2,274.4L432.7,273.9L433.3,274.4L432.7,275.0ZM496.8,302.9L497.3,302.3L497.9,302.9L497.3,303.5ZM519.5,289.6L520.1,289.1L520.7,289.6L520.1,290.2ZM98.2,182.5L99.2,181.6L100.1,182.5L99.2,183.5ZM93.6,182.8L94.5,181.9L95.4,182.8L94.5,183.7ZM89.8,183.0L90.8,182.1L91.7,183.0L90.8,184.0ZM86.1,183.3L87.0,182.3L88.0,183.3L87.0,184.2ZM83.3,183.4L84.2,182.5L85.2,183.4L84.2,184.4ZM746.9,182.7L747.8,181.8L748.8,182.7L747.8,183.6ZM738.5,182.7L739.4,181.8L740.4,182.7L739.4,183.6ZM689.3,197.5L690.0,196.8L690.6,197.5L690.0,198.2ZM691.8,195.9L692.5,195.3L693.1,195.9L692.5,196.6ZM694.4,194.3L695.0,193.7L695.7,194.3L695.0,195.0ZM696.9,192.7L697.5,192.1L698.2,192.7L697.5,193.4ZM699.4,191.1L700.0,190.5L700.7,191.1L700.0,191.8ZM701.9,189.5L702.6,188.9L703.2,189.5L702.6,190.2ZM704.4,188.0L705.1,187.3L705.7,188.0L705.1,188.6ZM707.0,186.4L707.6,185.7L708.3,186.4L707.6,187.0ZM451.2,141.7L452.0,141.0L452.7,141.7L452.0,142.5Z"/>
<path d="M301.5,156.5L298.5,157.0L297.0,159.5L295.5,160.0L293.5,163.0L289.5,164.0L287.0,163.0L283.0,163.0L282.0,162.0L278.0,161.5L275.5,160.0L274.5,160.0L271.0,159.5L273.0,159.5L274.5,157.5L278.5,157.5L280.0,153.5L278.0,153.5L275.5,151.0L273.0,150.0L272.0,149.0L267.0,150.0L265.5,149.0L259.5,148.5L258.0,149.0L254.5,149.5L251.5,148.5L250.5,148.0L248.5,144.5L252.0,143.5L255.0,142.5L258.0,143.5L259.5,142.5L264.5,143.0L267.0,143.5L269.0,144.0L272.0,144.0L274.5,145.5L278.5,146.5L278.5,146.5L282.0,147.0L284.5,148.5L288.0,148.0L289.5,149.0L293.5,150.0L293.5,153.0L295.5,154.0L297.0,154.0L301.0,154.5ZM198.0,151.0L199.0,152.0L204.0,152.0L205.5,152.5L210.0,152.0L212.5,152.5L215.0,152.5L218.0,152.0L220.5,152.0L224.5,152.5L225.5,151.5L228.0,150.5L224.0,148.0L220.5,147.0L220.5,144.5L218.0,146.0L215.5,144.0L211.0,144.5L207.0,144.5L203.5,144.5L199.5,144.5L197.5,144.5L196.0,145.5L198.0,148.5ZM183.0,147.0L187.0,147.5L187.5,147.5L190.5,146.0L194.5,146.0L196.5,145.5L200.0,143.5L196.0,142.0L191.5,142.0L190.0,143.0L187.0,142.0L186.0,144.0L182.0,144.5ZM248.5,138.0L251.0,137.5L254.0,138.0L258.0,137.0L262.5,136.5L263.0,137.0L267.0,138.0L268.5,137.0L272.5,135.5L274.5,135.0L275.0,134.0L279.0,134.0L282.0,133.0L286.5,133.0L287.5,132.0L290.5,130.0L294.0,131.0L295.0,129.5L299.5,128.5L301.0,126.5L297.5,126.0L293.5,126.5L290.0,125.0L287.5,125.0L286.0,125.5L282.5,124.5L278.5,125.0L276.5,125.5L273.5,126.5L273.0,125.0L269.0,125.0L267.0,125.5L264.0,125.0L263.5,127.5L259.5,126.5L255.5,126.0L254.0,126.5L252.0,127.5L250.5,128.0L246.5,130.5L247.5,132.5L251.5,131.5L254.0,133.0L251.5,134.5ZM239.0,140.5L242.5,142.0L247.0,141.5L248.5,141.5L250.0,141.0L252.5,142.0L256.5,142.0L258.5,141.0L261.5,141.5L265.5,141.5L267.0,139.5L265.5,140.0L262.0,139.0L258.0,138.0L254.0,138.0L252.0,137.0L248.0,137.5L246.5,138.5L245.0,138.0L243.5,139.0ZM200.0,140.5L204.5,142.0L207.5,140.5L207.5,140.5L211.0,141.5L212.5,140.5L216.5,142.0L218.5,140.5L218.5,138.5L217.5,138.5L214.0,139.0L211.0,138.0L207.0,138.5L207.0,138.5L203.5,138.0L200.0,138.0ZM226.0,146.0L228.0,147.0L231.5,147.5L235.5,147.0L240.0,146.5L241.0,146.0L243.0,142.5L239.5,143.5L237.5,141.5L233.5,142.5L229.5,142.0L230.0,144.0L226.0,143.5ZM237.5,135.0L238.5,135.5L244.5,135.0L245.0,134.5L248.5,134.5L252.0,131.0L247.5,129.5L248.0,130.5L243.0,129.5L240.5,131.5L237.5,132.0L235.5,132.0ZM254.0,162.0L258.0,162.0L258.0,163.0L261.5,164.0L265.5,161.0L261.5,160.0L259.5,158.5L256.0,158.5L254.0,159.5ZM230.0,139.5L231.0,141.0L234.0,140.0L237.5,140.5L241.0,138.5L238.5,139.0L235.5,137.0L232.0,138.5L229.0,137.5L226.0,138.0ZM185.0,138.5L188.0,137.5L190.5,138.0L191.5,140.0L196.0,139.5L198.0,137.0L194.5,136.5L194.0,136.5L190.5,136.0L187.0,137.5ZM220.5,136.0L224.0,136.5L225.0,136.5L230.0,136.5L231.5,135.5L236.0,135.5L237.5,135.5L234.5,135.0L231.5,134.0L230.0,134.0L226.0,134.0L222.5,134.0ZM207.5,135.5L211.0,136.0L215.0,136.0L213.0,134.0L209.0,134.0L205.5,134.0ZM192.5,140.0L195.0,141.5L198.0,140.5L200.0,138.5L198.0,139.5L194.5,138.5ZM220.5,139.5L225.5,139.5L227.0,141.0L230.0,140.0L233.5,138.5L232.5,137.5L227.0,138.0L226.0,137.5L221.5,137.0L220.5,138.0ZM237.5,144.5L239.5,145.0L245.0,144.5L248.5,143.0L247.0,143.5L242.0,143.0L241.0,142.0ZM230.0,150.0L233.0,149.5L235.5,151.0L237.5,149.0L233.5,148.0ZM267.0,143.0L271.5,144.5L273.0,144.0L274.5,143.0L271.0,143.5L269.0,142.0ZM256.0,131.0L258.5,131.5L263.5,132.5L263.0,132.0L267.0,132.0L269.5,131.0L271.0,130.5L274.5,130.5L272.5,129.0L269.0,129.5L264.5,129.0L263.5,129.0L261.5,130.0L257.0,131.5ZM263.5,135.0L267.5,136.5L268.0,135.0L273.0,136.0L276.5,134.0L272.0,134.5L270.5,132.5L269.0,133.0L266.0,135.0ZM248.5,128.5L252.5,128.0L253.0,129.5L257.0,129.5L259.5,129.0L260.5,127.5L265.5,128.0L267.0,127.5L262.5,128.0L262.0,127.5L257.0,127.5L256.0,126.5L252.0,128.0L251.0,127.5ZM276.5,131.0L279.5,132.5L281.0,130.5L284.5,131.0L285.5,131.0L289.5,132.0L293.5,131.0L289.0,129.5L287.5,129.5L286.0,129.5L283.5,129.5L279.5,130.0ZM239.0,137.0L242.5,136.0L246.5,137.0L250.5,136.0L247.0,134.5L246.5,135.5L243.0,135.5ZM269.0,153.0L270.5,153.0L274.5,153.5L276.5,152.0L275.5,150.5L271.0,151.0ZM259.5,146.0L263.5,146.5L264.5,147.5L267.0,147.0L271.0,145.5L268.0,145.0L266.5,146.0L263.5,144.5ZM278.5,149.0L280.5,150.0L284.0,150.0L286.0,150.0L287.5,148.0L284.5,147.0L282.0,147.0ZM293.5,157.5L294.5,157.0L299.0,158.5L299.0,155.5L295.0,155.0ZM282.0,160.0L283.0,161.0L286.0,160.0L289.5,161.0L291.5,158.5L287.5,159.0L288.0,158.0L284.0,157.5ZM215.0,153.0L218.0,153.0L222.5,153.5L226.0,152.5L223.0,152.0L220.0,152.0L218.5,152.0ZM261.5,158.0L263.5,159.0L267.0,158.5L269.0,156.5L268.0,156.0L263.5,155.5ZM256.0,154.5L258.0,156.0L261.5,155.0L263.5,153.5L260.0,152.5L258.0,152.5ZM248.5,151.0L249.5,151.0L254.0,151.5L256.0,149.5L253.0,149.0L250.5,149.0ZM244.5,193.5L247.5,192.5L250.5,191.0L252.0,189.5L255.0,190.0L258.0,191.5L258.5,193.5L256.0,194.0L253.0,194.0L251.5,192.5L248.5,193.5ZM252.5,203.0L254.5,202.5L255.5,200.5L255.5,197.5L257.0,196.5L258.0,195.0L256.0,195.0L253.5,196.0L252.5,198.5L253.0,201.0ZM258.5,195.0L260.5,194.5L263.5,195.0L266.0,196.0L267.0,197.5L264.5,197.5L264.0,199.5L262.5,200.5L262.0,198.5L260.5,199.0L261.0,197.0L259.0,195.5ZM261.0,202.5L262.5,203.5L265.5,202.5L268.0,201.5L269.0,200.5L267.0,201.0L264.5,201.0L262.0,202.0ZM267.5,200.0L270.0,199.5L273.0,200.0L274.5,199.0L273.5,198.0L271.5,198.5L268.5,199.0ZM272.5,208.0L274.0,210.0L274.5,211.5L274.6,211.9M275.5,207.0L276.0,208.0L276.5,208.4M273.5,214.0L275.0,214.5L274.6,215.5M284.5,200.0L287.0,199.0L289.5,198.0L291.8,197.1M296.0,193.0L299.0,194.0L301.0,194.5L299.0,194.5L296.7,193.9M302.5,192.5L304.5,194.0L303.9,195.3M298.0,188.0L301.0,188.5L301.1,189.1M312.0,183.5L312.0,181.0L309.5,179.5L307.5,178.0L305.0,177.0L303.5,176.0L301.0,173.5L299.0,170.5L296.5,168.3M278.5,359.5L277.0,362.0L276.5,364.0L276.5,367.0L276.0,369.0L276.5,372.0L276.0,374.5L277.5,376.5L278.5,379.0L279.5,380.0L281.0,381.0L284.0,382.0L285.0,383.5L287.5,384.5L288.5,385.0L291.4,384.9M280.0,362.5L280.5,365.0L279.5,367.0L278.5,369.0L278.5,371.0L278.5,373.5L279.0,376.0L278.5,377.5L281.0,380.0L283.0,381.0L285.5,382.5L287.7,383.0M274.5,416.5L276.0,414.5L278.0,413.5L279.5,413.0L282.0,411.0L284.0,410.5L286.0,409.5L287.5,407.0L289.5,407.0L292.0,406.5L293.5,405.0L295.5,403.0L297.0,402.5L299.5,401.5L301.0,400.5L304.5,400.0L306.4,399.5M131.0,170.5L133.0,170.5L134.5,168.5L136.5,167.5L139.0,168.0L142.0,168.0L144.0,167.5L146.5,167.5L148.0,168.0L151.0,168.5L153.0,168.5L155.0,169.5L157.0,170.0L160.5,172.0L162.5,172.5L165.0,173.5L166.5,175.0L168.5,177.0L171.0,179.0L173.5,180.0L175.5,182.5L178.0,184.0L180.0,186.5L181.5,187.5L182.5,188.5L185.0,189.6M162.5,173.5L165.5,175.5L167.5,176.0L168.5,177.5L170.0,180.0L171.5,182.0L174.0,182.5L175.0,184.5L177.6,186.5M103.0,181.0L105.0,180.5L108.5,179.5L112.0,178.0L114.0,178.0L117.5,177.5L119.5,176.5L122.0,176.0L123.0,175.5L125.5,174.5L129.0,173.3M130.0,173.5L132.0,172.5L133.0,174.0L129.0,174.7M426.0,170.5L426.5,167.0L427.5,164.0L429.5,162.5L430.5,162.5L433.5,161.5L435.5,160.0L438.0,159.5L439.0,157.5L441.0,156.0L442.5,155.0L444.5,153.0L445.5,153.0L449.0,151.0L450.0,151.0L453.5,150.5L455.5,149.5L457.5,149.0L460.0,148.5L463.5,148.5L465.0,148.1M440.0,154.0L442.5,153.0L445.4,152.0M404.5,177.0L405.5,175.0L404.5,173.5L403.0,173.5L403.1,172.0M641.5,247.5L642.0,249.0L643.5,251.0L642.5,255.0L645.0,257.5L647.0,260.5L649.0,263.0L649.5,264.0L650.8,267.0M642.5,248.0L642.0,251.5L644.0,253.0L644.5,256.0L645.5,256.5L646.5,257.5L649.0,259.5L650.0,262.5L651.0,265.0L649.8,268.8M644.0,258.5L645.0,260.0L646.0,262.5L647.0,265.0L645.2,267.0M639.5,282.0L641.5,284.5L642.5,287.5L644.0,289.5L645.0,286.5L643.3,283.8M648.0,282.0L649.5,284.0L651.5,284.5L654.0,286.0L655.5,287.0L659.2,287.2M654.5,282.0L655.5,279.0L655.5,277.5L654.7,280.1M631.0,297.0L635.0,297.0L638.5,297.0L642.5,297.5L646.0,296.5L649.8,296.5M674.0,216.0L678.0,214.5L679.0,213.0L679.5,211.0L681.0,209.0L681.0,207.0L680.3,204.2M660.0,219.0L661.0,221.0L660.1,222.0M705.0,291.5L707.5,293.5L710.5,296.0L712.5,296.5L714.0,298.0L717.0,299.7M708.5,294.0L710.5,295.0L712.5,295.5L715.2,297.9M695.5,291.5L698.5,290.5L700.0,289.0L699.5,291.5L696.5,292.6M698.5,286.5L701.0,288.0L702.1,289.6M727.5,308.0L729.0,311.0L731.0,314.5L732.9,317.5M722.5,319.0L725.5,321.0L728.2,322.8M459.5,210.0L461.5,211.0L463.0,211.5L465.0,211.0L466.0,209.0L463.2,207.0M460.5,208.0L462.0,209.5L464.0,212.5L467.8,213.6M433.5,178.0L435.0,177.0L437.0,177.5L439.0,176.5L440.0,177.5L437.0,178.4M519.0,146.0L521.5,144.5L523.0,142.5L524.5,141.0L527.0,140.0L528.5,139.5L531.0,139.0L533.0,139.0L536.0,138.0L537.8,137.8M439.0,133.0L442.0,134.0L444.5,135.0L447.5,135.5L450.0,136.0L452.5,134.5L455.5,134.0L453.0,134.0L450.5,132.5L448.0,132.0L451.0,132.5L453.0,131.0L455.0,131.0L457.6,131.2M595.5,132.0L598.0,132.0L600.5,132.5L603.0,133.5L605.5,134.0L608.5,133.0L610.5,133.0L608.0,132.0L605.5,131.0L603.2,130.3M674.0,139.0L676.0,139.0L679.5,139.5L681.5,140.0L684.0,140.0L686.5,139.5L688.5,139.5L690.9,139.8M301.5,261.5L302.5,258.5L302.5,255.5L302.5,253.0L301.5,250.5L300.0,248.0L296.1,246.9M269.0,231.5L271.0,234.0L272.0,236.0L274.5,237.0L276.5,239.0L279.3,241.7M315.5,152.0L318.0,151.5L320.5,151.0L321.5,152.5L317.5,153.0L315.7,151.8M317.5,149.0L321.5,148.0L319.5,146.5L315.7,147.1M366.0,149.0L369.5,149.5L371.5,149.5L374.5,148.0L372.5,147.0L370.0,147.0L367.0,147.5L365.0,147.5L366.1,149.0M371.5,145.5L375.5,145.5L375.5,144.0L373.5,143.5L370.8,143.4M375.5,142.5L379.0,141.5L380.0,139.5L377.3,138.7M330.5,167.5L334.5,168.5L336.0,167.0L332.5,166.4M196.0,150.5L199.0,149.5L201.0,152.0L203.5,151.5L207.5,150.0L206.0,150.0L202.0,148.5L201.0,149.0ZM211.0,150.0L213.5,149.5L218.5,150.5L222.5,149.0L220.0,149.0L219.0,148.5L215.0,147.5ZM202.0,147.0L205.5,148.0L208.0,147.5L211.0,147.5L215.0,146.0L210.5,146.5L209.0,146.5L207.5,145.0L205.0,145.5ZM189.0,145.5L190.0,144.5L194.5,144.5L192.5,143.0L190.0,144.0L187.0,143.5ZM207.5,140.0L209.5,139.5L215.0,140.5L217.0,139.0L214.0,139.0L211.0,138.5ZM239.0,141.5L242.5,140.5L246.5,141.0L250.0,139.0L252.0,139.5L247.5,139.5L245.0,139.0L243.5,140.5ZM252.0,139.0L257.5,139.5L259.5,139.5L261.5,138.5L265.5,138.5L264.5,139.0L259.5,137.0L258.0,137.5L255.0,139.0ZM252.0,146.0L254.5,146.0L258.0,147.0L259.5,144.5L257.5,145.5L254.0,144.0ZM271.0,148.0L272.5,147.0L276.5,148.5L278.5,146.5L275.0,146.0L273.0,146.0ZM261.5,133.0L265.5,132.5L269.0,134.0L271.0,133.5L274.5,132.0L272.0,131.0L271.5,131.0L267.0,131.0L265.5,131.5ZM245.0,133.0L247.5,134.0L252.0,133.5L254.0,132.0L250.5,132.5L248.5,131.0ZM286.0,127.5L288.5,127.0L290.5,127.5L295.0,129.0L297.0,128.0L301.0,127.0L296.5,126.5L293.5,127.5L291.5,126.0L287.5,125.5ZM230.0,153.0L230.5,153.0L236.5,154.5L237.5,153.5L241.0,152.0L239.5,153.0L237.5,151.0L233.5,151.0ZM233.5,145.5L235.0,146.5L239.0,146.0L241.0,144.0L239.0,142.5L235.5,143.0ZM222.5,143.5L226.5,143.5L230.0,144.0L231.5,142.5L228.5,141.5L226.0,141.5ZM274.5,156.5L277.0,155.5L282.0,157.0L284.0,155.0L280.5,154.5L278.5,154.5ZM286.0,153.5L290.5,153.0L291.5,154.5L293.5,153.0L292.5,151.5L287.5,152.0ZM267.0,164.0L269.5,165.0L273.0,164.5L274.5,163.0L273.0,162.5L269.0,162.5ZM301.0,127.5L302.0,127.5L304.5,128.0L306.5,127.0L309.5,126.5L311.0,127.5L313.5,126.5L314.5,126.5L317.5,126.5L319.5,127.5L321.0,126.5L323.0,126.5L326.0,126.5L327.0,126.5L329.0,126.0L331.0,126.5L334.0,126.0L336.0,125.0L337.5,125.5L340.5,126.0L342.0,125.0L343.5,124.5L346.0,125.0L348.5,124.5L350.5,125.5L352.5,125.5L354.5,125.0L356.0,125.0L359.0,124.5L360.5,125.0L362.0,126.0L364.5,125.0L366.0,126.0L369.0,127.0L371.5,127.0L373.0,126.0L375.5,127.0L377.0,127.5L380.0,127.5L382.0,128.0L384.5,128.5L386.6,128.8M293.5,129.5L295.5,130.0L297.5,128.5L300.0,128.5L301.5,128.5L304.0,128.0L305.5,128.0L307.0,128.5L310.0,127.5L311.5,128.0L314.0,127.0L316.0,126.5L318.5,127.0L320.5,126.0L322.0,127.0L324.5,127.0L325.5,126.0L327.5,125.5L331.0,126.0L333.0,125.5L334.5,125.5L337.0,125.5L338.0,126.0L341.0,125.0L342.5,125.5L344.0,125.0L346.0,124.5L348.5,125.0L351.0,124.5L352.0,124.5L355.0,125.0L357.5,124.5L359.0,125.0L361.5,125.5L363.0,125.0L365.5,125.5L368.0,125.0L370.0,126.0L371.5,127.0L374.0,127.0L376.0,129.0L378.5,129.0L380.5,129.5L382.9,130.3M379.0,131.0L381.0,133.5L382.0,135.0L380.1,137.8M436.0,131.5L439.0,134.5L441.5,135.0L444.5,137.0L448.0,137.5L452.0,135.5L455.5,134.5L457.5,134.5L461.5,133.0L463.0,133.0L467.0,131.0L463.5,131.5L460.5,131.0L457.5,130.5L454.5,130.0L450.5,130.5L449.5,131.5L446.5,131.0L442.5,131.0L441.0,131.0L438.0,131.0ZM439.0,132.5L441.5,133.5L443.5,133.5L446.5,134.0L449.0,134.0L451.0,133.0L454.0,133.0L456.5,133.5L458.5,132.0L461.5,132.0L463.2,131.6M442.5,135.5L445.5,135.5L447.5,135.0L449.0,135.5L451.5,135.5L453.5,136.0L455.7,135.3M454.0,136.0L457.0,136.0L459.5,136.5L462.0,135.0L457.5,134.0ZM450.0,131.0L452.0,131.5L455.0,131.5L457.5,132.0L460.0,131.5L464.0,131.5L467.0,131.0L463.5,130.5L461.5,130.0L459.0,130.0L456.0,130.5L453.0,131.0Z" stroke-width="1.5"/>
<path d="M116,300h1v1h-1zM120,297h1v1h-1zM154,296h1v1h-1zM156,299h1v1h-1zM142,306h1v1h-1zM144,312h1v1h-1zM132,312h1v1h-1zM136,313h2v2h-2zM144,318h1v1h-1zM154,310h1v1h-1zM154,316h1v1h-1zM152,320h1v1h-1zM160,324h1v1h-1zM162,320h1v1h-1zM172,328h1v1h-1zM182,326h1v1h-1zM212,330h1v1h-1zM94,306h2v2h-2zM88,320h1v1h-1zM98,316h1v1h-1zM86,362h2v2h-2zM112,269h1v1h-1zM122,278h1v1h-1zM92,286h1v1h-1zM96,288h1v1h-1zM86,280h1v1h-1z" fill="#000" stroke="none"/>
</g>
<g stroke="#000" stroke-width="1" fill="none" shape-rendering="crispEdges">
<rect x="80.5" y="112.5" width="672.0" height="337.0"/>
<path d="M80.5,112.5v7M80.5,449.5v-7M99.5,112.5v4M99.5,449.5v-4M117.5,112.5v4M117.5,449.5v-4M136.5,112.5v4M136.5,449.5v-4M155.5,112.5v4M155.5,449.5v-4M173.5,112.5v4M173.5,449.5v-4M192.5,112.5v7M192.5,449.5v-7M211.5,112.5v4M211.5,449.5v-4M229.5,112.5v4M229.5,449.5v-4M248.5,112.5v4M248.5,449.5v-4M267.5,112.5v4M267.5,449.5v-4M285.5,112.5v4M285.5,449.5v-4M304.5,112.5v7M304.5,449.5v-7M323.5,112.5v4M323.5,449.5v-4M341.5,112.5v4M341.5,449.5v-4M360.5,112.5v4M360.5,449.5v-4M379.5,112.5v4M379.5,449.5v-4M397.5,112.5v4M397.5,449.5v-4M416.5,112.5v7M416.5,449.5v-7M435.5,112.5v4M435.5,449.5v-4M453.5,112.5v4M453.5,449.5v-4M472.5,112.5v4M472.5,449.5v-4M491.5,112.5v4M491.5,449.5v-4M509.5,112.5v4M509.5,449.5v-4M528.5,112.5v7M528.5,449.5v-7M547.5,112.5v4M547.5,449.5v-4M565.5,112.5v4M565.5,449.5v-4M584.5,112.5v4M584.5,449.5v-4M603.5,112.5v4M603.5,449.5v-4M621.5,112.5v4M621.5,449.5v-4M640.5,112.5v7M640.5,449.5v-7M659.5,112.5v4M659.5,449.5v-4M677.5,112.5v4M677.5,449.5v-4M696.5,112.5v4M696.5,449.5v-4M715.5,112.5v4M715.5,449.5v-4M733.5,112.5v4M733.5,449.5v-4M752.5,112.5v7M752.5,449.5v-7M80.5,449.5h4M752.5,449.5h-4M80.5,430.5h8M752.5,430.5h-8M80.5,412.5h4M752.5,412.5h-4M80.5,393.5h4M752.5,393.5h-4M80.5,374.5h4M752.5,374.5h-4M80.5,355.5h8M752.5,355.5h-8M80.5,337.5h4M752.5,337.5h-4M80.5,318.5h4M752.5,318.5h-4M80.5,299.5h4M752.5,299.5h-4M80.5,280.5h8M752.5,280.5h-8M80.5,262.5h4M752.5,262.5h-4M80.5,243.5h4M752.5,243.5h-4M80.5,224.5h4M752.5,224.5h-4M80.5,206.5h8M752.5,206.5h-8M80.5,187.5h4M752.5,187.5h-4M80.5,168.5h4M752.5,168.5h-4M80.5,149.5h4M752.5,149.5h-4M80.5,131.5h8M752.5,131.5h-8M80.5,112.5h4M752.5,112.5h-4"/>
</g>
<g shape-rendering="crispEdges">
<rect x="82.50" y="492.5" width="61.00" height="13.0" fill="#ff0a00"/>
<rect x="143.50" y="492.5" width="60.00" height="13.0" fill="#ff8000"/>
<rect x="203.50" y="492.5" width="61.00" height="13.0" fill="#e8e600"/>
<rect x="264.50" y="492.5" width="61.00" height="13.0" fill="#82fa05"/>
<rect x="325.50" y="492.5" width="61.00" height="13.0" fill="#19ff14"/>
<rect x="386.50" y="492.5" width="60.00" height="13.0" fill="#e6e6e6"/>
<rect x="446.50" y="492.5" width="61.00" height="13.0" fill="#00ffdc"/>
<rect x="507.50" y="492.5" width="61.00" height="13.0" fill="#00aaff"/>
<rect x="568.50" y="492.5" width="61.00" height="13.0" fill="#0046ff"/>
<rect x="629.50" y="492.5" width="60.00" height="13.0" fill="#3200ff"/>
<rect x="689.50" y="492.5" width="61.00" height="13.0" fill="#8200ff"/>
<path d="M143.5,492.5V505.5M203.5,492.5V505.5M264.5,492.5V505.5M325.5,492.5V505.5M386.5,492.5V505.5M446.5,492.5V505.5M507.5,492.5V505.5M568.5,492.5V505.5M629.5,492.5V505.5M689.5,492.5V505.5" stroke="#000" stroke-width="1"/>
<rect x="82.5" y="492.5" width="668.0" height="13.0" fill="none" stroke="#000" stroke-width="1"/>
</g>
</svg>
<div class="t" style="left:417.5px;transform:translateX(-50%);top:51.21px;font-size:31.75px;line-height:36.48px;">Precipitation - Evaporation (in mm/day)</div>
<div class="t" style="left:80.5px;top:93.02px;font-size:17.6px;line-height:20.22px;">Expt = tdwtc-tdwta</div>
<div class="t" style="left:416.5px;transform:translateX(-50%);top:86.05px;font-size:17.9px;line-height:20.57px;">002kyr BP - 000kyr BP</div>
<div class="t" style="right:47.700000000000045px;top:90.32px;font-size:17.6px;line-height:20.22px;">DJF</div>
<div class="t" style="right:728.5px;top:123.36px;font-size:15px;line-height:17.23px;">80N</div>
<div class="t" style="right:728.5px;top:198.25px;font-size:15px;line-height:17.23px;">40N</div>
<div class="t" style="right:728.5px;top:273.13px;font-size:15px;line-height:17.23px;">0</div>
<div class="t" style="right:728.5px;top:348.02px;font-size:15px;line-height:17.23px;">40S</div>
<div class="t" style="right:728.5px;top:422.91px;font-size:15px;line-height:17.23px;">80S</div>
<div class="t" style="left:80.0px;transform:translateX(-50%);top:456.51px;font-size:14.8px;line-height:17.01px;">180</div>
<div class="t" style="left:192.0px;transform:translateX(-50%);top:456.51px;font-size:14.8px;line-height:17.01px;">120W</div>
<div class="t" style="left:304.0px;transform:translateX(-50%);top:456.51px;font-size:14.8px;line-height:17.01px;">60W</div>
<div class="t" style="left:416.0px;transform:translateX(-50%);top:456.51px;font-size:14.8px;line-height:17.01px;">0</div>
<div class="t" style="left:528.0px;transform:translateX(-50%);top:456.51px;font-size:14.8px;line-height:17.01px;">60E</div>
<div class="t" style="left:640.0px;transform:translateX(-50%);top:456.51px;font-size:14.8px;line-height:17.01px;">120E</div>
<div class="t" style="left:752.0px;transform:translateX(-50%);top:456.51px;font-size:14.8px;line-height:17.01px;">180</div>
<div class="t" style="left:143.5px;transform:translateX(-50%);top:505.46px;font-size:18.9px;line-height:21.72px;-webkit-text-stroke:0.5px #000;">-4</div>
<div class="t" style="left:203.5px;transform:translateX(-50%);top:505.46px;font-size:18.9px;line-height:21.72px;-webkit-text-stroke:0.5px #000;">-2</div>
<div class="t" style="left:264.5px;transform:translateX(-50%);top:505.46px;font-size:18.9px;line-height:21.72px;-webkit-text-stroke:0.5px #000;">-1</div>
<div class="t" style="left:325.5px;transform:translateX(-50%);top:505.46px;font-size:18.9px;line-height:21.72px;-webkit-text-stroke:0.5px #000;">-0.5</div>
<div class="t" style="left:386.5px;transform:translateX(-50%);top:505.46px;font-size:18.9px;line-height:21.72px;-webkit-text-stroke:0.5px #000;">-0.25</div>
<div class="t" style="left:446.5px;transform:translateX(-50%);top:505.46px;font-size:18.9px;line-height:21.72px;-webkit-text-stroke:0.5px #000;">0.25</div>
<div class="t" style="left:507.5px;transform:translateX(-50%);top:505.46px;font-size:18.9px;line-height:21.72px;-webkit-text-stroke:0.5px #000;">0.5</div>
<div class="t" style="left:568.5px;transform:translateX(-50%);top:505.46px;font-size:18.9px;line-height:21.72px;-webkit-text-stroke:0.5px #000;">1</div>
<div class="t" style="left:629.5px;transform:translateX(-50%);top:505.46px;font-size:18.9px;line-height:21.72px;-webkit-text-stroke:0.5px #000;">2</div>
<div class="t" style="left:689.5px;transform:translateX(-50%);top:505.46px;font-size:18.9px;line-height:21.72px;-webkit-text-stroke:0.5px #000;">4</div>
</body></html>
